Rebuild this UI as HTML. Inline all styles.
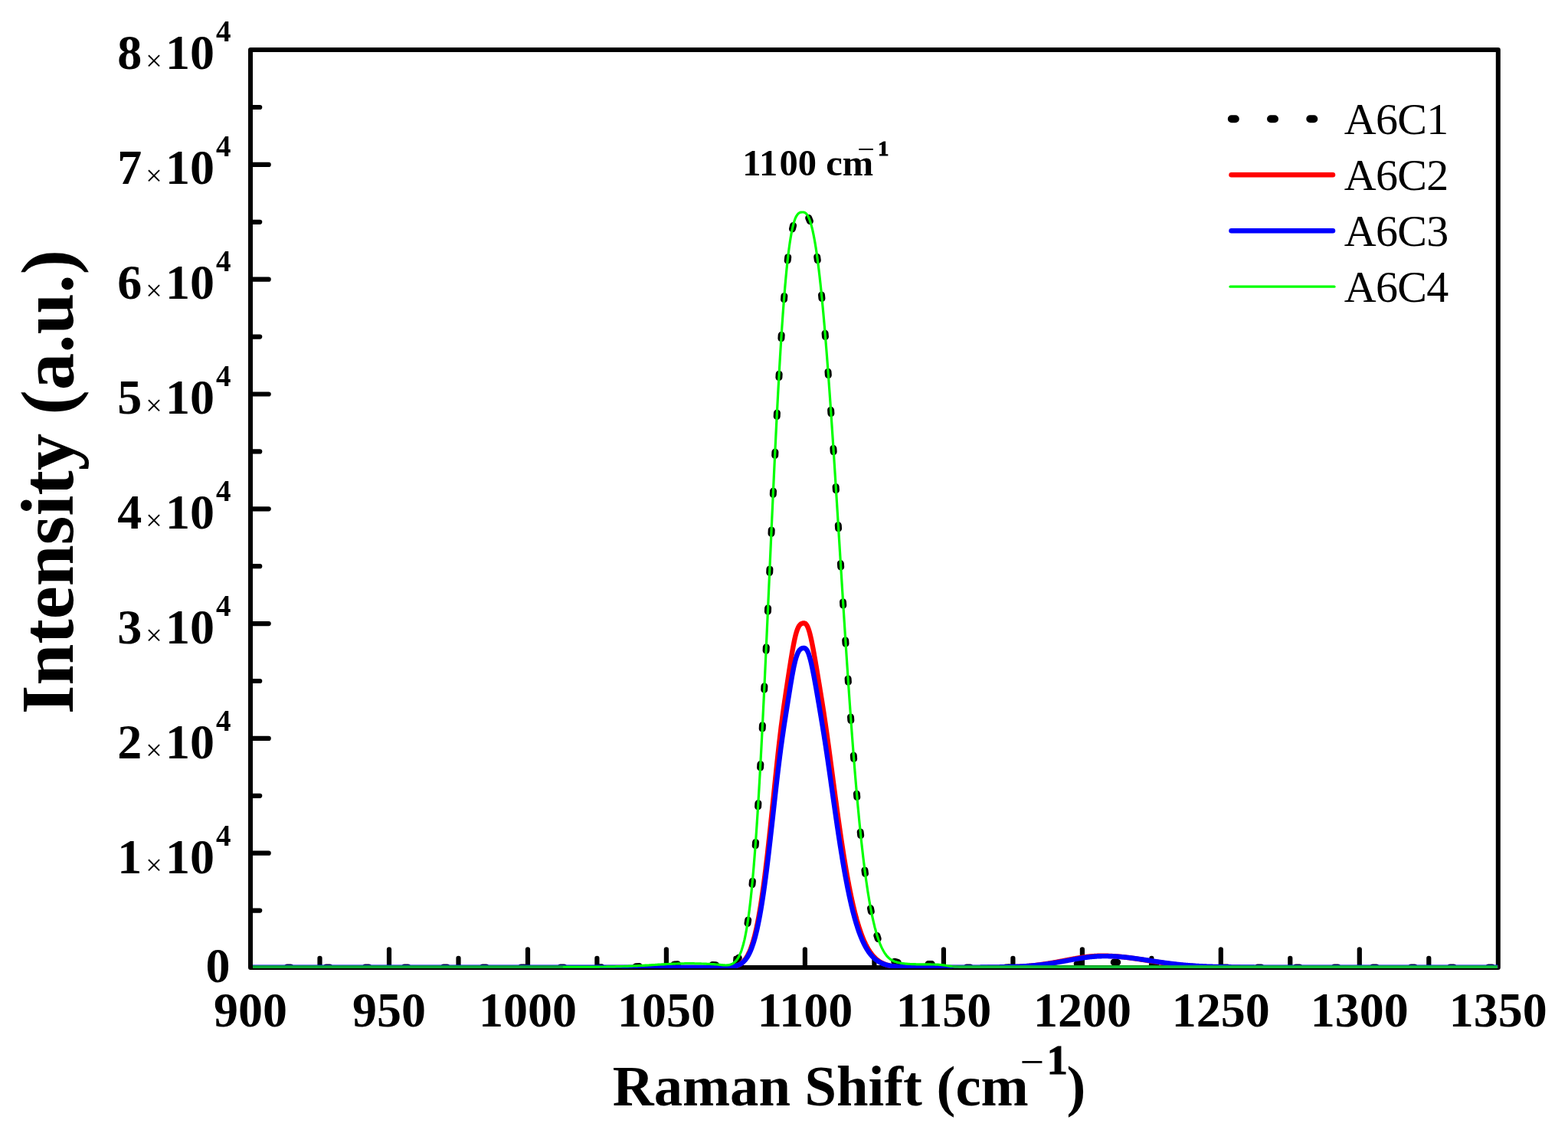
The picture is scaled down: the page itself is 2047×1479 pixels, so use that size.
<!DOCTYPE html>
<html lang="en"><head><meta charset="utf-8"><title>Raman spectra</title>
<style>html,body{margin:0;padding:0;background:#fff}svg{display:block}text{font-family:"Liberation Serif","DejaVu Serif",serif;fill:#000}.b{font-weight:bold}</style></head><body>
<svg width="2047" height="1479" viewBox="0 0 2047 1479">
<rect width="2047" height="1479" fill="#fff"/>
<defs><clipPath id="cp"><rect x="330.0" y="65.0" width="1625.8" height="1198.9"/></clipPath></defs>
<rect x="327.0" y="65.0" width="1628.8" height="1198.0" stroke="#000" stroke-width="6" stroke-linejoin="round" fill="none"/>
<g stroke="#000" stroke-width="6.2" stroke-linecap="round" fill="none">
<line x1="417.5" y1="1262.0" x2="417.5" y2="1250.8"/>
<line x1="508.0" y1="1262.0" x2="508.0" y2="1239.3"/>
<line x1="598.5" y1="1262.0" x2="598.5" y2="1250.8"/>
<line x1="689.0" y1="1262.0" x2="689.0" y2="1239.3"/>
<line x1="779.4" y1="1262.0" x2="779.4" y2="1250.8"/>
<line x1="869.9" y1="1262.0" x2="869.9" y2="1239.3"/>
<line x1="960.4" y1="1262.0" x2="960.4" y2="1250.8"/>
<line x1="1050.9" y1="1262.0" x2="1050.9" y2="1239.3"/>
<line x1="1141.4" y1="1262.0" x2="1141.4" y2="1250.8"/>
<line x1="1231.9" y1="1262.0" x2="1231.9" y2="1239.3"/>
<line x1="1322.4" y1="1262.0" x2="1322.4" y2="1250.8"/>
<line x1="1412.9" y1="1262.0" x2="1412.9" y2="1239.3"/>
<line x1="1503.4" y1="1262.0" x2="1503.4" y2="1250.8"/>
<line x1="1593.8" y1="1262.0" x2="1593.8" y2="1239.3"/>
<line x1="1684.3" y1="1262.0" x2="1684.3" y2="1250.8"/>
<line x1="1774.8" y1="1262.0" x2="1774.8" y2="1239.3"/>
<line x1="1865.3" y1="1262.0" x2="1865.3" y2="1250.8"/>
<line x1="328.0" y1="1188.6" x2="339.2" y2="1188.6"/>
<line x1="328.0" y1="1113.7" x2="350.7" y2="1113.7"/>
<line x1="328.0" y1="1038.8" x2="339.2" y2="1038.8"/>
<line x1="328.0" y1="963.9" x2="350.7" y2="963.9"/>
<line x1="328.0" y1="889.0" x2="339.2" y2="889.0"/>
<line x1="328.0" y1="814.1" x2="350.7" y2="814.1"/>
<line x1="328.0" y1="739.2" x2="339.2" y2="739.2"/>
<line x1="328.0" y1="664.3" x2="350.7" y2="664.3"/>
<line x1="328.0" y1="589.4" x2="339.2" y2="589.4"/>
<line x1="328.0" y1="514.5" x2="350.7" y2="514.5"/>
<line x1="328.0" y1="439.6" x2="339.2" y2="439.6"/>
<line x1="328.0" y1="364.7" x2="350.7" y2="364.7"/>
<line x1="328.0" y1="289.8" x2="339.2" y2="289.8"/>
<line x1="328.0" y1="214.9" x2="350.7" y2="214.9"/>
<line x1="328.0" y1="140.0" x2="339.2" y2="140.0"/>
</g>
<g fill="none" stroke-linejoin="round" clip-path="url(#cp)">
<path d="M374.9,1263.0 l4.50,0.00M425.9,1263.0 l4.50,0.00M476.9,1263.0 l4.50,0.00M528.0,1263.0 l4.50,0.00M579.1,1263.0 l4.50,-0.00M630.1,1263.0 l4.50,-0.00M680.3,1263.0 l4.50,-0.00M731.8,1263.0 l4.50,-0.00M780.8,1262.9 l4.50,-0.04M830.0,1261.7 l4.49,-0.22M880.1,1258.9 l4.50,-0.16M930.1,1259.4 l4.49,0.30M961.8,1254.0 l2.44,-3.78M976.0,1205.4 l0.67,-4.45M982.0,1154.7 l0.42,-4.48M986.2,1103.9 l0.33,-4.49M989.6,1053.0 l0.28,-4.49M992.6,1002.1 l0.24,-4.49M995.2,951.2 l0.23,-4.49M997.7,900.2 l0.21,-4.49M1000.1,849.3 l0.21,-4.50M1002.4,798.3 l0.20,-4.50M1004.7,747.4 l0.20,-4.50M1007.0,696.4 l0.20,-4.50M1009.3,645.5 l0.21,-4.50M1011.7,594.5 l0.22,-4.49M1014.2,543.6 l0.23,-4.49M1016.9,492.7 l0.26,-4.49M1019.9,441.8 l0.29,-4.49M1023.5,390.9 l0.36,-4.49M1028.2,340.1 l0.51,-4.47M1034.5,298.8 l1.05,-4.38M1055.7,284.5 l1.68,4.18M1066.7,335.3 l0.61,4.46M1072.5,385.1 l0.44,4.48M1077.1,435.1 l0.37,4.48M1081.0,485.2 l0.33,4.49M1084.6,535.3 l0.31,4.49M1087.9,585.3 l0.29,4.49M1091.1,635.4 l0.28,4.49M1094.3,685.5 l0.28,4.49M1097.4,735.6 l0.28,4.49M1100.5,785.7 l0.28,4.49M1103.7,835.8 l0.29,4.49M1107.1,885.9 l0.30,4.49M1110.5,936.0 l0.32,4.49M1114.3,986.1 l0.35,4.49M1118.4,1036.1 l0.40,4.48M1123.2,1086.1 l0.46,4.48M1128.9,1135.9 l0.59,4.46M1136.5,1185.6 l0.84,4.42M1144.8,1221.2 l1.37,4.29M1167.8,1255.2 l4.36,1.11M1211.9,1258.5 l4.50,0.06M1262.0,1263.0 l4.50,0.01M1313.0,1262.9 l4.50,-0.03M1362.8,1261.6 l4.49,-0.26M1406.2,1258.2 l4.48,-0.40M1454.2,1256.1 l4.50,0.12M1504.3,1259.3 l4.49,0.36M1554.4,1262.2 l4.50,0.13M1597.8,1262.9 l4.50,0.02M1641.9,1263.0 l4.50,0.00M1692.0,1263.0 l4.50,0.00M1742.0,1263.0 l4.50,0.00M1792.2,1263.0 l4.50,0.00M1842.2,1263.0 l4.50,0.00M1893.2,1263.0 l4.50,0.00M1943.3,1263.0 l4.50,0.00" stroke="#000" stroke-width="9" stroke-linecap="round"/>
<path d="M327.0,1263.2 L327.5,1263.2 L328.0,1263.2 L328.5,1263.2 L329.0,1263.2 L329.5,1263.2 L330.0,1263.2 L330.5,1263.2 L331.0,1263.2 L331.5,1263.2 L332.0,1263.2 L332.5,1263.2 L333.0,1263.2 L333.5,1263.2 L334.0,1263.2 L334.5,1263.2 L335.0,1263.2 L335.5,1263.2 L336.0,1263.2 L336.5,1263.2 L337.0,1263.2 L337.5,1263.2 L338.0,1263.2 L338.5,1263.2 L339.0,1263.2 L339.5,1263.2 L340.0,1263.2 L340.5,1263.2 L341.0,1263.2 L341.5,1263.2 L342.0,1263.2 L342.5,1263.2 L343.0,1263.2 L343.5,1263.2 L344.0,1263.2 L344.5,1263.2 L345.0,1263.2 L345.5,1263.2 L346.0,1263.2 L346.5,1263.2 L347.0,1263.2 L347.5,1263.2 L348.0,1263.2 L348.5,1263.2 L349.0,1263.2 L349.5,1263.2 L350.0,1263.2 L350.5,1263.2 L351.0,1263.2 L351.5,1263.2 L352.0,1263.2 L352.5,1263.2 L353.0,1263.2 L353.5,1263.2 L354.0,1263.2 L354.5,1263.2 L355.0,1263.2 L355.5,1263.2 L356.0,1263.2 L356.5,1263.2 L357.0,1263.2 L357.5,1263.2 L358.0,1263.2 L358.5,1263.2 L359.0,1263.2 L359.5,1263.2 L360.0,1263.2 L360.5,1263.2 L361.0,1263.2 L361.5,1263.2 L362.0,1263.2 L362.5,1263.2 L363.0,1263.2 L363.5,1263.2 L364.0,1263.2 L364.5,1263.2 L365.0,1263.2 L365.5,1263.2 L366.0,1263.2 L366.5,1263.2 L367.0,1263.2 L367.5,1263.2 L368.0,1263.2 L368.5,1263.2 L369.0,1263.2 L369.5,1263.2 L370.0,1263.2 L370.5,1263.2 L371.0,1263.2 L371.5,1263.2 L372.0,1263.2 L372.5,1263.2 L373.0,1263.2 L373.5,1263.2 L374.0,1263.2 L374.5,1263.2 L375.0,1263.2 L375.5,1263.2 L376.0,1263.2 L376.5,1263.2 L377.0,1263.2 L377.5,1263.2 L378.0,1263.2 L378.5,1263.2 L379.0,1263.2 L379.5,1263.2 L380.0,1263.2 L380.5,1263.2 L381.0,1263.2 L381.5,1263.2 L382.0,1263.2 L382.5,1263.2 L383.0,1263.2 L383.5,1263.2 L384.0,1263.2 L384.5,1263.2 L385.0,1263.2 L385.5,1263.2 L386.0,1263.2 L386.5,1263.2 L387.0,1263.2 L387.5,1263.2 L388.0,1263.2 L388.5,1263.2 L389.0,1263.2 L389.5,1263.2 L390.0,1263.2 L390.5,1263.2 L391.0,1263.2 L391.5,1263.2 L392.0,1263.2 L392.5,1263.2 L393.0,1263.2 L393.5,1263.2 L394.0,1263.2 L394.5,1263.2 L395.0,1263.2 L395.5,1263.2 L396.0,1263.2 L396.5,1263.2 L397.0,1263.2 L397.5,1263.2 L398.0,1263.2 L398.5,1263.2 L399.0,1263.2 L399.5,1263.2 L400.0,1263.2 L400.5,1263.2 L401.0,1263.2 L401.5,1263.2 L402.0,1263.2 L402.5,1263.2 L403.0,1263.2 L403.5,1263.2 L404.0,1263.2 L404.5,1263.2 L405.0,1263.2 L405.5,1263.2 L406.0,1263.2 L406.5,1263.2 L407.0,1263.2 L407.5,1263.2 L408.0,1263.2 L408.5,1263.2 L409.0,1263.2 L409.5,1263.2 L410.0,1263.2 L410.5,1263.2 L411.0,1263.2 L411.5,1263.2 L412.0,1263.2 L412.5,1263.2 L413.0,1263.2 L413.5,1263.2 L414.0,1263.2 L414.5,1263.2 L415.0,1263.2 L415.5,1263.2 L416.0,1263.2 L416.5,1263.2 L417.0,1263.2 L417.5,1263.2 L418.0,1263.2 L418.5,1263.2 L419.0,1263.2 L419.5,1263.2 L420.0,1263.2 L420.5,1263.2 L421.0,1263.2 L421.5,1263.2 L422.0,1263.2 L422.5,1263.2 L423.0,1263.2 L423.5,1263.2 L424.0,1263.2 L424.5,1263.2 L425.0,1263.2 L425.5,1263.2 L426.0,1263.2 L426.5,1263.2 L427.0,1263.2 L427.5,1263.2 L428.0,1263.2 L428.5,1263.2 L429.0,1263.2 L429.5,1263.2 L430.0,1263.2 L430.5,1263.2 L431.0,1263.2 L431.5,1263.2 L432.0,1263.2 L432.5,1263.2 L433.0,1263.2 L433.5,1263.2 L434.0,1263.2 L434.5,1263.2 L435.0,1263.2 L435.5,1263.2 L436.0,1263.2 L436.5,1263.2 L437.0,1263.2 L437.5,1263.2 L438.0,1263.2 L438.5,1263.2 L439.0,1263.2 L439.5,1263.2 L440.0,1263.2 L440.5,1263.2 L441.0,1263.2 L441.5,1263.2 L442.0,1263.2 L442.5,1263.2 L443.0,1263.2 L443.5,1263.2 L444.0,1263.2 L444.5,1263.2 L445.0,1263.2 L445.5,1263.2 L446.0,1263.2 L446.5,1263.2 L447.0,1263.2 L447.5,1263.2 L448.0,1263.2 L448.5,1263.2 L449.0,1263.2 L449.5,1263.2 L450.0,1263.2 L450.5,1263.2 L451.0,1263.2 L451.5,1263.2 L452.0,1263.2 L452.5,1263.2 L453.0,1263.2 L453.5,1263.2 L454.0,1263.2 L454.5,1263.2 L455.0,1263.2 L455.5,1263.2 L456.0,1263.2 L456.5,1263.2 L457.0,1263.2 L457.5,1263.2 L458.0,1263.2 L458.5,1263.2 L459.0,1263.2 L459.5,1263.2 L460.0,1263.2 L460.5,1263.2 L461.0,1263.2 L461.5,1263.2 L462.0,1263.2 L462.5,1263.2 L463.0,1263.2 L463.5,1263.2 L464.0,1263.2 L464.5,1263.2 L465.0,1263.2 L465.5,1263.2 L466.0,1263.2 L466.5,1263.2 L467.0,1263.2 L467.5,1263.2 L468.0,1263.2 L468.5,1263.2 L469.0,1263.2 L469.5,1263.2 L470.0,1263.2 L470.5,1263.2 L471.0,1263.2 L471.5,1263.2 L472.0,1263.2 L472.5,1263.2 L473.0,1263.2 L473.5,1263.2 L474.0,1263.2 L474.5,1263.2 L475.0,1263.2 L475.5,1263.2 L476.0,1263.2 L476.5,1263.2 L477.0,1263.2 L477.5,1263.2 L478.0,1263.2 L478.5,1263.2 L479.0,1263.2 L479.5,1263.2 L480.0,1263.2 L480.5,1263.2 L481.0,1263.2 L481.5,1263.2 L482.0,1263.2 L482.5,1263.2 L483.0,1263.2 L483.5,1263.2 L484.0,1263.2 L484.5,1263.2 L485.0,1263.2 L485.5,1263.2 L486.0,1263.2 L486.5,1263.2 L487.0,1263.2 L487.5,1263.2 L488.0,1263.2 L488.5,1263.2 L489.0,1263.2 L489.5,1263.2 L490.0,1263.2 L490.5,1263.2 L491.0,1263.2 L491.5,1263.2 L492.0,1263.2 L492.5,1263.2 L493.0,1263.2 L493.5,1263.2 L494.0,1263.2 L494.5,1263.2 L495.0,1263.2 L495.5,1263.2 L496.0,1263.2 L496.5,1263.2 L497.0,1263.2 L497.5,1263.2 L498.0,1263.2 L498.5,1263.2 L499.0,1263.2 L499.5,1263.2 L500.0,1263.2 L500.5,1263.2 L501.0,1263.2 L501.5,1263.2 L502.0,1263.2 L502.5,1263.2 L503.0,1263.2 L503.5,1263.2 L504.0,1263.2 L504.5,1263.2 L505.0,1263.2 L505.5,1263.2 L506.0,1263.2 L506.5,1263.2 L507.0,1263.2 L507.5,1263.2 L508.0,1263.2 L508.5,1263.2 L509.0,1263.2 L509.5,1263.2 L510.0,1263.2 L510.5,1263.2 L511.0,1263.2 L511.5,1263.2 L512.0,1263.2 L512.5,1263.2 L513.0,1263.2 L513.5,1263.2 L514.0,1263.2 L514.5,1263.2 L515.0,1263.2 L515.5,1263.2 L516.0,1263.2 L516.5,1263.2 L517.0,1263.2 L517.5,1263.2 L518.0,1263.2 L518.5,1263.2 L519.0,1263.2 L519.5,1263.2 L520.0,1263.2 L520.5,1263.2 L521.0,1263.2 L521.5,1263.2 L522.0,1263.2 L522.5,1263.2 L523.0,1263.2 L523.5,1263.2 L524.0,1263.2 L524.5,1263.2 L525.0,1263.2 L525.5,1263.2 L526.0,1263.2 L526.5,1263.2 L527.0,1263.2 L527.5,1263.2 L528.0,1263.2 L528.5,1263.2 L529.0,1263.2 L529.5,1263.2 L530.0,1263.2 L530.5,1263.2 L531.0,1263.2 L531.5,1263.2 L532.0,1263.2 L532.5,1263.2 L533.0,1263.2 L533.5,1263.2 L534.0,1263.2 L534.5,1263.2 L535.0,1263.2 L535.5,1263.2 L536.0,1263.2 L536.5,1263.2 L537.0,1263.2 L537.5,1263.2 L538.0,1263.2 L538.5,1263.2 L539.0,1263.2 L539.5,1263.2 L540.0,1263.2 L540.5,1263.2 L541.0,1263.2 L541.5,1263.2 L542.0,1263.2 L542.5,1263.2 L543.0,1263.2 L543.5,1263.2 L544.0,1263.2 L544.5,1263.2 L545.0,1263.2 L545.5,1263.2 L546.0,1263.2 L546.5,1263.2 L547.0,1263.2 L547.5,1263.2 L548.0,1263.2 L548.5,1263.2 L549.0,1263.2 L549.5,1263.2 L550.0,1263.2 L550.5,1263.2 L551.0,1263.2 L551.5,1263.2 L552.0,1263.2 L552.5,1263.2 L553.0,1263.2 L553.5,1263.2 L554.0,1263.2 L554.5,1263.2 L555.0,1263.2 L555.5,1263.2 L556.0,1263.2 L556.5,1263.2 L557.0,1263.2 L557.5,1263.2 L558.0,1263.2 L558.5,1263.2 L559.0,1263.2 L559.5,1263.2 L560.0,1263.2 L560.5,1263.2 L561.0,1263.2 L561.5,1263.2 L562.0,1263.2 L562.5,1263.2 L563.0,1263.2 L563.5,1263.2 L564.0,1263.2 L564.5,1263.2 L565.0,1263.2 L565.5,1263.2 L566.0,1263.2 L566.5,1263.2 L567.0,1263.2 L567.5,1263.2 L568.0,1263.2 L568.5,1263.2 L569.0,1263.2 L569.5,1263.2 L570.0,1263.2 L570.5,1263.2 L571.0,1263.2 L571.5,1263.2 L572.0,1263.2 L572.5,1263.2 L573.0,1263.2 L573.5,1263.2 L574.0,1263.2 L574.5,1263.2 L575.0,1263.2 L575.5,1263.2 L576.0,1263.2 L576.5,1263.2 L577.0,1263.2 L577.5,1263.2 L578.0,1263.2 L578.5,1263.2 L579.0,1263.2 L579.5,1263.2 L580.0,1263.2 L580.5,1263.2 L581.0,1263.2 L581.5,1263.2 L582.0,1263.2 L582.5,1263.2 L583.0,1263.2 L583.5,1263.2 L584.0,1263.2 L584.5,1263.2 L585.0,1263.2 L585.5,1263.2 L586.0,1263.2 L586.5,1263.2 L587.0,1263.2 L587.5,1263.2 L588.0,1263.2 L588.5,1263.2 L589.0,1263.2 L589.5,1263.2 L590.0,1263.2 L590.5,1263.2 L591.0,1263.2 L591.5,1263.2 L592.0,1263.2 L592.5,1263.2 L593.0,1263.2 L593.5,1263.2 L594.0,1263.2 L594.5,1263.2 L595.0,1263.2 L595.5,1263.2 L596.0,1263.2 L596.5,1263.2 L597.0,1263.2 L597.5,1263.2 L598.0,1263.2 L598.5,1263.2 L599.0,1263.2 L599.5,1263.2 L600.0,1263.2 L600.5,1263.2 L601.0,1263.2 L601.5,1263.2 L602.0,1263.2 L602.5,1263.2 L603.0,1263.2 L603.5,1263.2 L604.0,1263.2 L604.5,1263.2 L605.0,1263.2 L605.5,1263.2 L606.0,1263.2 L606.5,1263.2 L607.0,1263.2 L607.5,1263.2 L608.0,1263.2 L608.5,1263.2 L609.0,1263.2 L609.5,1263.2 L610.0,1263.2 L610.5,1263.2 L611.0,1263.2 L611.5,1263.2 L612.0,1263.2 L612.5,1263.2 L613.0,1263.2 L613.5,1263.2 L614.0,1263.2 L614.5,1263.2 L615.0,1263.2 L615.5,1263.2 L616.0,1263.2 L616.5,1263.2 L617.0,1263.2 L617.5,1263.2 L618.0,1263.2 L618.5,1263.2 L619.0,1263.2 L619.5,1263.2 L620.0,1263.2 L620.5,1263.2 L621.0,1263.2 L621.5,1263.2 L622.0,1263.2 L622.5,1263.2 L623.0,1263.2 L623.5,1263.2 L624.0,1263.2 L624.5,1263.2 L625.0,1263.2 L625.5,1263.2 L626.0,1263.2 L626.5,1263.2 L627.0,1263.2 L627.5,1263.2 L628.0,1263.2 L628.5,1263.2 L629.0,1263.2 L629.5,1263.2 L630.0,1263.2 L630.5,1263.2 L631.0,1263.2 L631.5,1263.2 L632.0,1263.2 L632.5,1263.2 L633.0,1263.2 L633.5,1263.2 L634.0,1263.2 L634.5,1263.2 L635.0,1263.2 L635.5,1263.2 L636.0,1263.2 L636.5,1263.2 L637.0,1263.2 L637.5,1263.2 L638.0,1263.2 L638.5,1263.2 L639.0,1263.2 L639.5,1263.2 L640.0,1263.2 L640.5,1263.2 L641.0,1263.2 L641.5,1263.2 L642.0,1263.2 L642.5,1263.2 L643.0,1263.2 L643.5,1263.2 L644.0,1263.2 L644.5,1263.2 L645.0,1263.2 L645.5,1263.2 L646.0,1263.2 L646.5,1263.2 L647.0,1263.2 L647.5,1263.2 L648.0,1263.2 L648.5,1263.2 L649.0,1263.2 L649.5,1263.2 L650.0,1263.2 L650.5,1263.2 L651.0,1263.2 L651.5,1263.2 L652.0,1263.2 L652.5,1263.2 L653.0,1263.2 L653.5,1263.2 L654.0,1263.2 L654.5,1263.2 L655.0,1263.2 L655.5,1263.2 L656.0,1263.2 L656.5,1263.2 L657.0,1263.2 L657.5,1263.2 L658.0,1263.2 L658.5,1263.2 L659.0,1263.2 L659.5,1263.2 L660.0,1263.2 L660.5,1263.2 L661.0,1263.2 L661.5,1263.2 L662.0,1263.2 L662.5,1263.2 L663.0,1263.2 L663.5,1263.2 L664.0,1263.2 L664.5,1263.2 L665.0,1263.2 L665.5,1263.2 L666.0,1263.2 L666.5,1263.2 L667.0,1263.2 L667.5,1263.2 L668.0,1263.2 L668.5,1263.2 L669.0,1263.2 L669.5,1263.2 L670.0,1263.2 L670.5,1263.2 L671.0,1263.2 L671.5,1263.2 L672.0,1263.2 L672.5,1263.2 L673.0,1263.2 L673.5,1263.2 L674.0,1263.2 L674.5,1263.2 L675.0,1263.2 L675.5,1263.2 L676.0,1263.2 L676.5,1263.2 L677.0,1263.2 L677.5,1263.2 L678.0,1263.2 L678.5,1263.2 L679.0,1263.2 L679.5,1263.2 L680.0,1263.2 L680.5,1263.2 L681.0,1263.2 L681.5,1263.2 L682.0,1263.2 L682.5,1263.2 L683.0,1263.2 L683.5,1263.2 L684.0,1263.2 L684.5,1263.2 L685.0,1263.2 L685.5,1263.2 L686.0,1263.2 L686.5,1263.2 L687.0,1263.2 L687.5,1263.2 L688.0,1263.2 L688.5,1263.2 L689.0,1263.2 L689.5,1263.2 L690.0,1263.2 L690.5,1263.2 L691.0,1263.2 L691.5,1263.2 L692.0,1263.2 L692.5,1263.2 L693.0,1263.2 L693.5,1263.2 L694.0,1263.2 L694.5,1263.2 L695.0,1263.2 L695.5,1263.2 L696.0,1263.2 L696.5,1263.2 L697.0,1263.2 L697.5,1263.2 L698.0,1263.2 L698.5,1263.2 L699.0,1263.2 L699.5,1263.2 L700.0,1263.2 L700.5,1263.2 L701.0,1263.2 L701.5,1263.2 L702.0,1263.2 L702.5,1263.2 L703.0,1263.2 L703.5,1263.2 L704.0,1263.2 L704.5,1263.2 L705.0,1263.2 L705.5,1263.2 L706.0,1263.2 L706.5,1263.2 L707.0,1263.2 L707.5,1263.2 L708.0,1263.2 L708.5,1263.2 L709.0,1263.2 L709.5,1263.2 L710.0,1263.2 L710.5,1263.2 L711.0,1263.2 L711.5,1263.2 L712.0,1263.2 L712.5,1263.2 L713.0,1263.2 L713.5,1263.2 L714.0,1263.2 L714.5,1263.2 L715.0,1263.2 L715.5,1263.2 L716.0,1263.2 L716.5,1263.2 L717.0,1263.2 L717.5,1263.2 L718.0,1263.2 L718.5,1263.2 L719.0,1263.2 L719.5,1263.2 L720.0,1263.2 L720.5,1263.2 L721.0,1263.2 L721.5,1263.2 L722.0,1263.2 L722.5,1263.2 L723.0,1263.2 L723.5,1263.2 L724.0,1263.2 L724.5,1263.2 L725.0,1263.2 L725.5,1263.2 L726.0,1263.2 L726.5,1263.2 L727.0,1263.2 L727.5,1263.2 L728.0,1263.2 L728.5,1263.2 L729.0,1263.2 L729.5,1263.2 L730.0,1263.2 L730.5,1263.2 L731.0,1263.2 L731.5,1263.2 L732.0,1263.2 L732.5,1263.2 L733.0,1263.2 L733.5,1263.2 L734.0,1263.2 L734.5,1263.2 L735.0,1263.2 L735.5,1263.2 L736.0,1263.2 L736.5,1263.2 L737.0,1263.2 L737.5,1263.2 L738.0,1263.2 L738.5,1263.2 L739.0,1263.2 L739.5,1263.2 L740.0,1263.2 L740.5,1263.2 L741.0,1263.2 L741.5,1263.2 L742.0,1263.2 L742.5,1263.2 L743.0,1263.2 L743.5,1263.2 L744.0,1263.2 L744.5,1263.2 L745.0,1263.2 L745.5,1263.2 L746.0,1263.2 L746.5,1263.2 L747.0,1263.2 L747.5,1263.2 L748.0,1263.2 L748.5,1263.2 L749.0,1263.2 L749.5,1263.2 L750.0,1263.2 L750.5,1263.2 L751.0,1263.2 L751.5,1263.2 L752.0,1263.2 L752.5,1263.2 L753.0,1263.2 L753.5,1263.2 L754.0,1263.2 L754.5,1263.2 L755.0,1263.2 L755.5,1263.2 L756.0,1263.2 L756.5,1263.2 L757.0,1263.2 L757.5,1263.2 L758.0,1263.2 L758.5,1263.2 L759.0,1263.2 L759.5,1263.2 L760.0,1263.2 L760.5,1263.2 L761.0,1263.2 L761.5,1263.2 L762.0,1263.2 L762.5,1263.2 L763.0,1263.2 L763.5,1263.2 L764.0,1263.2 L764.5,1263.2 L765.0,1263.2 L765.5,1263.2 L766.0,1263.2 L766.5,1263.2 L767.0,1263.2 L767.5,1263.2 L768.0,1263.2 L768.5,1263.2 L769.0,1263.2 L769.5,1263.2 L770.0,1263.2 L770.5,1263.2 L771.0,1263.2 L771.5,1263.2 L772.0,1263.2 L772.5,1263.2 L773.0,1263.2 L773.5,1263.2 L774.0,1263.2 L774.5,1263.2 L775.0,1263.2 L775.5,1263.2 L776.0,1263.2 L776.5,1263.2 L777.0,1263.2 L777.5,1263.2 L778.0,1263.2 L778.5,1263.2 L779.0,1263.2 L779.5,1263.2 L780.0,1263.2 L780.5,1263.2 L781.0,1263.2 L781.5,1263.2 L782.0,1263.2 L782.5,1263.2 L783.0,1263.2 L783.5,1263.2 L784.0,1263.2 L784.5,1263.2 L785.0,1263.2 L785.5,1263.2 L786.0,1263.2 L786.5,1263.2 L787.0,1263.2 L787.5,1263.2 L788.0,1263.2 L788.5,1263.2 L789.0,1263.2 L789.5,1263.2 L790.0,1263.2 L790.5,1263.2 L791.0,1263.2 L791.5,1263.2 L792.0,1263.2 L792.5,1263.2 L793.0,1263.2 L793.5,1263.2 L794.0,1263.2 L794.5,1263.2 L795.0,1263.2 L795.5,1263.2 L796.0,1263.2 L796.5,1263.2 L797.0,1263.2 L797.5,1263.2 L798.0,1263.2 L798.5,1263.2 L799.0,1263.2 L799.5,1263.2 L800.0,1263.2 L800.5,1263.2 L801.0,1263.2 L801.5,1263.2 L802.0,1263.2 L802.5,1263.2 L803.0,1263.2 L803.5,1263.2 L804.0,1263.2 L804.5,1263.2 L805.0,1263.2 L805.5,1263.2 L806.0,1263.2 L806.5,1263.2 L807.0,1263.2 L807.5,1263.2 L808.0,1263.2 L808.5,1263.2 L809.0,1263.2 L809.5,1263.2 L810.0,1263.2 L810.5,1263.2 L811.0,1263.2 L811.5,1263.2 L812.0,1263.2 L812.5,1263.2 L813.0,1263.2 L813.5,1263.2 L814.0,1263.2 L814.5,1263.2 L815.0,1263.2 L815.5,1263.2 L816.0,1263.2 L816.5,1263.2 L817.0,1263.2 L817.5,1263.2 L818.0,1263.2 L818.5,1263.2 L819.0,1263.2 L819.5,1263.2 L820.0,1263.2 L820.5,1263.2 L821.0,1263.2 L821.5,1263.2 L822.0,1263.2 L822.5,1263.2 L823.0,1263.2 L823.5,1263.2 L824.0,1263.2 L824.5,1263.2 L825.0,1263.2 L825.5,1263.2 L826.0,1263.2 L826.5,1263.2 L827.0,1263.2 L827.5,1263.2 L828.0,1263.2 L828.5,1263.2 L829.0,1263.2 L829.5,1263.2 L830.0,1263.2 L830.5,1263.2 L831.0,1263.2 L831.5,1263.2 L832.0,1263.2 L832.5,1263.2 L833.0,1263.2 L833.5,1263.2 L834.0,1263.2 L834.5,1263.2 L835.0,1263.2 L835.5,1263.2 L836.0,1263.2 L836.5,1263.2 L837.0,1263.2 L837.5,1263.2 L838.0,1263.2 L838.5,1263.2 L839.0,1263.2 L839.5,1263.2 L840.0,1263.2 L840.5,1263.2 L841.0,1263.2 L841.5,1263.2 L842.0,1263.2 L842.5,1263.2 L843.0,1263.2 L843.5,1263.2 L844.0,1263.2 L844.5,1263.2 L845.0,1263.2 L845.5,1263.2 L846.0,1263.2 L846.5,1263.2 L847.0,1263.2 L847.5,1263.2 L848.0,1263.2 L848.5,1263.2 L849.0,1263.2 L849.5,1263.2 L850.0,1263.2 L850.5,1263.2 L851.0,1263.2 L851.5,1263.2 L852.0,1263.2 L852.5,1263.2 L853.0,1263.2 L853.5,1263.2 L854.0,1263.2 L854.5,1263.2 L855.0,1263.2 L855.5,1263.2 L856.0,1263.2 L856.5,1263.2 L857.0,1263.2 L857.5,1263.2 L858.0,1263.2 L858.5,1263.2 L859.0,1263.2 L859.5,1263.2 L860.0,1263.2 L860.5,1263.2 L861.0,1263.2 L861.5,1263.2 L862.0,1263.2 L862.5,1263.2 L863.0,1263.2 L863.5,1263.2 L864.0,1263.2 L864.5,1263.2 L865.0,1263.2 L865.5,1263.2 L866.0,1263.2 L866.5,1263.2 L867.0,1263.2 L867.5,1263.2 L868.0,1263.2 L868.5,1263.2 L869.0,1263.2 L869.5,1263.2 L870.0,1263.2 L870.5,1263.2 L871.0,1263.2 L871.5,1263.2 L872.0,1263.2 L872.5,1263.2 L873.0,1263.2 L873.5,1263.2 L874.0,1263.2 L874.5,1263.2 L875.0,1263.2 L875.5,1263.2 L876.0,1263.2 L876.5,1263.2 L877.0,1263.2 L877.5,1263.2 L878.0,1263.2 L878.5,1263.2 L879.0,1263.2 L879.5,1263.2 L880.0,1263.2 L880.5,1263.2 L881.0,1263.2 L881.5,1263.2 L882.0,1263.2 L882.5,1263.2 L883.0,1263.2 L883.5,1263.2 L884.0,1263.2 L884.5,1263.2 L885.0,1263.2 L885.5,1263.2 L886.0,1263.2 L886.5,1263.2 L887.0,1263.2 L887.5,1263.2 L888.0,1263.2 L888.5,1263.2 L889.0,1263.2 L889.5,1263.2 L890.0,1263.2 L890.5,1263.2 L891.0,1263.2 L891.5,1263.2 L892.0,1263.2 L892.5,1263.2 L893.0,1263.2 L893.5,1263.2 L894.0,1263.2 L894.5,1263.2 L895.0,1263.2 L895.5,1263.2 L896.0,1263.2 L896.5,1263.2 L897.0,1263.2 L897.5,1263.2 L898.0,1263.2 L898.5,1263.2 L899.0,1263.2 L899.5,1263.2 L900.0,1263.2 L900.5,1263.2 L901.0,1263.2 L901.5,1263.2 L902.0,1263.2 L902.5,1263.2 L903.0,1263.2 L903.5,1263.2 L904.0,1263.2 L904.5,1263.2 L905.0,1263.2 L905.5,1263.2 L906.0,1263.2 L906.5,1263.2 L907.0,1263.2 L907.5,1263.2 L908.0,1263.2 L908.5,1263.2 L909.0,1263.2 L909.5,1263.2 L910.0,1263.2 L910.5,1263.2 L911.0,1263.2 L911.5,1263.2 L912.0,1263.2 L912.5,1263.2 L913.0,1263.2 L913.5,1263.2 L914.0,1263.2 L914.5,1263.2 L915.0,1263.2 L915.5,1263.2 L916.0,1263.2 L916.5,1263.2 L917.0,1263.2 L917.5,1263.2 L918.0,1263.2 L918.5,1263.2 L919.0,1263.2 L919.5,1263.2 L920.0,1263.2 L920.5,1263.2 L921.0,1263.2 L921.5,1263.2 L922.0,1263.2 L922.5,1263.2 L923.0,1263.2 L923.5,1263.2 L924.0,1263.2 L924.5,1263.2 L925.0,1263.2 L925.5,1263.2 L926.0,1263.2 L926.5,1263.2 L927.0,1263.2 L927.5,1263.2 L928.0,1263.2 L928.5,1263.2 L929.0,1263.2 L929.5,1263.2 L930.0,1263.2 L930.5,1263.2 L931.0,1263.2 L931.5,1263.2 L932.0,1263.2 L932.5,1263.2 L933.0,1263.2 L933.5,1263.2 L934.0,1263.2 L934.5,1263.2 L935.0,1263.2 L935.5,1263.2 L936.0,1263.2 L936.5,1263.2 L937.0,1263.2 L937.5,1263.2 L938.0,1263.2 L938.5,1263.2 L939.0,1263.2 L939.5,1263.2 L940.0,1263.2 L940.5,1263.1 L941.0,1263.1 L941.5,1263.1 L942.0,1263.1 L942.5,1263.1 L943.0,1263.1 L943.5,1263.1 L944.0,1263.1 L944.5,1263.1 L945.0,1263.1 L945.5,1263.1 L946.0,1263.0 L946.5,1263.0 L947.0,1263.0 L947.5,1263.0 L948.0,1263.0 L948.5,1263.0 L949.0,1262.9 L949.5,1262.9 L950.0,1262.9 L950.5,1262.8 L951.0,1262.8 L951.5,1262.8 L952.0,1262.7 L952.5,1262.7 L953.0,1262.6 L953.5,1262.6 L954.0,1262.5 L954.5,1262.5 L955.0,1262.4 L955.5,1262.3 L956.0,1262.3 L956.5,1262.2 L957.0,1262.1 L957.5,1262.0 L958.0,1261.9 L958.5,1261.8 L959.0,1261.7 L959.5,1261.5 L960.0,1261.4 L960.5,1261.2 L961.0,1261.1 L961.5,1260.9 L962.0,1260.7 L962.5,1260.5 L963.0,1260.3 L963.5,1260.1 L964.0,1259.9 L964.5,1259.6 L965.0,1259.4 L965.5,1259.1 L966.0,1258.8 L966.5,1258.5 L967.0,1258.1 L967.5,1257.8 L968.0,1257.4 L968.5,1257.0 L969.0,1256.5 L969.5,1256.1 L970.0,1255.6 L970.5,1255.1 L971.0,1254.5 L971.5,1254.0 L972.0,1253.4 L972.5,1252.7 L973.0,1252.1 L973.5,1251.4 L974.0,1250.6 L974.5,1249.8 L975.0,1249.0 L975.5,1248.2 L976.0,1247.3 L976.5,1246.3 L977.0,1245.3 L977.5,1244.3 L978.0,1243.2 L978.5,1242.1 L979.0,1240.9 L979.5,1239.7 L980.0,1238.4 L980.5,1237.0 L981.0,1235.6 L981.5,1234.2 L982.0,1232.6 L982.5,1231.1 L983.0,1229.4 L983.5,1227.7 L984.0,1226.0 L984.5,1224.1 L985.0,1222.2 L985.5,1220.2 L986.0,1218.2 L986.5,1216.1 L987.0,1213.9 L987.5,1211.6 L988.0,1209.3 L988.5,1206.9 L989.0,1204.4 L989.5,1201.9 L990.0,1199.3 L990.5,1196.5 L991.0,1193.8 L991.5,1190.9 L992.0,1188.0 L992.5,1185.0 L993.0,1181.9 L993.5,1178.7 L994.0,1175.4 L994.5,1172.1 L995.0,1168.7 L995.5,1165.2 L996.0,1161.7 L996.5,1158.1 L997.0,1154.4 L997.5,1150.6 L998.0,1146.7 L998.5,1142.8 L999.0,1138.8 L999.5,1134.8 L1000.0,1130.7 L1000.5,1126.5 L1001.0,1122.3 L1001.5,1118.0 L1002.0,1113.6 L1002.5,1109.2 L1003.0,1104.7 L1003.5,1100.2 L1004.0,1095.6 L1004.5,1091.0 L1005.0,1086.4 L1005.5,1081.7 L1006.0,1076.9 L1006.5,1072.2 L1007.0,1067.4 L1007.5,1062.6 L1008.0,1057.7 L1008.5,1052.9 L1009.0,1048.0 L1009.5,1043.1 L1010.0,1038.2 L1010.5,1033.4 L1011.0,1028.5 L1011.5,1023.6 L1012.0,1018.8 L1012.5,1013.9 L1013.0,1009.1 L1013.5,1004.4 L1014.0,999.6 L1014.5,994.9 L1015.0,990.3 L1015.5,985.6 L1016.0,981.1 L1016.5,976.6 L1017.0,972.2 L1017.5,967.8 L1018.0,963.5 L1018.5,959.3 L1019.0,955.1 L1019.5,951.0 L1020.0,947.0 L1020.5,943.1 L1021.0,939.3 L1021.5,935.5 L1022.0,931.7 L1022.5,928.1 L1023.0,924.5 L1023.5,920.9 L1024.0,917.4 L1024.5,914.0 L1025.0,910.6 L1025.5,907.2 L1026.0,903.8 L1026.5,900.5 L1027.0,897.2 L1027.5,893.9 L1028.0,890.6 L1028.5,887.3 L1029.0,884.1 L1029.5,880.8 L1030.0,877.5 L1030.5,874.3 L1031.0,871.1 L1031.5,867.9 L1032.0,864.7 L1032.5,861.6 L1033.0,858.5 L1033.5,855.4 L1034.0,852.4 L1034.5,849.5 L1035.0,846.7 L1035.5,844.0 L1036.0,841.3 L1036.5,838.8 L1037.0,836.3 L1037.5,834.0 L1038.0,831.9 L1038.5,829.8 L1039.0,827.9 L1039.5,826.1 L1040.0,824.5 L1040.5,823.0 L1041.0,821.6 L1041.5,820.4 L1042.0,819.3 L1042.5,818.3 L1043.0,817.4 L1043.5,816.7 L1044.0,816.0 L1044.5,815.5 L1045.0,815.0 L1045.5,814.6 L1046.0,814.3 L1046.5,814.1 L1047.0,813.9 L1047.5,813.7 L1048.0,813.6 L1048.5,813.5 L1049.0,813.5 L1049.5,813.5 L1050.0,813.5 L1050.5,813.6 L1051.0,813.8 L1051.5,814.1 L1052.0,814.6 L1052.5,815.1 L1053.0,815.8 L1053.5,816.6 L1054.0,817.5 L1054.5,818.6 L1055.0,819.9 L1055.5,821.2 L1056.0,822.7 L1056.5,824.4 L1057.0,826.2 L1057.5,828.1 L1058.0,830.1 L1058.5,832.2 L1059.0,834.5 L1059.5,836.8 L1060.0,839.2 L1060.5,841.7 L1061.0,844.3 L1061.5,846.9 L1062.0,849.6 L1062.5,852.4 L1063.0,855.2 L1063.5,858.0 L1064.0,860.9 L1064.5,863.8 L1065.0,866.7 L1065.5,869.6 L1066.0,872.6 L1066.5,875.6 L1067.0,878.6 L1067.5,881.6 L1068.0,884.6 L1068.5,887.6 L1069.0,890.6 L1069.5,893.6 L1070.0,896.6 L1070.5,899.7 L1071.0,902.7 L1071.5,905.8 L1072.0,908.9 L1072.5,912.0 L1073.0,915.1 L1073.5,918.2 L1074.0,921.4 L1074.5,924.6 L1075.0,927.8 L1075.5,931.1 L1076.0,934.4 L1076.5,937.7 L1077.0,941.1 L1077.5,944.5 L1078.0,947.9 L1078.5,951.4 L1079.0,954.9 L1079.5,958.4 L1080.0,962.0 L1080.5,965.6 L1081.0,969.2 L1081.5,972.8 L1082.0,976.5 L1082.5,980.2 L1083.0,983.9 L1083.5,987.6 L1084.0,991.4 L1084.5,995.1 L1085.0,998.9 L1085.5,1002.7 L1086.0,1006.5 L1086.5,1010.2 L1087.0,1014.0 L1087.5,1017.8 L1088.0,1021.6 L1088.5,1025.4 L1089.0,1029.1 L1089.5,1032.9 L1090.0,1036.7 L1090.5,1040.4 L1091.0,1044.1 L1091.5,1047.8 L1092.0,1051.5 L1092.5,1055.2 L1093.0,1058.9 L1093.5,1062.5 L1094.0,1066.1 L1094.5,1069.7 L1095.0,1073.3 L1095.5,1076.8 L1096.0,1080.3 L1096.5,1083.8 L1097.0,1087.2 L1097.5,1090.7 L1098.0,1094.1 L1098.5,1097.4 L1099.0,1100.7 L1099.5,1104.0 L1100.0,1107.3 L1100.5,1110.5 L1101.0,1113.7 L1101.5,1116.9 L1102.0,1120.0 L1102.5,1123.1 L1103.0,1126.1 L1103.5,1129.1 L1104.0,1132.1 L1104.5,1135.0 L1105.0,1137.9 L1105.5,1140.7 L1106.0,1143.5 L1106.5,1146.3 L1107.0,1149.0 L1107.5,1151.7 L1108.0,1154.4 L1108.5,1157.0 L1109.0,1159.5 L1109.5,1162.1 L1110.0,1164.5 L1110.5,1167.0 L1111.0,1169.4 L1111.5,1171.7 L1112.0,1174.1 L1112.5,1176.3 L1113.0,1178.6 L1113.5,1180.8 L1114.0,1182.9 L1114.5,1185.0 L1115.0,1187.1 L1115.5,1189.2 L1116.0,1191.2 L1116.5,1193.1 L1117.0,1195.0 L1117.5,1196.9 L1118.0,1198.7 L1118.5,1200.6 L1119.0,1202.3 L1119.5,1204.0 L1120.0,1205.7 L1120.5,1207.4 L1121.0,1209.0 L1121.5,1210.6 L1122.0,1212.1 L1122.5,1213.6 L1123.0,1215.1 L1123.5,1216.6 L1124.0,1218.0 L1124.5,1219.3 L1125.0,1220.7 L1125.5,1222.0 L1126.0,1223.3 L1126.5,1224.5 L1127.0,1225.7 L1127.5,1226.9 L1128.0,1228.1 L1128.5,1229.2 L1129.0,1230.3 L1129.5,1231.3 L1130.0,1232.4 L1130.5,1233.4 L1131.0,1234.4 L1131.5,1235.3 L1132.0,1236.3 L1132.5,1237.2 L1133.0,1238.0 L1133.5,1238.9 L1134.0,1239.7 L1134.5,1240.5 L1135.0,1241.3 L1135.5,1242.1 L1136.0,1242.8 L1136.5,1243.5 L1137.0,1244.2 L1137.5,1244.9 L1138.0,1245.5 L1138.5,1246.2 L1139.0,1246.8 L1139.5,1247.4 L1140.0,1248.0 L1140.5,1248.5 L1141.0,1249.1 L1141.5,1249.6 L1142.0,1250.1 L1142.5,1250.6 L1143.0,1251.1 L1143.5,1251.5 L1144.0,1252.0 L1144.5,1252.4 L1145.0,1252.8 L1145.5,1253.2 L1146.0,1253.6 L1146.5,1254.0 L1147.0,1254.3 L1147.5,1254.7 L1148.0,1255.0 L1148.5,1255.4 L1149.0,1255.7 L1149.5,1256.0 L1150.0,1256.3 L1150.5,1256.6 L1151.0,1256.8 L1151.5,1257.1 L1152.0,1257.3 L1152.5,1257.6 L1153.0,1257.8 L1153.5,1258.0 L1154.0,1258.3 L1154.5,1258.5 L1155.0,1258.7 L1155.5,1258.9 L1156.0,1259.0 L1156.5,1259.2 L1157.0,1259.4 L1157.5,1259.6 L1158.0,1259.7 L1158.5,1259.9 L1159.0,1260.0 L1159.5,1260.2 L1160.0,1260.3 L1160.5,1260.4 L1161.0,1260.6 L1161.5,1260.7 L1162.0,1260.8 L1162.5,1260.9 L1163.0,1261.0 L1163.5,1261.1 L1164.0,1261.2 L1164.5,1261.3 L1165.0,1261.4 L1165.5,1261.5 L1166.0,1261.5 L1166.5,1261.6 L1167.0,1261.7 L1167.5,1261.8 L1168.0,1261.8 L1168.5,1261.9 L1169.0,1262.0 L1169.5,1262.0 L1170.0,1262.1 L1170.5,1262.1 L1171.0,1262.2 L1171.5,1262.2 L1172.0,1262.3 L1172.5,1262.3 L1173.0,1262.4 L1173.5,1262.4 L1174.0,1262.5 L1174.5,1262.5 L1175.0,1262.5 L1175.5,1262.6 L1176.0,1262.6 L1176.5,1262.6 L1177.0,1262.7 L1177.5,1262.7 L1178.0,1262.7 L1178.5,1262.7 L1179.0,1262.8 L1179.5,1262.8 L1180.0,1262.8 L1180.5,1262.8 L1181.0,1262.8 L1181.5,1262.9 L1182.0,1262.9 L1182.5,1262.9 L1183.0,1262.9 L1183.5,1262.9 L1184.0,1262.9 L1184.5,1263.0 L1185.0,1263.0 L1185.5,1263.0 L1186.0,1263.0 L1186.5,1263.0 L1187.0,1263.0 L1187.5,1263.0 L1188.0,1263.0 L1188.5,1263.0 L1189.0,1263.1 L1189.5,1263.1 L1190.0,1263.1 L1190.5,1263.1 L1191.0,1263.1 L1191.5,1263.1 L1192.0,1263.1 L1192.5,1263.1 L1193.0,1263.1 L1193.5,1263.1 L1194.0,1263.1 L1194.5,1263.1 L1195.0,1263.1 L1195.5,1263.1 L1196.0,1263.1 L1196.5,1263.1 L1197.0,1263.1 L1197.5,1263.1 L1198.0,1263.1 L1198.5,1263.2 L1199.0,1263.2 L1199.5,1263.2 L1200.0,1263.2 L1200.5,1263.2 L1201.0,1263.2 L1201.5,1263.2 L1202.0,1263.2 L1202.5,1263.2 L1203.0,1263.2 L1203.5,1263.2 L1204.0,1263.2 L1204.5,1263.2 L1205.0,1263.2 L1205.5,1263.2 L1206.0,1263.2 L1206.5,1263.2 L1207.0,1263.2 L1207.5,1263.2 L1208.0,1263.2 L1208.5,1263.2 L1209.0,1263.2 L1209.5,1263.2 L1210.0,1263.2 L1210.5,1263.2 L1211.0,1263.2 L1211.5,1263.2 L1212.0,1263.2 L1212.5,1263.2 L1213.0,1263.2 L1213.5,1263.2 L1214.0,1263.2 L1214.5,1263.2 L1215.0,1263.2 L1215.5,1263.2 L1216.0,1263.2 L1216.5,1263.2 L1217.0,1263.2 L1217.5,1263.2 L1218.0,1263.2 L1218.5,1263.2 L1219.0,1263.2 L1219.5,1263.2 L1220.0,1263.2 L1220.5,1263.2 L1221.0,1263.2 L1221.5,1263.2 L1222.0,1263.2 L1222.5,1263.2 L1223.0,1263.2 L1223.5,1263.2 L1224.0,1263.2 L1224.5,1263.2 L1225.0,1263.2 L1225.5,1263.2 L1226.0,1263.2 L1226.5,1263.2 L1227.0,1263.2 L1227.5,1263.2 L1228.0,1263.2 L1228.5,1263.2 L1229.0,1263.2 L1229.5,1263.2 L1230.0,1263.2 L1230.5,1263.2 L1231.0,1263.2 L1231.5,1263.2 L1232.0,1263.2 L1232.5,1263.2 L1233.0,1263.2 L1233.5,1263.2 L1234.0,1263.2 L1234.5,1263.2 L1235.0,1263.2 L1235.5,1263.2 L1236.0,1263.2 L1236.5,1263.2 L1237.0,1263.2 L1237.5,1263.2 L1238.0,1263.2 L1238.5,1263.2 L1239.0,1263.2 L1239.5,1263.2 L1240.0,1263.2 L1240.5,1263.2 L1241.0,1263.2 L1241.5,1263.2 L1242.0,1263.2 L1242.5,1263.2 L1243.0,1263.2 L1243.5,1263.2 L1244.0,1263.2 L1244.5,1263.2 L1245.0,1263.2 L1245.5,1263.2 L1246.0,1263.2 L1246.5,1263.2 L1247.0,1263.2 L1247.5,1263.2 L1248.0,1263.2 L1248.5,1263.2 L1249.0,1263.2 L1249.5,1263.2 L1250.0,1263.2 L1250.5,1263.2 L1251.0,1263.2 L1251.5,1263.2 L1252.0,1263.2 L1252.5,1263.2 L1253.0,1263.2 L1253.5,1263.2 L1254.0,1263.2 L1254.5,1263.2 L1255.0,1263.2 L1255.5,1263.2 L1256.0,1263.2 L1256.5,1263.2 L1257.0,1263.2 L1257.5,1263.2 L1258.0,1263.2 L1258.5,1263.2 L1259.0,1263.2 L1259.5,1263.2 L1260.0,1263.2 L1260.5,1263.2 L1261.0,1263.2 L1261.5,1263.2 L1262.0,1263.2 L1262.5,1263.2 L1263.0,1263.2 L1263.5,1263.2 L1264.0,1263.2 L1264.5,1263.2 L1265.0,1263.2 L1265.5,1263.2 L1266.0,1263.2 L1266.5,1263.2 L1267.0,1263.2 L1267.5,1263.2 L1268.0,1263.2 L1268.5,1263.2 L1269.0,1263.2 L1269.5,1263.2 L1270.0,1263.2 L1270.5,1263.2 L1271.0,1263.2 L1271.5,1263.2 L1272.0,1263.2 L1272.5,1263.2 L1273.0,1263.2 L1273.5,1263.1 L1274.0,1263.1 L1274.5,1263.1 L1275.0,1263.1 L1275.5,1263.1 L1276.0,1263.1 L1276.5,1263.1 L1277.0,1263.1 L1277.5,1263.1 L1278.0,1263.1 L1278.5,1263.1 L1279.0,1263.1 L1279.5,1263.1 L1280.0,1263.1 L1280.5,1263.1 L1281.0,1263.1 L1281.5,1263.1 L1282.0,1263.1 L1282.5,1263.1 L1283.0,1263.1 L1283.5,1263.1 L1284.0,1263.1 L1284.5,1263.1 L1285.0,1263.1 L1285.5,1263.1 L1286.0,1263.1 L1286.5,1263.1 L1287.0,1263.1 L1287.5,1263.1 L1288.0,1263.1 L1288.5,1263.1 L1289.0,1263.1 L1289.5,1263.1 L1290.0,1263.0 L1290.5,1263.0 L1291.0,1263.0 L1291.5,1263.0 L1292.0,1263.0 L1292.5,1263.0 L1293.0,1263.0 L1293.5,1263.0 L1294.0,1263.0 L1294.5,1263.0 L1295.0,1263.0 L1295.5,1263.0 L1296.0,1263.0 L1296.5,1263.0 L1297.0,1263.0 L1297.5,1263.0 L1298.0,1263.0 L1298.5,1262.9 L1299.0,1262.9 L1299.5,1262.9 L1300.0,1262.9 L1300.5,1262.9 L1301.0,1262.9 L1301.5,1262.9 L1302.0,1262.9 L1302.5,1262.9 L1303.0,1262.9 L1303.5,1262.9 L1304.0,1262.9 L1304.5,1262.8 L1305.0,1262.8 L1305.5,1262.8 L1306.0,1262.8 L1306.5,1262.8 L1307.0,1262.8 L1307.5,1262.8 L1308.0,1262.8 L1308.5,1262.8 L1309.0,1262.7 L1309.5,1262.7 L1310.0,1262.7 L1310.5,1262.7 L1311.0,1262.7 L1311.5,1262.7 L1312.0,1262.7 L1312.5,1262.6 L1313.0,1262.6 L1313.5,1262.6 L1314.0,1262.6 L1314.5,1262.6 L1315.0,1262.6 L1315.5,1262.6 L1316.0,1262.5 L1316.5,1262.5 L1317.0,1262.5 L1317.5,1262.5 L1318.0,1262.5 L1318.5,1262.4 L1319.0,1262.4 L1319.5,1262.4 L1320.0,1262.4 L1320.5,1262.4 L1321.0,1262.3 L1321.5,1262.3 L1322.0,1262.3 L1322.5,1262.3 L1323.0,1262.3 L1323.5,1262.2 L1324.0,1262.2 L1324.5,1262.2 L1325.0,1262.2 L1325.5,1262.1 L1326.0,1262.1 L1326.5,1262.1 L1327.0,1262.1 L1327.5,1262.0 L1328.0,1262.0 L1328.5,1262.0 L1329.0,1262.0 L1329.5,1261.9 L1330.0,1261.9 L1330.5,1261.9 L1331.0,1261.8 L1331.5,1261.8 L1332.0,1261.8 L1332.5,1261.7 L1333.0,1261.7 L1333.5,1261.7 L1334.0,1261.6 L1334.5,1261.6 L1335.0,1261.6 L1335.5,1261.5 L1336.0,1261.5 L1336.5,1261.5 L1337.0,1261.4 L1337.5,1261.4 L1338.0,1261.3 L1338.5,1261.3 L1339.0,1261.3 L1339.5,1261.2 L1340.0,1261.2 L1340.5,1261.1 L1341.0,1261.1 L1341.5,1261.1 L1342.0,1261.0 L1342.5,1261.0 L1343.0,1260.9 L1343.5,1260.9 L1344.0,1260.8 L1344.5,1260.8 L1345.0,1260.7 L1345.5,1260.7 L1346.0,1260.6 L1346.5,1260.6 L1347.0,1260.5 L1347.5,1260.5 L1348.0,1260.4 L1348.5,1260.4 L1349.0,1260.3 L1349.5,1260.3 L1350.0,1260.2 L1350.5,1260.2 L1351.0,1260.1 L1351.5,1260.1 L1352.0,1260.0 L1352.5,1259.9 L1353.0,1259.9 L1353.5,1259.8 L1354.0,1259.8 L1354.5,1259.7 L1355.0,1259.6 L1355.5,1259.6 L1356.0,1259.5 L1356.5,1259.4 L1357.0,1259.4 L1357.5,1259.3 L1358.0,1259.2 L1358.5,1259.2 L1359.0,1259.1 L1359.5,1259.0 L1360.0,1259.0 L1360.5,1258.9 L1361.0,1258.8 L1361.5,1258.8 L1362.0,1258.7 L1362.5,1258.6 L1363.0,1258.5 L1363.5,1258.5 L1364.0,1258.4 L1364.5,1258.3 L1365.0,1258.2 L1365.5,1258.2 L1366.0,1258.1 L1366.5,1258.0 L1367.0,1257.9 L1367.5,1257.9 L1368.0,1257.8 L1368.5,1257.7 L1369.0,1257.6 L1369.5,1257.5 L1370.0,1257.4 L1370.5,1257.4 L1371.0,1257.3 L1371.5,1257.2 L1372.0,1257.1 L1372.5,1257.0 L1373.0,1256.9 L1373.5,1256.9 L1374.0,1256.8 L1374.5,1256.7 L1375.0,1256.6 L1375.5,1256.5 L1376.0,1256.4 L1376.5,1256.3 L1377.0,1256.2 L1377.5,1256.1 L1378.0,1256.1 L1378.5,1256.0 L1379.0,1255.9 L1379.5,1255.8 L1380.0,1255.7 L1380.5,1255.6 L1381.0,1255.5 L1381.5,1255.4 L1382.0,1255.3 L1382.5,1255.2 L1383.0,1255.1 L1383.5,1255.0 L1384.0,1254.9 L1384.5,1254.8 L1385.0,1254.8 L1385.5,1254.7 L1386.0,1254.6 L1386.5,1254.5 L1387.0,1254.4 L1387.5,1254.3 L1388.0,1254.2 L1388.5,1254.1 L1389.0,1254.0 L1389.5,1253.9 L1390.0,1253.8 L1390.5,1253.7 L1391.0,1253.6 L1391.5,1253.5 L1392.0,1253.4 L1392.5,1253.3 L1393.0,1253.2 L1393.5,1253.1 L1394.0,1253.0 L1394.5,1252.9 L1395.0,1252.8 L1395.5,1252.7 L1396.0,1252.7 L1396.5,1252.6 L1397.0,1252.5 L1397.5,1252.4 L1398.0,1252.3 L1398.5,1252.2 L1399.0,1252.1 L1399.5,1252.0 L1400.0,1251.9 L1400.5,1251.8 L1401.0,1251.7 L1401.5,1251.6 L1402.0,1251.5 L1402.5,1251.5 L1403.0,1251.4 L1403.5,1251.3 L1404.0,1251.2 L1404.5,1251.1 L1405.0,1251.0 L1405.5,1250.9 L1406.0,1250.8 L1406.5,1250.8 L1407.0,1250.7 L1407.5,1250.6 L1408.0,1250.5 L1408.5,1250.4 L1409.0,1250.3 L1409.5,1250.3 L1410.0,1250.2 L1410.5,1250.1 L1411.0,1250.0 L1411.5,1250.0 L1412.0,1249.9 L1412.5,1249.8 L1413.0,1249.7 L1413.5,1249.7 L1414.0,1249.6 L1414.5,1249.5 L1415.0,1249.5 L1415.5,1249.4 L1416.0,1249.3 L1416.5,1249.3 L1417.0,1249.2 L1417.5,1249.1 L1418.0,1249.1 L1418.5,1249.0 L1419.0,1248.9 L1419.5,1248.9 L1420.0,1248.8 L1420.5,1248.8 L1421.0,1248.7 L1421.5,1248.7 L1422.0,1248.6 L1422.5,1248.6 L1423.0,1248.5 L1423.5,1248.5 L1424.0,1248.4 L1424.5,1248.4 L1425.0,1248.3 L1425.5,1248.3 L1426.0,1248.2 L1426.5,1248.2 L1427.0,1248.2 L1427.5,1248.1 L1428.0,1248.1 L1428.5,1248.1 L1429.0,1248.0 L1429.5,1248.0 L1430.0,1248.0 L1430.5,1247.9 L1431.0,1247.9 L1431.5,1247.9 L1432.0,1247.9 L1432.5,1247.8 L1433.0,1247.8 L1433.5,1247.8 L1434.0,1247.8 L1434.5,1247.8 L1435.0,1247.8 L1435.5,1247.7 L1436.0,1247.7 L1436.5,1247.7 L1437.0,1247.7 L1437.5,1247.7 L1438.0,1247.7 L1438.5,1247.7 L1439.0,1247.7 L1439.5,1247.7 L1440.0,1247.7 L1440.5,1247.7 L1441.0,1247.7 L1441.5,1247.7 L1442.0,1247.7 L1442.5,1247.7 L1443.0,1247.7 L1443.5,1247.7 L1444.0,1247.8 L1444.5,1247.8 L1445.0,1247.8 L1445.5,1247.8 L1446.0,1247.8 L1446.5,1247.8 L1447.0,1247.8 L1447.5,1247.9 L1448.0,1247.9 L1448.5,1247.9 L1449.0,1247.9 L1449.5,1247.9 L1450.0,1248.0 L1450.5,1248.0 L1451.0,1248.0 L1451.5,1248.0 L1452.0,1248.1 L1452.5,1248.1 L1453.0,1248.1 L1453.5,1248.2 L1454.0,1248.2 L1454.5,1248.2 L1455.0,1248.3 L1455.5,1248.3 L1456.0,1248.3 L1456.5,1248.4 L1457.0,1248.4 L1457.5,1248.4 L1458.0,1248.5 L1458.5,1248.5 L1459.0,1248.6 L1459.5,1248.6 L1460.0,1248.7 L1460.5,1248.7 L1461.0,1248.7 L1461.5,1248.8 L1462.0,1248.8 L1462.5,1248.9 L1463.0,1248.9 L1463.5,1249.0 L1464.0,1249.0 L1464.5,1249.1 L1465.0,1249.1 L1465.5,1249.2 L1466.0,1249.2 L1466.5,1249.3 L1467.0,1249.4 L1467.5,1249.4 L1468.0,1249.5 L1468.5,1249.5 L1469.0,1249.6 L1469.5,1249.6 L1470.0,1249.7 L1470.5,1249.8 L1471.0,1249.8 L1471.5,1249.9 L1472.0,1249.9 L1472.5,1250.0 L1473.0,1250.1 L1473.5,1250.1 L1474.0,1250.2 L1474.5,1250.3 L1475.0,1250.3 L1475.5,1250.4 L1476.0,1250.5 L1476.5,1250.5 L1477.0,1250.6 L1477.5,1250.7 L1478.0,1250.7 L1478.5,1250.8 L1479.0,1250.9 L1479.5,1251.0 L1480.0,1251.0 L1480.5,1251.1 L1481.0,1251.2 L1481.5,1251.2 L1482.0,1251.3 L1482.5,1251.4 L1483.0,1251.5 L1483.5,1251.5 L1484.0,1251.6 L1484.5,1251.7 L1485.0,1251.8 L1485.5,1251.8 L1486.0,1251.9 L1486.5,1252.0 L1487.0,1252.1 L1487.5,1252.1 L1488.0,1252.2 L1488.5,1252.3 L1489.0,1252.4 L1489.5,1252.5 L1490.0,1252.5 L1490.5,1252.6 L1491.0,1252.7 L1491.5,1252.8 L1492.0,1252.8 L1492.5,1252.9 L1493.0,1253.0 L1493.5,1253.1 L1494.0,1253.2 L1494.5,1253.2 L1495.0,1253.3 L1495.5,1253.4 L1496.0,1253.5 L1496.5,1253.6 L1497.0,1253.6 L1497.5,1253.7 L1498.0,1253.8 L1498.5,1253.9 L1499.0,1254.0 L1499.5,1254.0 L1500.0,1254.1 L1500.5,1254.2 L1501.0,1254.3 L1501.5,1254.4 L1502.0,1254.4 L1502.5,1254.5 L1503.0,1254.6 L1503.5,1254.7 L1504.0,1254.8 L1504.5,1254.8 L1505.0,1254.9 L1505.5,1255.0 L1506.0,1255.1 L1506.5,1255.1 L1507.0,1255.2 L1507.5,1255.3 L1508.0,1255.4 L1508.5,1255.5 L1509.0,1255.5 L1509.5,1255.6 L1510.0,1255.7 L1510.5,1255.8 L1511.0,1255.8 L1511.5,1255.9 L1512.0,1256.0 L1512.5,1256.1 L1513.0,1256.1 L1513.5,1256.2 L1514.0,1256.3 L1514.5,1256.4 L1515.0,1256.4 L1515.5,1256.5 L1516.0,1256.6 L1516.5,1256.7 L1517.0,1256.7 L1517.5,1256.8 L1518.0,1256.9 L1518.5,1256.9 L1519.0,1257.0 L1519.5,1257.1 L1520.0,1257.2 L1520.5,1257.2 L1521.0,1257.3 L1521.5,1257.4 L1522.0,1257.4 L1522.5,1257.5 L1523.0,1257.6 L1523.5,1257.6 L1524.0,1257.7 L1524.5,1257.8 L1525.0,1257.8 L1525.5,1257.9 L1526.0,1258.0 L1526.5,1258.0 L1527.0,1258.1 L1527.5,1258.2 L1528.0,1258.2 L1528.5,1258.3 L1529.0,1258.4 L1529.5,1258.4 L1530.0,1258.5 L1530.5,1258.5 L1531.0,1258.6 L1531.5,1258.7 L1532.0,1258.7 L1532.5,1258.8 L1533.0,1258.8 L1533.5,1258.9 L1534.0,1259.0 L1534.5,1259.0 L1535.0,1259.1 L1535.5,1259.1 L1536.0,1259.2 L1536.5,1259.2 L1537.0,1259.3 L1537.5,1259.4 L1538.0,1259.4 L1538.5,1259.5 L1539.0,1259.5 L1539.5,1259.6 L1540.0,1259.6 L1540.5,1259.7 L1541.0,1259.7 L1541.5,1259.8 L1542.0,1259.8 L1542.5,1259.9 L1543.0,1259.9 L1543.5,1260.0 L1544.0,1260.0 L1544.5,1260.1 L1545.0,1260.1 L1545.5,1260.2 L1546.0,1260.2 L1546.5,1260.3 L1547.0,1260.3 L1547.5,1260.3 L1548.0,1260.4 L1548.5,1260.4 L1549.0,1260.5 L1549.5,1260.5 L1550.0,1260.6 L1550.5,1260.6 L1551.0,1260.6 L1551.5,1260.7 L1552.0,1260.7 L1552.5,1260.8 L1553.0,1260.8 L1553.5,1260.8 L1554.0,1260.9 L1554.5,1260.9 L1555.0,1261.0 L1555.5,1261.0 L1556.0,1261.0 L1556.5,1261.1 L1557.0,1261.1 L1557.5,1261.1 L1558.0,1261.2 L1558.5,1261.2 L1559.0,1261.2 L1559.5,1261.3 L1560.0,1261.3 L1560.5,1261.3 L1561.0,1261.4 L1561.5,1261.4 L1562.0,1261.4 L1562.5,1261.5 L1563.0,1261.5 L1563.5,1261.5 L1564.0,1261.6 L1564.5,1261.6 L1565.0,1261.6 L1565.5,1261.6 L1566.0,1261.7 L1566.5,1261.7 L1567.0,1261.7 L1567.5,1261.8 L1568.0,1261.8 L1568.5,1261.8 L1569.0,1261.8 L1569.5,1261.9 L1570.0,1261.9 L1570.5,1261.9 L1571.0,1261.9 L1571.5,1262.0 L1572.0,1262.0 L1572.5,1262.0 L1573.0,1262.0 L1573.5,1262.0 L1574.0,1262.1 L1574.5,1262.1 L1575.0,1262.1 L1575.5,1262.1 L1576.0,1262.2 L1576.5,1262.2 L1577.0,1262.2 L1577.5,1262.2 L1578.0,1262.2 L1578.5,1262.3 L1579.0,1262.3 L1579.5,1262.3 L1580.0,1262.3 L1580.5,1262.3 L1581.0,1262.3 L1581.5,1262.4 L1582.0,1262.4 L1582.5,1262.4 L1583.0,1262.4 L1583.5,1262.4 L1584.0,1262.4 L1584.5,1262.5 L1585.0,1262.5 L1585.5,1262.5 L1586.0,1262.5 L1586.5,1262.5 L1587.0,1262.5 L1587.5,1262.5 L1588.0,1262.6 L1588.5,1262.6 L1589.0,1262.6 L1589.5,1262.6 L1590.0,1262.6 L1590.5,1262.6 L1591.0,1262.6 L1591.5,1262.7 L1592.0,1262.7 L1592.5,1262.7 L1593.0,1262.7 L1593.5,1262.7 L1594.0,1262.7 L1594.5,1262.7 L1595.0,1262.7 L1595.5,1262.7 L1596.0,1262.8 L1596.5,1262.8 L1597.0,1262.8 L1597.5,1262.8 L1598.0,1262.8 L1598.5,1262.8 L1599.0,1262.8 L1599.5,1262.8 L1600.0,1262.8 L1600.5,1262.8 L1601.0,1262.8 L1601.5,1262.9 L1602.0,1262.9 L1602.5,1262.9 L1603.0,1262.9 L1603.5,1262.9 L1604.0,1262.9 L1604.5,1262.9 L1605.0,1262.9 L1605.5,1262.9 L1606.0,1262.9 L1606.5,1262.9 L1607.0,1262.9 L1607.5,1262.9 L1608.0,1262.9 L1608.5,1262.9 L1609.0,1263.0 L1609.5,1263.0 L1610.0,1263.0 L1610.5,1263.0 L1611.0,1263.0 L1611.5,1263.0 L1612.0,1263.0 L1612.5,1263.0 L1613.0,1263.0 L1613.5,1263.0 L1614.0,1263.0 L1614.5,1263.0 L1615.0,1263.0 L1615.5,1263.0 L1616.0,1263.0 L1616.5,1263.0 L1617.0,1263.0 L1617.5,1263.0 L1618.0,1263.0 L1618.5,1263.0 L1619.0,1263.1 L1619.5,1263.1 L1620.0,1263.1 L1620.5,1263.1 L1621.0,1263.1 L1621.5,1263.1 L1622.0,1263.1 L1622.5,1263.1 L1623.0,1263.1 L1623.5,1263.1 L1624.0,1263.1 L1624.5,1263.1 L1625.0,1263.1 L1625.5,1263.1 L1626.0,1263.1 L1626.5,1263.1 L1627.0,1263.1 L1627.5,1263.1 L1628.0,1263.1 L1628.5,1263.1 L1629.0,1263.1 L1629.5,1263.1 L1630.0,1263.1 L1630.5,1263.1 L1631.0,1263.1 L1631.5,1263.1 L1632.0,1263.1 L1632.5,1263.1 L1633.0,1263.1 L1633.5,1263.1 L1634.0,1263.1 L1634.5,1263.1 L1635.0,1263.1 L1635.5,1263.1 L1636.0,1263.1 L1636.5,1263.1 L1637.0,1263.1 L1637.5,1263.1 L1638.0,1263.1 L1638.5,1263.1 L1639.0,1263.2 L1639.5,1263.2 L1640.0,1263.2 L1640.5,1263.2 L1641.0,1263.2 L1641.5,1263.2 L1642.0,1263.2 L1642.5,1263.2 L1643.0,1263.2 L1643.5,1263.2 L1644.0,1263.2 L1644.5,1263.2 L1645.0,1263.2 L1645.5,1263.2 L1646.0,1263.2 L1646.5,1263.2 L1647.0,1263.2 L1647.5,1263.2 L1648.0,1263.2 L1648.5,1263.2 L1649.0,1263.2 L1649.5,1263.2 L1650.0,1263.2 L1650.5,1263.2 L1651.0,1263.2 L1651.5,1263.2 L1652.0,1263.2 L1652.5,1263.2 L1653.0,1263.2 L1653.5,1263.2 L1654.0,1263.2 L1654.5,1263.2 L1655.0,1263.2 L1655.5,1263.2 L1656.0,1263.2 L1656.5,1263.2 L1657.0,1263.2 L1657.5,1263.2 L1658.0,1263.2 L1658.5,1263.2 L1659.0,1263.2 L1659.5,1263.2 L1660.0,1263.2 L1660.5,1263.2 L1661.0,1263.2 L1661.5,1263.2 L1662.0,1263.2 L1662.5,1263.2 L1663.0,1263.2 L1663.5,1263.2 L1664.0,1263.2 L1664.5,1263.2 L1665.0,1263.2 L1665.5,1263.2 L1666.0,1263.2 L1666.5,1263.2 L1667.0,1263.2 L1667.5,1263.2 L1668.0,1263.2 L1668.5,1263.2 L1669.0,1263.2 L1669.5,1263.2 L1670.0,1263.2 L1670.5,1263.2 L1671.0,1263.2 L1671.5,1263.2 L1672.0,1263.2 L1672.5,1263.2 L1673.0,1263.2 L1673.5,1263.2 L1674.0,1263.2 L1674.5,1263.2 L1675.0,1263.2 L1675.5,1263.2 L1676.0,1263.2 L1676.5,1263.2 L1677.0,1263.2 L1677.5,1263.2 L1678.0,1263.2 L1678.5,1263.2 L1679.0,1263.2 L1679.5,1263.2 L1680.0,1263.2 L1680.5,1263.2 L1681.0,1263.2 L1681.5,1263.2 L1682.0,1263.2 L1682.5,1263.2 L1683.0,1263.2 L1683.5,1263.2 L1684.0,1263.2 L1684.5,1263.2 L1685.0,1263.2 L1685.5,1263.2 L1686.0,1263.2 L1686.5,1263.2 L1687.0,1263.2 L1687.5,1263.2 L1688.0,1263.2 L1688.5,1263.2 L1689.0,1263.2 L1689.5,1263.2 L1690.0,1263.2 L1690.5,1263.2 L1691.0,1263.2 L1691.5,1263.2 L1692.0,1263.2 L1692.5,1263.2 L1693.0,1263.2 L1693.5,1263.2 L1694.0,1263.2 L1694.5,1263.2 L1695.0,1263.2 L1695.5,1263.2 L1696.0,1263.2 L1696.5,1263.2 L1697.0,1263.2 L1697.5,1263.2 L1698.0,1263.2 L1698.5,1263.2 L1699.0,1263.2 L1699.5,1263.2 L1700.0,1263.2 L1700.5,1263.2 L1701.0,1263.2 L1701.5,1263.2 L1702.0,1263.2 L1702.5,1263.2 L1703.0,1263.2 L1703.5,1263.2 L1704.0,1263.2 L1704.5,1263.2 L1705.0,1263.2 L1705.5,1263.2 L1706.0,1263.2 L1706.5,1263.2 L1707.0,1263.2 L1707.5,1263.2 L1708.0,1263.2 L1708.5,1263.2 L1709.0,1263.2 L1709.5,1263.2 L1710.0,1263.2 L1710.5,1263.2 L1711.0,1263.2 L1711.5,1263.2 L1712.0,1263.2 L1712.5,1263.2 L1713.0,1263.2 L1713.5,1263.2 L1714.0,1263.2 L1714.5,1263.2 L1715.0,1263.2 L1715.5,1263.2 L1716.0,1263.2 L1716.5,1263.2 L1717.0,1263.2 L1717.5,1263.2 L1718.0,1263.2 L1718.5,1263.2 L1719.0,1263.2 L1719.5,1263.2 L1720.0,1263.2 L1720.5,1263.2 L1721.0,1263.2 L1721.5,1263.2 L1722.0,1263.2 L1722.5,1263.2 L1723.0,1263.2 L1723.5,1263.2 L1724.0,1263.2 L1724.5,1263.2 L1725.0,1263.2 L1725.5,1263.2 L1726.0,1263.2 L1726.5,1263.2 L1727.0,1263.2 L1727.5,1263.2 L1728.0,1263.2 L1728.5,1263.2 L1729.0,1263.2 L1729.5,1263.2 L1730.0,1263.2 L1730.5,1263.2 L1731.0,1263.2 L1731.5,1263.2 L1732.0,1263.2 L1732.5,1263.2 L1733.0,1263.2 L1733.5,1263.2 L1734.0,1263.2 L1734.5,1263.2 L1735.0,1263.2 L1735.5,1263.2 L1736.0,1263.2 L1736.5,1263.2 L1737.0,1263.2 L1737.5,1263.2 L1738.0,1263.2 L1738.5,1263.2 L1739.0,1263.2 L1739.5,1263.2 L1740.0,1263.2 L1740.5,1263.2 L1741.0,1263.2 L1741.5,1263.2 L1742.0,1263.2 L1742.5,1263.2 L1743.0,1263.2 L1743.5,1263.2 L1744.0,1263.2 L1744.5,1263.2 L1745.0,1263.2 L1745.5,1263.2 L1746.0,1263.2 L1746.5,1263.2 L1747.0,1263.2 L1747.5,1263.2 L1748.0,1263.2 L1748.5,1263.2 L1749.0,1263.2 L1749.5,1263.2 L1750.0,1263.2 L1750.5,1263.2 L1751.0,1263.2 L1751.5,1263.2 L1752.0,1263.2 L1752.5,1263.2 L1753.0,1263.2 L1753.5,1263.2 L1754.0,1263.2 L1754.5,1263.2 L1755.0,1263.2 L1755.5,1263.2 L1756.0,1263.2 L1756.5,1263.2 L1757.0,1263.2 L1757.5,1263.2 L1758.0,1263.2 L1758.5,1263.2 L1759.0,1263.2 L1759.5,1263.2 L1760.0,1263.2 L1760.5,1263.2 L1761.0,1263.2 L1761.5,1263.2 L1762.0,1263.2 L1762.5,1263.2 L1763.0,1263.2 L1763.5,1263.2 L1764.0,1263.2 L1764.5,1263.2 L1765.0,1263.2 L1765.5,1263.2 L1766.0,1263.2 L1766.5,1263.2 L1767.0,1263.2 L1767.5,1263.2 L1768.0,1263.2 L1768.5,1263.2 L1769.0,1263.2 L1769.5,1263.2 L1770.0,1263.2 L1770.5,1263.2 L1771.0,1263.2 L1771.5,1263.2 L1772.0,1263.2 L1772.5,1263.2 L1773.0,1263.2 L1773.5,1263.2 L1774.0,1263.2 L1774.5,1263.2 L1775.0,1263.2 L1775.5,1263.2 L1776.0,1263.2 L1776.5,1263.2 L1777.0,1263.2 L1777.5,1263.2 L1778.0,1263.2 L1778.5,1263.2 L1779.0,1263.2 L1779.5,1263.2 L1780.0,1263.2 L1780.5,1263.2 L1781.0,1263.2 L1781.5,1263.2 L1782.0,1263.2 L1782.5,1263.2 L1783.0,1263.2 L1783.5,1263.2 L1784.0,1263.2 L1784.5,1263.2 L1785.0,1263.2 L1785.5,1263.2 L1786.0,1263.2 L1786.5,1263.2 L1787.0,1263.2 L1787.5,1263.2 L1788.0,1263.2 L1788.5,1263.2 L1789.0,1263.2 L1789.5,1263.2 L1790.0,1263.2 L1790.5,1263.2 L1791.0,1263.2 L1791.5,1263.2 L1792.0,1263.2 L1792.5,1263.2 L1793.0,1263.2 L1793.5,1263.2 L1794.0,1263.2 L1794.5,1263.2 L1795.0,1263.2 L1795.5,1263.2 L1796.0,1263.2 L1796.5,1263.2 L1797.0,1263.2 L1797.5,1263.2 L1798.0,1263.2 L1798.5,1263.2 L1799.0,1263.2 L1799.5,1263.2 L1800.0,1263.2 L1800.5,1263.2 L1801.0,1263.2 L1801.5,1263.2 L1802.0,1263.2 L1802.5,1263.2 L1803.0,1263.2 L1803.5,1263.2 L1804.0,1263.2 L1804.5,1263.2 L1805.0,1263.2 L1805.5,1263.2 L1806.0,1263.2 L1806.5,1263.2 L1807.0,1263.2 L1807.5,1263.2 L1808.0,1263.2 L1808.5,1263.2 L1809.0,1263.2 L1809.5,1263.2 L1810.0,1263.2 L1810.5,1263.2 L1811.0,1263.2 L1811.5,1263.2 L1812.0,1263.2 L1812.5,1263.2 L1813.0,1263.2 L1813.5,1263.2 L1814.0,1263.2 L1814.5,1263.2 L1815.0,1263.2 L1815.5,1263.2 L1816.0,1263.2 L1816.5,1263.2 L1817.0,1263.2 L1817.5,1263.2 L1818.0,1263.2 L1818.5,1263.2 L1819.0,1263.2 L1819.5,1263.2 L1820.0,1263.2 L1820.5,1263.2 L1821.0,1263.2 L1821.5,1263.2 L1822.0,1263.2 L1822.5,1263.2 L1823.0,1263.2 L1823.5,1263.2 L1824.0,1263.2 L1824.5,1263.2 L1825.0,1263.2 L1825.5,1263.2 L1826.0,1263.2 L1826.5,1263.2 L1827.0,1263.2 L1827.5,1263.2 L1828.0,1263.2 L1828.5,1263.2 L1829.0,1263.2 L1829.5,1263.2 L1830.0,1263.2 L1830.5,1263.2 L1831.0,1263.2 L1831.5,1263.2 L1832.0,1263.2 L1832.5,1263.2 L1833.0,1263.2 L1833.5,1263.2 L1834.0,1263.2 L1834.5,1263.2 L1835.0,1263.2 L1835.5,1263.2 L1836.0,1263.2 L1836.5,1263.2 L1837.0,1263.2 L1837.5,1263.2 L1838.0,1263.2 L1838.5,1263.2 L1839.0,1263.2 L1839.5,1263.2 L1840.0,1263.2 L1840.5,1263.2 L1841.0,1263.2 L1841.5,1263.2 L1842.0,1263.2 L1842.5,1263.2 L1843.0,1263.2 L1843.5,1263.2 L1844.0,1263.2 L1844.5,1263.2 L1845.0,1263.2 L1845.5,1263.2 L1846.0,1263.2 L1846.5,1263.2 L1847.0,1263.2 L1847.5,1263.2 L1848.0,1263.2 L1848.5,1263.2 L1849.0,1263.2 L1849.5,1263.2 L1850.0,1263.2 L1850.5,1263.2 L1851.0,1263.2 L1851.5,1263.2 L1852.0,1263.2 L1852.5,1263.2 L1853.0,1263.2 L1853.5,1263.2 L1854.0,1263.2 L1854.5,1263.2 L1855.0,1263.2 L1855.5,1263.2 L1856.0,1263.2 L1856.5,1263.2 L1857.0,1263.2 L1857.5,1263.2 L1858.0,1263.2 L1858.5,1263.2 L1859.0,1263.2 L1859.5,1263.2 L1860.0,1263.2 L1860.5,1263.2 L1861.0,1263.2 L1861.5,1263.2 L1862.0,1263.2 L1862.5,1263.2 L1863.0,1263.2 L1863.5,1263.2 L1864.0,1263.2 L1864.5,1263.2 L1865.0,1263.2 L1865.5,1263.2 L1866.0,1263.2 L1866.5,1263.2 L1867.0,1263.2 L1867.5,1263.2 L1868.0,1263.2 L1868.5,1263.2 L1869.0,1263.2 L1869.5,1263.2 L1870.0,1263.2 L1870.5,1263.2 L1871.0,1263.2 L1871.5,1263.2 L1872.0,1263.2 L1872.5,1263.2 L1873.0,1263.2 L1873.5,1263.2 L1874.0,1263.2 L1874.5,1263.2 L1875.0,1263.2 L1875.5,1263.2 L1876.0,1263.2 L1876.5,1263.2 L1877.0,1263.2 L1877.5,1263.2 L1878.0,1263.2 L1878.5,1263.2 L1879.0,1263.2 L1879.5,1263.2 L1880.0,1263.2 L1880.5,1263.2 L1881.0,1263.2 L1881.5,1263.2 L1882.0,1263.2 L1882.5,1263.2 L1883.0,1263.2 L1883.5,1263.2 L1884.0,1263.2 L1884.5,1263.2 L1885.0,1263.2 L1885.5,1263.2 L1886.0,1263.2 L1886.5,1263.2 L1887.0,1263.2 L1887.5,1263.2 L1888.0,1263.2 L1888.5,1263.2 L1889.0,1263.2 L1889.5,1263.2 L1890.0,1263.2 L1890.5,1263.2 L1891.0,1263.2 L1891.5,1263.2 L1892.0,1263.2 L1892.5,1263.2 L1893.0,1263.2 L1893.5,1263.2 L1894.0,1263.2 L1894.5,1263.2 L1895.0,1263.2 L1895.5,1263.2 L1896.0,1263.2 L1896.5,1263.2 L1897.0,1263.2 L1897.5,1263.2 L1898.0,1263.2 L1898.5,1263.2 L1899.0,1263.2 L1899.5,1263.2 L1900.0,1263.2 L1900.5,1263.2 L1901.0,1263.2 L1901.5,1263.2 L1902.0,1263.2 L1902.5,1263.2 L1903.0,1263.2 L1903.5,1263.2 L1904.0,1263.2 L1904.5,1263.2 L1905.0,1263.2 L1905.5,1263.2 L1906.0,1263.2 L1906.5,1263.2 L1907.0,1263.2 L1907.5,1263.2 L1908.0,1263.2 L1908.5,1263.2 L1909.0,1263.2 L1909.5,1263.2 L1910.0,1263.2 L1910.5,1263.2 L1911.0,1263.2 L1911.5,1263.2 L1912.0,1263.2 L1912.5,1263.2 L1913.0,1263.2 L1913.5,1263.2 L1914.0,1263.2 L1914.5,1263.2 L1915.0,1263.2 L1915.5,1263.2 L1916.0,1263.2 L1916.5,1263.2 L1917.0,1263.2 L1917.5,1263.2 L1918.0,1263.2 L1918.5,1263.2 L1919.0,1263.2 L1919.5,1263.2 L1920.0,1263.2 L1920.5,1263.2 L1921.0,1263.2 L1921.5,1263.2 L1922.0,1263.2 L1922.5,1263.2 L1923.0,1263.2 L1923.5,1263.2 L1924.0,1263.2 L1924.5,1263.2 L1925.0,1263.2 L1925.5,1263.2 L1926.0,1263.2 L1926.5,1263.2 L1927.0,1263.2 L1927.5,1263.2 L1928.0,1263.2 L1928.5,1263.2 L1929.0,1263.2 L1929.5,1263.2 L1930.0,1263.2 L1930.5,1263.2 L1931.0,1263.2 L1931.5,1263.2 L1932.0,1263.2 L1932.5,1263.2 L1933.0,1263.2 L1933.5,1263.2 L1934.0,1263.2 L1934.5,1263.2 L1935.0,1263.2 L1935.5,1263.2 L1936.0,1263.2 L1936.5,1263.2 L1937.0,1263.2 L1937.5,1263.2 L1938.0,1263.2 L1938.5,1263.2 L1939.0,1263.2 L1939.5,1263.2 L1940.0,1263.2 L1940.5,1263.2 L1941.0,1263.2 L1941.5,1263.2 L1942.0,1263.2 L1942.5,1263.2 L1943.0,1263.2 L1943.5,1263.2 L1944.0,1263.2 L1944.5,1263.2 L1945.0,1263.2 L1945.5,1263.2 L1946.0,1263.2 L1946.5,1263.2 L1947.0,1263.2 L1947.5,1263.2 L1948.0,1263.2 L1948.5,1263.2 L1949.0,1263.2 L1949.5,1263.2 L1950.0,1263.2 L1950.5,1263.2 L1951.0,1263.2 L1951.5,1263.2 L1952.0,1263.2 L1952.5,1263.2 L1953.0,1263.2 L1953.5,1263.2 L1954.0,1263.2 L1954.5,1263.2 L1955.0,1263.2 L1955.5,1263.2" stroke="#f00" stroke-width="6.4"/>
<path d="M327.0,1262.6 L327.5,1262.6 L328.0,1262.6 L328.5,1262.6 L329.0,1262.6 L329.5,1262.6 L330.0,1262.6 L330.5,1262.6 L331.0,1262.6 L331.5,1262.6 L332.0,1262.6 L332.5,1262.6 L333.0,1262.6 L333.5,1262.6 L334.0,1262.6 L334.5,1262.6 L335.0,1262.6 L335.5,1262.6 L336.0,1262.6 L336.5,1262.6 L337.0,1262.6 L337.5,1262.6 L338.0,1262.6 L338.5,1262.6 L339.0,1262.6 L339.5,1262.6 L340.0,1262.6 L340.5,1262.6 L341.0,1262.6 L341.5,1262.6 L342.0,1262.6 L342.5,1262.6 L343.0,1262.6 L343.5,1262.6 L344.0,1262.6 L344.5,1262.6 L345.0,1262.6 L345.5,1262.6 L346.0,1262.6 L346.5,1262.6 L347.0,1262.6 L347.5,1262.6 L348.0,1262.6 L348.5,1262.6 L349.0,1262.6 L349.5,1262.6 L350.0,1262.6 L350.5,1262.6 L351.0,1262.6 L351.5,1262.6 L352.0,1262.6 L352.5,1262.6 L353.0,1262.6 L353.5,1262.6 L354.0,1262.6 L354.5,1262.6 L355.0,1262.6 L355.5,1262.6 L356.0,1262.6 L356.5,1262.6 L357.0,1262.6 L357.5,1262.6 L358.0,1262.6 L358.5,1262.6 L359.0,1262.6 L359.5,1262.6 L360.0,1262.6 L360.5,1262.6 L361.0,1262.6 L361.5,1262.6 L362.0,1262.6 L362.5,1262.6 L363.0,1262.6 L363.5,1262.6 L364.0,1262.6 L364.5,1262.6 L365.0,1262.6 L365.5,1262.6 L366.0,1262.6 L366.5,1262.6 L367.0,1262.6 L367.5,1262.6 L368.0,1262.6 L368.5,1262.6 L369.0,1262.6 L369.5,1262.6 L370.0,1262.6 L370.5,1262.6 L371.0,1262.6 L371.5,1262.6 L372.0,1262.6 L372.5,1262.6 L373.0,1262.6 L373.5,1262.6 L374.0,1262.6 L374.5,1262.6 L375.0,1262.6 L375.5,1262.6 L376.0,1262.6 L376.5,1262.6 L377.0,1262.6 L377.5,1262.6 L378.0,1262.6 L378.5,1262.6 L379.0,1262.6 L379.5,1262.6 L380.0,1262.6 L380.5,1262.6 L381.0,1262.6 L381.5,1262.6 L382.0,1262.6 L382.5,1262.6 L383.0,1262.6 L383.5,1262.6 L384.0,1262.6 L384.5,1262.6 L385.0,1262.6 L385.5,1262.6 L386.0,1262.6 L386.5,1262.6 L387.0,1262.6 L387.5,1262.6 L388.0,1262.6 L388.5,1262.6 L389.0,1262.6 L389.5,1262.6 L390.0,1262.6 L390.5,1262.6 L391.0,1262.6 L391.5,1262.6 L392.0,1262.6 L392.5,1262.6 L393.0,1262.6 L393.5,1262.6 L394.0,1262.6 L394.5,1262.6 L395.0,1262.6 L395.5,1262.6 L396.0,1262.6 L396.5,1262.6 L397.0,1262.6 L397.5,1262.6 L398.0,1262.6 L398.5,1262.6 L399.0,1262.6 L399.5,1262.6 L400.0,1262.6 L400.5,1262.6 L401.0,1262.6 L401.5,1262.6 L402.0,1262.6 L402.5,1262.6 L403.0,1262.6 L403.5,1262.6 L404.0,1262.6 L404.5,1262.6 L405.0,1262.6 L405.5,1262.6 L406.0,1262.6 L406.5,1262.6 L407.0,1262.6 L407.5,1262.6 L408.0,1262.6 L408.5,1262.6 L409.0,1262.6 L409.5,1262.6 L410.0,1262.6 L410.5,1262.6 L411.0,1262.6 L411.5,1262.6 L412.0,1262.6 L412.5,1262.6 L413.0,1262.6 L413.5,1262.6 L414.0,1262.6 L414.5,1262.6 L415.0,1262.6 L415.5,1262.6 L416.0,1262.6 L416.5,1262.6 L417.0,1262.6 L417.5,1262.6 L418.0,1262.6 L418.5,1262.6 L419.0,1262.6 L419.5,1262.6 L420.0,1262.6 L420.5,1262.6 L421.0,1262.6 L421.5,1262.6 L422.0,1262.6 L422.5,1262.6 L423.0,1262.6 L423.5,1262.6 L424.0,1262.6 L424.5,1262.6 L425.0,1262.6 L425.5,1262.6 L426.0,1262.6 L426.5,1262.6 L427.0,1262.6 L427.5,1262.6 L428.0,1262.6 L428.5,1262.6 L429.0,1262.6 L429.5,1262.6 L430.0,1262.6 L430.5,1262.6 L431.0,1262.6 L431.5,1262.6 L432.0,1262.6 L432.5,1262.6 L433.0,1262.6 L433.5,1262.6 L434.0,1262.6 L434.5,1262.6 L435.0,1262.6 L435.5,1262.6 L436.0,1262.6 L436.5,1262.6 L437.0,1262.6 L437.5,1262.6 L438.0,1262.6 L438.5,1262.6 L439.0,1262.6 L439.5,1262.6 L440.0,1262.6 L440.5,1262.6 L441.0,1262.6 L441.5,1262.6 L442.0,1262.6 L442.5,1262.6 L443.0,1262.6 L443.5,1262.6 L444.0,1262.6 L444.5,1262.6 L445.0,1262.6 L445.5,1262.6 L446.0,1262.6 L446.5,1262.6 L447.0,1262.6 L447.5,1262.6 L448.0,1262.6 L448.5,1262.6 L449.0,1262.6 L449.5,1262.6 L450.0,1262.6 L450.5,1262.6 L451.0,1262.6 L451.5,1262.6 L452.0,1262.6 L452.5,1262.6 L453.0,1262.6 L453.5,1262.6 L454.0,1262.6 L454.5,1262.6 L455.0,1262.6 L455.5,1262.6 L456.0,1262.6 L456.5,1262.6 L457.0,1262.6 L457.5,1262.6 L458.0,1262.6 L458.5,1262.6 L459.0,1262.6 L459.5,1262.6 L460.0,1262.6 L460.5,1262.6 L461.0,1262.6 L461.5,1262.6 L462.0,1262.6 L462.5,1262.6 L463.0,1262.6 L463.5,1262.6 L464.0,1262.6 L464.5,1262.6 L465.0,1262.6 L465.5,1262.6 L466.0,1262.6 L466.5,1262.6 L467.0,1262.6 L467.5,1262.6 L468.0,1262.6 L468.5,1262.6 L469.0,1262.6 L469.5,1262.6 L470.0,1262.6 L470.5,1262.6 L471.0,1262.6 L471.5,1262.6 L472.0,1262.6 L472.5,1262.6 L473.0,1262.6 L473.5,1262.6 L474.0,1262.6 L474.5,1262.6 L475.0,1262.6 L475.5,1262.6 L476.0,1262.6 L476.5,1262.6 L477.0,1262.6 L477.5,1262.6 L478.0,1262.6 L478.5,1262.6 L479.0,1262.6 L479.5,1262.6 L480.0,1262.6 L480.5,1262.6 L481.0,1262.6 L481.5,1262.6 L482.0,1262.6 L482.5,1262.6 L483.0,1262.6 L483.5,1262.6 L484.0,1262.6 L484.5,1262.6 L485.0,1262.6 L485.5,1262.6 L486.0,1262.6 L486.5,1262.6 L487.0,1262.6 L487.5,1262.6 L488.0,1262.6 L488.5,1262.6 L489.0,1262.6 L489.5,1262.6 L490.0,1262.6 L490.5,1262.6 L491.0,1262.6 L491.5,1262.6 L492.0,1262.6 L492.5,1262.6 L493.0,1262.6 L493.5,1262.6 L494.0,1262.6 L494.5,1262.6 L495.0,1262.6 L495.5,1262.6 L496.0,1262.6 L496.5,1262.6 L497.0,1262.6 L497.5,1262.6 L498.0,1262.6 L498.5,1262.6 L499.0,1262.6 L499.5,1262.6 L500.0,1262.6 L500.5,1262.6 L501.0,1262.6 L501.5,1262.6 L502.0,1262.6 L502.5,1262.6 L503.0,1262.6 L503.5,1262.6 L504.0,1262.6 L504.5,1262.6 L505.0,1262.6 L505.5,1262.6 L506.0,1262.6 L506.5,1262.6 L507.0,1262.6 L507.5,1262.6 L508.0,1262.6 L508.5,1262.6 L509.0,1262.6 L509.5,1262.6 L510.0,1262.6 L510.5,1262.6 L511.0,1262.6 L511.5,1262.6 L512.0,1262.6 L512.5,1262.6 L513.0,1262.6 L513.5,1262.6 L514.0,1262.6 L514.5,1262.6 L515.0,1262.6 L515.5,1262.6 L516.0,1262.6 L516.5,1262.6 L517.0,1262.6 L517.5,1262.6 L518.0,1262.6 L518.5,1262.6 L519.0,1262.6 L519.5,1262.6 L520.0,1262.6 L520.5,1262.6 L521.0,1262.6 L521.5,1262.6 L522.0,1262.6 L522.5,1262.6 L523.0,1262.6 L523.5,1262.6 L524.0,1262.6 L524.5,1262.6 L525.0,1262.6 L525.5,1262.6 L526.0,1262.6 L526.5,1262.6 L527.0,1262.6 L527.5,1262.6 L528.0,1262.6 L528.5,1262.6 L529.0,1262.6 L529.5,1262.6 L530.0,1262.6 L530.5,1262.6 L531.0,1262.6 L531.5,1262.6 L532.0,1262.6 L532.5,1262.6 L533.0,1262.6 L533.5,1262.6 L534.0,1262.6 L534.5,1262.6 L535.0,1262.6 L535.5,1262.6 L536.0,1262.6 L536.5,1262.6 L537.0,1262.6 L537.5,1262.6 L538.0,1262.6 L538.5,1262.6 L539.0,1262.6 L539.5,1262.6 L540.0,1262.6 L540.5,1262.6 L541.0,1262.6 L541.5,1262.6 L542.0,1262.6 L542.5,1262.6 L543.0,1262.6 L543.5,1262.6 L544.0,1262.6 L544.5,1262.6 L545.0,1262.6 L545.5,1262.6 L546.0,1262.6 L546.5,1262.6 L547.0,1262.6 L547.5,1262.6 L548.0,1262.6 L548.5,1262.6 L549.0,1262.6 L549.5,1262.6 L550.0,1262.6 L550.5,1262.6 L551.0,1262.6 L551.5,1262.6 L552.0,1262.6 L552.5,1262.6 L553.0,1262.6 L553.5,1262.6 L554.0,1262.6 L554.5,1262.6 L555.0,1262.6 L555.5,1262.6 L556.0,1262.6 L556.5,1262.6 L557.0,1262.6 L557.5,1262.6 L558.0,1262.6 L558.5,1262.6 L559.0,1262.6 L559.5,1262.6 L560.0,1262.6 L560.5,1262.6 L561.0,1262.6 L561.5,1262.6 L562.0,1262.6 L562.5,1262.6 L563.0,1262.6 L563.5,1262.6 L564.0,1262.6 L564.5,1262.6 L565.0,1262.6 L565.5,1262.6 L566.0,1262.6 L566.5,1262.6 L567.0,1262.6 L567.5,1262.6 L568.0,1262.6 L568.5,1262.6 L569.0,1262.6 L569.5,1262.6 L570.0,1262.6 L570.5,1262.6 L571.0,1262.6 L571.5,1262.6 L572.0,1262.6 L572.5,1262.6 L573.0,1262.6 L573.5,1262.6 L574.0,1262.6 L574.5,1262.6 L575.0,1262.6 L575.5,1262.6 L576.0,1262.6 L576.5,1262.6 L577.0,1262.6 L577.5,1262.6 L578.0,1262.6 L578.5,1262.6 L579.0,1262.6 L579.5,1262.6 L580.0,1262.6 L580.5,1262.6 L581.0,1262.6 L581.5,1262.6 L582.0,1262.6 L582.5,1262.6 L583.0,1262.6 L583.5,1262.6 L584.0,1262.6 L584.5,1262.6 L585.0,1262.6 L585.5,1262.6 L586.0,1262.6 L586.5,1262.6 L587.0,1262.6 L587.5,1262.6 L588.0,1262.6 L588.5,1262.6 L589.0,1262.6 L589.5,1262.6 L590.0,1262.6 L590.5,1262.6 L591.0,1262.6 L591.5,1262.6 L592.0,1262.6 L592.5,1262.6 L593.0,1262.6 L593.5,1262.6 L594.0,1262.6 L594.5,1262.6 L595.0,1262.6 L595.5,1262.6 L596.0,1262.6 L596.5,1262.6 L597.0,1262.6 L597.5,1262.6 L598.0,1262.6 L598.5,1262.6 L599.0,1262.6 L599.5,1262.6 L600.0,1262.6 L600.5,1262.6 L601.0,1262.6 L601.5,1262.6 L602.0,1262.6 L602.5,1262.6 L603.0,1262.6 L603.5,1262.6 L604.0,1262.6 L604.5,1262.6 L605.0,1262.6 L605.5,1262.6 L606.0,1262.6 L606.5,1262.6 L607.0,1262.6 L607.5,1262.6 L608.0,1262.6 L608.5,1262.6 L609.0,1262.6 L609.5,1262.6 L610.0,1262.6 L610.5,1262.6 L611.0,1262.6 L611.5,1262.6 L612.0,1262.6 L612.5,1262.6 L613.0,1262.6 L613.5,1262.6 L614.0,1262.6 L614.5,1262.6 L615.0,1262.6 L615.5,1262.6 L616.0,1262.6 L616.5,1262.6 L617.0,1262.6 L617.5,1262.6 L618.0,1262.6 L618.5,1262.6 L619.0,1262.6 L619.5,1262.6 L620.0,1262.6 L620.5,1262.6 L621.0,1262.6 L621.5,1262.6 L622.0,1262.6 L622.5,1262.6 L623.0,1262.6 L623.5,1262.6 L624.0,1262.6 L624.5,1262.6 L625.0,1262.6 L625.5,1262.6 L626.0,1262.6 L626.5,1262.6 L627.0,1262.6 L627.5,1262.6 L628.0,1262.6 L628.5,1262.6 L629.0,1262.6 L629.5,1262.6 L630.0,1262.6 L630.5,1262.6 L631.0,1262.6 L631.5,1262.6 L632.0,1262.6 L632.5,1262.6 L633.0,1262.6 L633.5,1262.6 L634.0,1262.6 L634.5,1262.6 L635.0,1262.6 L635.5,1262.6 L636.0,1262.6 L636.5,1262.6 L637.0,1262.6 L637.5,1262.6 L638.0,1262.6 L638.5,1262.6 L639.0,1262.6 L639.5,1262.6 L640.0,1262.6 L640.5,1262.6 L641.0,1262.6 L641.5,1262.6 L642.0,1262.6 L642.5,1262.6 L643.0,1262.6 L643.5,1262.6 L644.0,1262.6 L644.5,1262.6 L645.0,1262.6 L645.5,1262.6 L646.0,1262.6 L646.5,1262.6 L647.0,1262.6 L647.5,1262.6 L648.0,1262.6 L648.5,1262.6 L649.0,1262.6 L649.5,1262.6 L650.0,1262.6 L650.5,1262.6 L651.0,1262.6 L651.5,1262.6 L652.0,1262.6 L652.5,1262.6 L653.0,1262.6 L653.5,1262.6 L654.0,1262.6 L654.5,1262.6 L655.0,1262.6 L655.5,1262.6 L656.0,1262.6 L656.5,1262.6 L657.0,1262.6 L657.5,1262.6 L658.0,1262.6 L658.5,1262.6 L659.0,1262.6 L659.5,1262.6 L660.0,1262.6 L660.5,1262.6 L661.0,1262.6 L661.5,1262.6 L662.0,1262.6 L662.5,1262.6 L663.0,1262.6 L663.5,1262.6 L664.0,1262.6 L664.5,1262.6 L665.0,1262.6 L665.5,1262.6 L666.0,1262.6 L666.5,1262.6 L667.0,1262.6 L667.5,1262.6 L668.0,1262.6 L668.5,1262.6 L669.0,1262.6 L669.5,1262.6 L670.0,1262.6 L670.5,1262.6 L671.0,1262.6 L671.5,1262.6 L672.0,1262.6 L672.5,1262.6 L673.0,1262.6 L673.5,1262.6 L674.0,1262.6 L674.5,1262.6 L675.0,1262.6 L675.5,1262.6 L676.0,1262.6 L676.5,1262.6 L677.0,1262.6 L677.5,1262.6 L678.0,1262.6 L678.5,1262.6 L679.0,1262.6 L679.5,1262.6 L680.0,1262.6 L680.5,1262.6 L681.0,1262.6 L681.5,1262.6 L682.0,1262.6 L682.5,1262.6 L683.0,1262.6 L683.5,1262.6 L684.0,1262.6 L684.5,1262.6 L685.0,1262.6 L685.5,1262.6 L686.0,1262.6 L686.5,1262.6 L687.0,1262.6 L687.5,1262.6 L688.0,1262.6 L688.5,1262.6 L689.0,1262.6 L689.5,1262.6 L690.0,1262.6 L690.5,1262.6 L691.0,1262.6 L691.5,1262.6 L692.0,1262.6 L692.5,1262.6 L693.0,1262.6 L693.5,1262.6 L694.0,1262.6 L694.5,1262.6 L695.0,1262.6 L695.5,1262.6 L696.0,1262.6 L696.5,1262.6 L697.0,1262.6 L697.5,1262.6 L698.0,1262.6 L698.5,1262.6 L699.0,1262.6 L699.5,1262.6 L700.0,1262.6 L700.5,1262.6 L701.0,1262.6 L701.5,1262.6 L702.0,1262.6 L702.5,1262.6 L703.0,1262.6 L703.5,1262.6 L704.0,1262.6 L704.5,1262.6 L705.0,1262.6 L705.5,1262.6 L706.0,1262.6 L706.5,1262.6 L707.0,1262.6 L707.5,1262.6 L708.0,1262.6 L708.5,1262.6 L709.0,1262.6 L709.5,1262.6 L710.0,1262.6 L710.5,1262.6 L711.0,1262.6 L711.5,1262.6 L712.0,1262.6 L712.5,1262.6 L713.0,1262.6 L713.5,1262.6 L714.0,1262.6 L714.5,1262.6 L715.0,1262.6 L715.5,1262.6 L716.0,1262.6 L716.5,1262.6 L717.0,1262.6 L717.5,1262.6 L718.0,1262.6 L718.5,1262.6 L719.0,1262.6 L719.5,1262.6 L720.0,1262.6 L720.5,1262.6 L721.0,1262.6 L721.5,1262.6 L722.0,1262.6 L722.5,1262.6 L723.0,1262.6 L723.5,1262.6 L724.0,1262.6 L724.5,1262.6 L725.0,1262.6 L725.5,1262.6 L726.0,1262.6 L726.5,1262.6 L727.0,1262.6 L727.5,1262.6 L728.0,1262.6 L728.5,1262.6 L729.0,1262.6 L729.5,1262.6 L730.0,1262.6 L730.5,1262.6 L731.0,1262.6 L731.5,1262.6 L732.0,1262.6 L732.5,1262.6 L733.0,1262.6 L733.5,1262.6 L734.0,1262.6 L734.5,1262.6 L735.0,1262.6 L735.5,1262.6 L736.0,1262.6 L736.5,1262.6 L737.0,1262.6 L737.5,1262.6 L738.0,1262.6 L738.5,1262.6 L739.0,1262.6 L739.5,1262.6 L740.0,1262.6 L740.5,1262.6 L741.0,1262.6 L741.5,1262.6 L742.0,1262.6 L742.5,1262.6 L743.0,1262.6 L743.5,1262.6 L744.0,1262.6 L744.5,1262.6 L745.0,1262.6 L745.5,1262.6 L746.0,1262.6 L746.5,1262.6 L747.0,1262.6 L747.5,1262.6 L748.0,1262.6 L748.5,1262.6 L749.0,1262.6 L749.5,1262.6 L750.0,1262.6 L750.5,1262.6 L751.0,1262.6 L751.5,1262.6 L752.0,1262.6 L752.5,1262.6 L753.0,1262.6 L753.5,1262.6 L754.0,1262.6 L754.5,1262.6 L755.0,1262.6 L755.5,1262.6 L756.0,1262.6 L756.5,1262.6 L757.0,1262.6 L757.5,1262.6 L758.0,1262.6 L758.5,1262.6 L759.0,1262.6 L759.5,1262.6 L760.0,1262.6 L760.5,1262.6 L761.0,1262.6 L761.5,1262.6 L762.0,1262.6 L762.5,1262.6 L763.0,1262.6 L763.5,1262.6 L764.0,1262.6 L764.5,1262.6 L765.0,1262.6 L765.5,1262.6 L766.0,1262.6 L766.5,1262.6 L767.0,1262.6 L767.5,1262.6 L768.0,1262.6 L768.5,1262.6 L769.0,1262.6 L769.5,1262.6 L770.0,1262.6 L770.5,1262.6 L771.0,1262.6 L771.5,1262.6 L772.0,1262.6 L772.5,1262.6 L773.0,1262.6 L773.5,1262.6 L774.0,1262.6 L774.5,1262.6 L775.0,1262.6 L775.5,1262.6 L776.0,1262.6 L776.5,1262.6 L777.0,1262.6 L777.5,1262.6 L778.0,1262.6 L778.5,1262.6 L779.0,1262.6 L779.5,1262.6 L780.0,1262.6 L780.5,1262.6 L781.0,1262.6 L781.5,1262.6 L782.0,1262.6 L782.5,1262.6 L783.0,1262.6 L783.5,1262.6 L784.0,1262.6 L784.5,1262.6 L785.0,1262.6 L785.5,1262.6 L786.0,1262.6 L786.5,1262.6 L787.0,1262.6 L787.5,1262.6 L788.0,1262.6 L788.5,1262.6 L789.0,1262.6 L789.5,1262.6 L790.0,1262.6 L790.5,1262.6 L791.0,1262.6 L791.5,1262.6 L792.0,1262.6 L792.5,1262.6 L793.0,1262.6 L793.5,1262.6 L794.0,1262.6 L794.5,1262.6 L795.0,1262.6 L795.5,1262.6 L796.0,1262.6 L796.5,1262.6 L797.0,1262.6 L797.5,1262.6 L798.0,1262.6 L798.5,1262.6 L799.0,1262.6 L799.5,1262.6 L800.0,1262.6 L800.5,1262.6 L801.0,1262.6 L801.5,1262.6 L802.0,1262.6 L802.5,1262.6 L803.0,1262.6 L803.5,1262.6 L804.0,1262.6 L804.5,1262.6 L805.0,1262.6 L805.5,1262.6 L806.0,1262.6 L806.5,1262.6 L807.0,1262.6 L807.5,1262.6 L808.0,1262.6 L808.5,1262.6 L809.0,1262.6 L809.5,1262.6 L810.0,1262.6 L810.5,1262.6 L811.0,1262.6 L811.5,1262.6 L812.0,1262.6 L812.5,1262.6 L813.0,1262.6 L813.5,1262.6 L814.0,1262.6 L814.5,1262.6 L815.0,1262.6 L815.5,1262.6 L816.0,1262.6 L816.5,1262.6 L817.0,1262.6 L817.5,1262.6 L818.0,1262.6 L818.5,1262.6 L819.0,1262.6 L819.5,1262.6 L820.0,1262.6 L820.5,1262.6 L821.0,1262.6 L821.5,1262.6 L822.0,1262.6 L822.5,1262.6 L823.0,1262.6 L823.5,1262.6 L824.0,1262.6 L824.5,1262.6 L825.0,1262.6 L825.5,1262.6 L826.0,1262.6 L826.5,1262.6 L827.0,1262.6 L827.5,1262.6 L828.0,1262.6 L828.5,1262.6 L829.0,1262.6 L829.5,1262.6 L830.0,1262.6 L830.5,1262.6 L831.0,1262.6 L831.5,1262.6 L832.0,1262.6 L832.5,1262.6 L833.0,1262.6 L833.5,1262.6 L834.0,1262.6 L834.5,1262.6 L835.0,1262.6 L835.5,1262.6 L836.0,1262.6 L836.5,1262.6 L837.0,1262.6 L837.5,1262.6 L838.0,1262.6 L838.5,1262.6 L839.0,1262.6 L839.5,1262.6 L840.0,1262.6 L840.5,1262.6 L841.0,1262.6 L841.5,1262.6 L842.0,1262.6 L842.5,1262.6 L843.0,1262.6 L843.5,1262.6 L844.0,1262.6 L844.5,1262.6 L845.0,1262.6 L845.5,1262.6 L846.0,1262.6 L846.5,1262.6 L847.0,1262.6 L847.5,1262.6 L848.0,1262.6 L848.5,1262.6 L849.0,1262.6 L849.5,1262.6 L850.0,1262.6 L850.5,1262.6 L851.0,1262.6 L851.5,1262.6 L852.0,1262.6 L852.5,1262.6 L853.0,1262.6 L853.5,1262.6 L854.0,1262.6 L854.5,1262.6 L855.0,1262.6 L855.5,1262.6 L856.0,1262.6 L856.5,1262.6 L857.0,1262.6 L857.5,1262.6 L858.0,1262.6 L858.5,1262.6 L859.0,1262.6 L859.5,1262.6 L860.0,1262.6 L860.5,1262.6 L861.0,1262.6 L861.5,1262.6 L862.0,1262.6 L862.5,1262.6 L863.0,1262.6 L863.5,1262.6 L864.0,1262.6 L864.5,1262.6 L865.0,1262.6 L865.5,1262.6 L866.0,1262.6 L866.5,1262.6 L867.0,1262.6 L867.5,1262.6 L868.0,1262.6 L868.5,1262.6 L869.0,1262.6 L869.5,1262.6 L870.0,1262.6 L870.5,1262.6 L871.0,1262.6 L871.5,1262.6 L872.0,1262.6 L872.5,1262.6 L873.0,1262.6 L873.5,1262.6 L874.0,1262.6 L874.5,1262.6 L875.0,1262.6 L875.5,1262.6 L876.0,1262.6 L876.5,1262.6 L877.0,1262.6 L877.5,1262.6 L878.0,1262.6 L878.5,1262.6 L879.0,1262.6 L879.5,1262.6 L880.0,1262.6 L880.5,1262.6 L881.0,1262.6 L881.5,1262.6 L882.0,1262.6 L882.5,1262.6 L883.0,1262.6 L883.5,1262.6 L884.0,1262.6 L884.5,1262.6 L885.0,1262.6 L885.5,1262.6 L886.0,1262.6 L886.5,1262.6 L887.0,1262.6 L887.5,1262.6 L888.0,1262.6 L888.5,1262.6 L889.0,1262.6 L889.5,1262.6 L890.0,1262.6 L890.5,1262.6 L891.0,1262.6 L891.5,1262.6 L892.0,1262.6 L892.5,1262.6 L893.0,1262.6 L893.5,1262.6 L894.0,1262.6 L894.5,1262.6 L895.0,1262.6 L895.5,1262.6 L896.0,1262.6 L896.5,1262.6 L897.0,1262.6 L897.5,1262.6 L898.0,1262.6 L898.5,1262.6 L899.0,1262.6 L899.5,1262.6 L900.0,1262.6 L900.5,1262.6 L901.0,1262.6 L901.5,1262.6 L902.0,1262.6 L902.5,1262.6 L903.0,1262.6 L903.5,1262.6 L904.0,1262.6 L904.5,1262.6 L905.0,1262.6 L905.5,1262.6 L906.0,1262.6 L906.5,1262.6 L907.0,1262.6 L907.5,1262.6 L908.0,1262.6 L908.5,1262.6 L909.0,1262.6 L909.5,1262.6 L910.0,1262.6 L910.5,1262.6 L911.0,1262.6 L911.5,1262.6 L912.0,1262.6 L912.5,1262.6 L913.0,1262.6 L913.5,1262.6 L914.0,1262.6 L914.5,1262.6 L915.0,1262.6 L915.5,1262.6 L916.0,1262.6 L916.5,1262.6 L917.0,1262.6 L917.5,1262.6 L918.0,1262.6 L918.5,1262.6 L919.0,1262.6 L919.5,1262.6 L920.0,1262.6 L920.5,1262.6 L921.0,1262.6 L921.5,1262.6 L922.0,1262.6 L922.5,1262.6 L923.0,1262.6 L923.5,1262.6 L924.0,1262.6 L924.5,1262.6 L925.0,1262.6 L925.5,1262.6 L926.0,1262.6 L926.5,1262.6 L927.0,1262.6 L927.5,1262.6 L928.0,1262.6 L928.5,1262.6 L929.0,1262.6 L929.5,1262.6 L930.0,1262.6 L930.5,1262.6 L931.0,1262.6 L931.5,1262.6 L932.0,1262.6 L932.5,1262.6 L933.0,1262.6 L933.5,1262.6 L934.0,1262.6 L934.5,1262.6 L935.0,1262.6 L935.5,1262.6 L936.0,1262.6 L936.5,1262.6 L937.0,1262.6 L937.5,1262.6 L938.0,1262.6 L938.5,1262.6 L939.0,1262.6 L939.5,1262.6 L940.0,1262.6 L940.5,1262.6 L941.0,1262.6 L941.5,1262.6 L942.0,1262.5 L942.5,1262.5 L943.0,1262.5 L943.5,1262.5 L944.0,1262.5 L944.5,1262.5 L945.0,1262.5 L945.5,1262.5 L946.0,1262.5 L946.5,1262.5 L947.0,1262.5 L947.5,1262.4 L948.0,1262.4 L948.5,1262.4 L949.0,1262.4 L949.5,1262.4 L950.0,1262.3 L950.5,1262.3 L951.0,1262.3 L951.5,1262.3 L952.0,1262.2 L952.5,1262.2 L953.0,1262.1 L953.5,1262.1 L954.0,1262.1 L954.5,1262.0 L955.0,1261.9 L955.5,1261.9 L956.0,1261.8 L956.5,1261.8 L957.0,1261.7 L957.5,1261.6 L958.0,1261.5 L958.5,1261.4 L959.0,1261.3 L959.5,1261.2 L960.0,1261.1 L960.5,1261.0 L961.0,1260.8 L961.5,1260.7 L962.0,1260.5 L962.5,1260.4 L963.0,1260.2 L963.5,1260.0 L964.0,1259.8 L964.5,1259.6 L965.0,1259.4 L965.5,1259.1 L966.0,1258.9 L966.5,1258.6 L967.0,1258.3 L967.5,1258.0 L968.0,1257.6 L968.5,1257.3 L969.0,1256.9 L969.5,1256.5 L970.0,1256.1 L970.5,1255.6 L971.0,1255.1 L971.5,1254.6 L972.0,1254.1 L972.5,1253.6 L973.0,1253.0 L973.5,1252.3 L974.0,1251.7 L974.5,1251.0 L975.0,1250.3 L975.5,1249.5 L976.0,1248.7 L976.5,1247.9 L977.0,1247.0 L977.5,1246.0 L978.0,1245.1 L978.5,1244.1 L979.0,1243.0 L979.5,1241.9 L980.0,1240.7 L980.5,1239.5 L981.0,1238.3 L981.5,1236.9 L982.0,1235.6 L982.5,1234.1 L983.0,1232.7 L983.5,1231.1 L984.0,1229.5 L984.5,1227.8 L985.0,1226.1 L985.5,1224.3 L986.0,1222.5 L986.5,1220.5 L987.0,1218.5 L987.5,1216.5 L988.0,1214.4 L988.5,1212.2 L989.0,1209.9 L989.5,1207.5 L990.0,1205.1 L990.5,1202.7 L991.0,1200.1 L991.5,1197.5 L992.0,1194.8 L992.5,1192.0 L993.0,1189.2 L993.5,1186.2 L994.0,1183.3 L994.5,1180.2 L995.0,1177.0 L995.5,1173.8 L996.0,1170.6 L996.5,1167.2 L997.0,1163.8 L997.5,1160.3 L998.0,1156.7 L998.5,1153.1 L999.0,1149.4 L999.5,1145.7 L1000.0,1141.9 L1000.5,1138.0 L1001.0,1134.0 L1001.5,1130.1 L1002.0,1126.0 L1002.5,1121.9 L1003.0,1117.8 L1003.5,1113.6 L1004.0,1109.3 L1004.5,1105.0 L1005.0,1100.7 L1005.5,1096.4 L1006.0,1092.0 L1006.5,1087.5 L1007.0,1083.1 L1007.5,1078.6 L1008.0,1074.1 L1008.5,1069.6 L1009.0,1065.1 L1009.5,1060.6 L1010.0,1056.1 L1010.5,1051.6 L1011.0,1047.1 L1011.5,1042.6 L1012.0,1038.1 L1012.5,1033.6 L1013.0,1029.2 L1013.5,1024.8 L1014.0,1020.4 L1014.5,1016.1 L1015.0,1011.8 L1015.5,1007.6 L1016.0,1003.4 L1016.5,999.3 L1017.0,995.3 L1017.5,991.3 L1018.0,987.3 L1018.5,983.5 L1019.0,979.7 L1019.5,975.9 L1020.0,972.3 L1020.5,968.7 L1021.0,965.1 L1021.5,961.6 L1022.0,958.2 L1022.5,954.8 L1023.0,951.4 L1023.5,948.1 L1024.0,944.8 L1024.5,941.6 L1025.0,938.4 L1025.5,935.2 L1026.0,932.0 L1026.5,928.9 L1027.0,925.7 L1027.5,922.5 L1028.0,919.4 L1028.5,916.3 L1029.0,913.1 L1029.5,910.0 L1030.0,906.9 L1030.5,903.8 L1031.0,900.7 L1031.5,897.6 L1032.0,894.5 L1032.5,891.5 L1033.0,888.6 L1033.5,885.7 L1034.0,882.8 L1034.5,880.1 L1035.0,877.4 L1035.5,874.8 L1036.0,872.2 L1036.5,869.8 L1037.0,867.5 L1037.5,865.4 L1038.0,863.3 L1038.5,861.4 L1039.0,859.6 L1039.5,857.9 L1040.0,856.4 L1040.5,854.9 L1041.0,853.7 L1041.5,852.5 L1042.0,851.5 L1042.5,850.5 L1043.0,849.7 L1043.5,849.0 L1044.0,848.4 L1044.5,847.9 L1045.0,847.4 L1045.5,847.1 L1046.0,846.8 L1046.5,846.5 L1047.0,846.3 L1047.5,846.2 L1048.0,846.1 L1048.5,846.0 L1049.0,846.0 L1049.5,846.0 L1050.0,846.0 L1050.5,846.1 L1051.0,846.3 L1051.5,846.6 L1052.0,847.0 L1052.5,847.5 L1053.0,848.2 L1053.5,848.9 L1054.0,849.8 L1054.5,850.8 L1055.0,851.9 L1055.5,853.2 L1056.0,854.6 L1056.5,856.2 L1057.0,857.8 L1057.5,859.6 L1058.0,861.5 L1058.5,863.5 L1059.0,865.6 L1059.5,867.8 L1060.0,870.1 L1060.5,872.4 L1061.0,874.9 L1061.5,877.4 L1062.0,879.9 L1062.5,882.5 L1063.0,885.2 L1063.5,887.9 L1064.0,890.6 L1064.5,893.4 L1065.0,896.2 L1065.5,899.0 L1066.0,901.9 L1066.5,904.8 L1067.0,907.6 L1067.5,910.5 L1068.0,913.5 L1068.5,916.4 L1069.0,919.3 L1069.5,922.3 L1070.0,925.2 L1070.5,928.2 L1071.0,931.1 L1071.5,934.1 L1072.0,937.1 L1072.5,940.1 L1073.0,943.2 L1073.5,946.2 L1074.0,949.3 L1074.5,952.4 L1075.0,955.5 L1075.5,958.6 L1076.0,961.7 L1076.5,964.9 L1077.0,968.1 L1077.5,971.4 L1078.0,974.6 L1078.5,977.9 L1079.0,981.3 L1079.5,984.6 L1080.0,988.0 L1080.5,991.4 L1081.0,994.8 L1081.5,998.2 L1082.0,1001.7 L1082.5,1005.1 L1083.0,1008.6 L1083.5,1012.1 L1084.0,1015.6 L1084.5,1019.1 L1085.0,1022.7 L1085.5,1026.2 L1086.0,1029.7 L1086.5,1033.3 L1087.0,1036.8 L1087.5,1040.3 L1088.0,1043.8 L1088.5,1047.4 L1089.0,1050.9 L1089.5,1054.4 L1090.0,1057.8 L1090.5,1061.3 L1091.0,1064.8 L1091.5,1068.2 L1092.0,1071.6 L1092.5,1075.1 L1093.0,1078.4 L1093.5,1081.8 L1094.0,1085.1 L1094.5,1088.5 L1095.0,1091.8 L1095.5,1095.0 L1096.0,1098.3 L1096.5,1101.5 L1097.0,1104.7 L1097.5,1107.8 L1098.0,1110.9 L1098.5,1114.0 L1099.0,1117.1 L1099.5,1120.1 L1100.0,1123.1 L1100.5,1126.1 L1101.0,1129.0 L1101.5,1131.9 L1102.0,1134.8 L1102.5,1137.6 L1103.0,1140.4 L1103.5,1143.1 L1104.0,1145.8 L1104.5,1148.5 L1105.0,1151.1 L1105.5,1153.7 L1106.0,1156.3 L1106.5,1158.8 L1107.0,1161.3 L1107.5,1163.7 L1108.0,1166.1 L1108.5,1168.5 L1109.0,1170.8 L1109.5,1173.1 L1110.0,1175.4 L1110.5,1177.6 L1111.0,1179.8 L1111.5,1181.9 L1112.0,1184.0 L1112.5,1186.1 L1113.0,1188.1 L1113.5,1190.1 L1114.0,1192.0 L1114.5,1193.9 L1115.0,1195.8 L1115.5,1197.6 L1116.0,1199.4 L1116.5,1201.2 L1117.0,1202.9 L1117.5,1204.6 L1118.0,1206.2 L1118.5,1207.8 L1119.0,1209.4 L1119.5,1211.0 L1120.0,1212.5 L1120.5,1214.0 L1121.0,1215.4 L1121.5,1216.8 L1122.0,1218.2 L1122.5,1219.5 L1123.0,1220.8 L1123.5,1222.1 L1124.0,1223.4 L1124.5,1224.6 L1125.0,1225.8 L1125.5,1226.9 L1126.0,1228.1 L1126.5,1229.2 L1127.0,1230.3 L1127.5,1231.3 L1128.0,1232.3 L1128.5,1233.3 L1129.0,1234.3 L1129.5,1235.2 L1130.0,1236.1 L1130.5,1237.0 L1131.0,1237.9 L1131.5,1238.7 L1132.0,1239.5 L1132.5,1240.3 L1133.0,1241.1 L1133.5,1241.8 L1134.0,1242.6 L1134.5,1243.3 L1135.0,1244.0 L1135.5,1244.6 L1136.0,1245.3 L1136.5,1245.9 L1137.0,1246.5 L1137.5,1247.1 L1138.0,1247.6 L1138.5,1248.2 L1139.0,1248.7 L1139.5,1249.2 L1140.0,1249.7 L1140.5,1250.2 L1141.0,1250.7 L1141.5,1251.1 L1142.0,1251.6 L1142.5,1252.0 L1143.0,1252.4 L1143.5,1252.8 L1144.0,1253.2 L1144.5,1253.6 L1145.0,1253.9 L1145.5,1254.3 L1146.0,1254.6 L1146.5,1254.9 L1147.0,1255.2 L1147.5,1255.5 L1148.0,1255.8 L1148.5,1256.1 L1149.0,1256.4 L1149.5,1256.6 L1150.0,1256.9 L1150.5,1257.1 L1151.0,1257.3 L1151.5,1257.5 L1152.0,1257.8 L1152.5,1258.0 L1153.0,1258.2 L1153.5,1258.4 L1154.0,1258.5 L1154.5,1258.7 L1155.0,1258.9 L1155.5,1259.0 L1156.0,1259.2 L1156.5,1259.4 L1157.0,1259.5 L1157.5,1259.6 L1158.0,1259.8 L1158.5,1259.9 L1159.0,1260.0 L1159.5,1260.1 L1160.0,1260.2 L1160.5,1260.4 L1161.0,1260.5 L1161.5,1260.6 L1162.0,1260.6 L1162.5,1260.7 L1163.0,1260.8 L1163.5,1260.9 L1164.0,1261.0 L1164.5,1261.1 L1165.0,1261.1 L1165.5,1261.2 L1166.0,1261.3 L1166.5,1261.3 L1167.0,1261.4 L1167.5,1261.5 L1168.0,1261.5 L1168.5,1261.6 L1169.0,1261.6 L1169.5,1261.7 L1170.0,1261.7 L1170.5,1261.8 L1171.0,1261.8 L1171.5,1261.8 L1172.0,1261.9 L1172.5,1261.9 L1173.0,1261.9 L1173.5,1262.0 L1174.0,1262.0 L1174.5,1262.0 L1175.0,1262.1 L1175.5,1262.1 L1176.0,1262.1 L1176.5,1262.1 L1177.0,1262.2 L1177.5,1262.2 L1178.0,1262.2 L1178.5,1262.2 L1179.0,1262.3 L1179.5,1262.3 L1180.0,1262.3 L1180.5,1262.3 L1181.0,1262.3 L1181.5,1262.3 L1182.0,1262.4 L1182.5,1262.4 L1183.0,1262.4 L1183.5,1262.4 L1184.0,1262.4 L1184.5,1262.4 L1185.0,1262.4 L1185.5,1262.4 L1186.0,1262.4 L1186.5,1262.5 L1187.0,1262.5 L1187.5,1262.5 L1188.0,1262.5 L1188.5,1262.5 L1189.0,1262.5 L1189.5,1262.5 L1190.0,1262.5 L1190.5,1262.5 L1191.0,1262.5 L1191.5,1262.5 L1192.0,1262.5 L1192.5,1262.5 L1193.0,1262.5 L1193.5,1262.5 L1194.0,1262.5 L1194.5,1262.5 L1195.0,1262.5 L1195.5,1262.5 L1196.0,1262.6 L1196.5,1262.6 L1197.0,1262.6 L1197.5,1262.6 L1198.0,1262.6 L1198.5,1262.6 L1199.0,1262.6 L1199.5,1262.6 L1200.0,1262.6 L1200.5,1262.6 L1201.0,1262.6 L1201.5,1262.6 L1202.0,1262.6 L1202.5,1262.6 L1203.0,1262.6 L1203.5,1262.6 L1204.0,1262.6 L1204.5,1262.6 L1205.0,1262.6 L1205.5,1262.6 L1206.0,1262.6 L1206.5,1262.6 L1207.0,1262.6 L1207.5,1262.6 L1208.0,1262.6 L1208.5,1262.6 L1209.0,1262.6 L1209.5,1262.6 L1210.0,1262.6 L1210.5,1262.6 L1211.0,1262.6 L1211.5,1262.6 L1212.0,1262.6 L1212.5,1262.6 L1213.0,1262.6 L1213.5,1262.6 L1214.0,1262.6 L1214.5,1262.6 L1215.0,1262.6 L1215.5,1262.6 L1216.0,1262.6 L1216.5,1262.6 L1217.0,1262.6 L1217.5,1262.6 L1218.0,1262.6 L1218.5,1262.6 L1219.0,1262.6 L1219.5,1262.6 L1220.0,1262.6 L1220.5,1262.6 L1221.0,1262.6 L1221.5,1262.6 L1222.0,1262.6 L1222.5,1262.6 L1223.0,1262.6 L1223.5,1262.6 L1224.0,1262.6 L1224.5,1262.6 L1225.0,1262.6 L1225.5,1262.6 L1226.0,1262.6 L1226.5,1262.6 L1227.0,1262.6 L1227.5,1262.6 L1228.0,1262.6 L1228.5,1262.6 L1229.0,1262.6 L1229.5,1262.6 L1230.0,1262.6 L1230.5,1262.6 L1231.0,1262.6 L1231.5,1262.6 L1232.0,1262.6 L1232.5,1262.6 L1233.0,1262.6 L1233.5,1262.6 L1234.0,1262.6 L1234.5,1262.6 L1235.0,1262.6 L1235.5,1262.6 L1236.0,1262.6 L1236.5,1262.6 L1237.0,1262.6 L1237.5,1262.6 L1238.0,1262.6 L1238.5,1262.6 L1239.0,1262.6 L1239.5,1262.6 L1240.0,1262.6 L1240.5,1262.6 L1241.0,1262.6 L1241.5,1262.6 L1242.0,1262.6 L1242.5,1262.6 L1243.0,1262.6 L1243.5,1262.6 L1244.0,1262.6 L1244.5,1262.6 L1245.0,1262.6 L1245.5,1262.6 L1246.0,1262.6 L1246.5,1262.6 L1247.0,1262.6 L1247.5,1262.6 L1248.0,1262.6 L1248.5,1262.6 L1249.0,1262.6 L1249.5,1262.6 L1250.0,1262.6 L1250.5,1262.6 L1251.0,1262.6 L1251.5,1262.6 L1252.0,1262.6 L1252.5,1262.6 L1253.0,1262.6 L1253.5,1262.6 L1254.0,1262.6 L1254.5,1262.6 L1255.0,1262.6 L1255.5,1262.6 L1256.0,1262.6 L1256.5,1262.6 L1257.0,1262.6 L1257.5,1262.6 L1258.0,1262.6 L1258.5,1262.6 L1259.0,1262.6 L1259.5,1262.6 L1260.0,1262.6 L1260.5,1262.6 L1261.0,1262.6 L1261.5,1262.6 L1262.0,1262.6 L1262.5,1262.6 L1263.0,1262.6 L1263.5,1262.6 L1264.0,1262.6 L1264.5,1262.6 L1265.0,1262.6 L1265.5,1262.6 L1266.0,1262.6 L1266.5,1262.6 L1267.0,1262.6 L1267.5,1262.6 L1268.0,1262.6 L1268.5,1262.6 L1269.0,1262.6 L1269.5,1262.6 L1270.0,1262.6 L1270.5,1262.6 L1271.0,1262.6 L1271.5,1262.6 L1272.0,1262.6 L1272.5,1262.6 L1273.0,1262.6 L1273.5,1262.6 L1274.0,1262.6 L1274.5,1262.6 L1275.0,1262.6 L1275.5,1262.6 L1276.0,1262.6 L1276.5,1262.6 L1277.0,1262.6 L1277.5,1262.6 L1278.0,1262.6 L1278.5,1262.6 L1279.0,1262.6 L1279.5,1262.6 L1280.0,1262.6 L1280.5,1262.5 L1281.0,1262.5 L1281.5,1262.5 L1282.0,1262.5 L1282.5,1262.5 L1283.0,1262.5 L1283.5,1262.5 L1284.0,1262.5 L1284.5,1262.5 L1285.0,1262.5 L1285.5,1262.5 L1286.0,1262.5 L1286.5,1262.5 L1287.0,1262.5 L1287.5,1262.5 L1288.0,1262.5 L1288.5,1262.5 L1289.0,1262.5 L1289.5,1262.5 L1290.0,1262.5 L1290.5,1262.5 L1291.0,1262.5 L1291.5,1262.5 L1292.0,1262.5 L1292.5,1262.5 L1293.0,1262.5 L1293.5,1262.5 L1294.0,1262.5 L1294.5,1262.5 L1295.0,1262.5 L1295.5,1262.5 L1296.0,1262.5 L1296.5,1262.5 L1297.0,1262.4 L1297.5,1262.4 L1298.0,1262.4 L1298.5,1262.4 L1299.0,1262.4 L1299.5,1262.4 L1300.0,1262.4 L1300.5,1262.4 L1301.0,1262.4 L1301.5,1262.4 L1302.0,1262.4 L1302.5,1262.4 L1303.0,1262.4 L1303.5,1262.4 L1304.0,1262.4 L1304.5,1262.4 L1305.0,1262.4 L1305.5,1262.3 L1306.0,1262.3 L1306.5,1262.3 L1307.0,1262.3 L1307.5,1262.3 L1308.0,1262.3 L1308.5,1262.3 L1309.0,1262.3 L1309.5,1262.3 L1310.0,1262.3 L1310.5,1262.3 L1311.0,1262.3 L1311.5,1262.2 L1312.0,1262.2 L1312.5,1262.2 L1313.0,1262.2 L1313.5,1262.2 L1314.0,1262.2 L1314.5,1262.2 L1315.0,1262.2 L1315.5,1262.2 L1316.0,1262.1 L1316.5,1262.1 L1317.0,1262.1 L1317.5,1262.1 L1318.0,1262.1 L1318.5,1262.1 L1319.0,1262.1 L1319.5,1262.0 L1320.0,1262.0 L1320.5,1262.0 L1321.0,1262.0 L1321.5,1262.0 L1322.0,1262.0 L1322.5,1261.9 L1323.0,1261.9 L1323.5,1261.9 L1324.0,1261.9 L1324.5,1261.9 L1325.0,1261.9 L1325.5,1261.8 L1326.0,1261.8 L1326.5,1261.8 L1327.0,1261.8 L1327.5,1261.8 L1328.0,1261.7 L1328.5,1261.7 L1329.0,1261.7 L1329.5,1261.7 L1330.0,1261.6 L1330.5,1261.6 L1331.0,1261.6 L1331.5,1261.6 L1332.0,1261.6 L1332.5,1261.5 L1333.0,1261.5 L1333.5,1261.5 L1334.0,1261.4 L1334.5,1261.4 L1335.0,1261.4 L1335.5,1261.4 L1336.0,1261.3 L1336.5,1261.3 L1337.0,1261.3 L1337.5,1261.2 L1338.0,1261.2 L1338.5,1261.2 L1339.0,1261.1 L1339.5,1261.1 L1340.0,1261.1 L1340.5,1261.0 L1341.0,1261.0 L1341.5,1261.0 L1342.0,1260.9 L1342.5,1260.9 L1343.0,1260.9 L1343.5,1260.8 L1344.0,1260.8 L1344.5,1260.8 L1345.0,1260.7 L1345.5,1260.7 L1346.0,1260.6 L1346.5,1260.6 L1347.0,1260.6 L1347.5,1260.5 L1348.0,1260.5 L1348.5,1260.4 L1349.0,1260.4 L1349.5,1260.3 L1350.0,1260.3 L1350.5,1260.2 L1351.0,1260.2 L1351.5,1260.1 L1352.0,1260.1 L1352.5,1260.1 L1353.0,1260.0 L1353.5,1260.0 L1354.0,1259.9 L1354.5,1259.8 L1355.0,1259.8 L1355.5,1259.7 L1356.0,1259.7 L1356.5,1259.6 L1357.0,1259.6 L1357.5,1259.5 L1358.0,1259.5 L1358.5,1259.4 L1359.0,1259.3 L1359.5,1259.3 L1360.0,1259.2 L1360.5,1259.2 L1361.0,1259.1 L1361.5,1259.0 L1362.0,1259.0 L1362.5,1258.9 L1363.0,1258.9 L1363.5,1258.8 L1364.0,1258.7 L1364.5,1258.7 L1365.0,1258.6 L1365.5,1258.5 L1366.0,1258.5 L1366.5,1258.4 L1367.0,1258.3 L1367.5,1258.3 L1368.0,1258.2 L1368.5,1258.1 L1369.0,1258.0 L1369.5,1258.0 L1370.0,1257.9 L1370.5,1257.8 L1371.0,1257.7 L1371.5,1257.7 L1372.0,1257.6 L1372.5,1257.5 L1373.0,1257.4 L1373.5,1257.4 L1374.0,1257.3 L1374.5,1257.2 L1375.0,1257.1 L1375.5,1257.0 L1376.0,1257.0 L1376.5,1256.9 L1377.0,1256.8 L1377.5,1256.7 L1378.0,1256.6 L1378.5,1256.6 L1379.0,1256.5 L1379.5,1256.4 L1380.0,1256.3 L1380.5,1256.2 L1381.0,1256.1 L1381.5,1256.0 L1382.0,1256.0 L1382.5,1255.9 L1383.0,1255.8 L1383.5,1255.7 L1384.0,1255.6 L1384.5,1255.5 L1385.0,1255.4 L1385.5,1255.3 L1386.0,1255.3 L1386.5,1255.2 L1387.0,1255.1 L1387.5,1255.0 L1388.0,1254.9 L1388.5,1254.8 L1389.0,1254.7 L1389.5,1254.6 L1390.0,1254.5 L1390.5,1254.4 L1391.0,1254.4 L1391.5,1254.3 L1392.0,1254.2 L1392.5,1254.1 L1393.0,1254.0 L1393.5,1253.9 L1394.0,1253.8 L1394.5,1253.7 L1395.0,1253.6 L1395.5,1253.5 L1396.0,1253.4 L1396.5,1253.3 L1397.0,1253.3 L1397.5,1253.2 L1398.0,1253.1 L1398.5,1253.0 L1399.0,1252.9 L1399.5,1252.8 L1400.0,1252.7 L1400.5,1252.6 L1401.0,1252.5 L1401.5,1252.4 L1402.0,1252.4 L1402.5,1252.3 L1403.0,1252.2 L1403.5,1252.1 L1404.0,1252.0 L1404.5,1251.9 L1405.0,1251.8 L1405.5,1251.7 L1406.0,1251.7 L1406.5,1251.6 L1407.0,1251.5 L1407.5,1251.4 L1408.0,1251.3 L1408.5,1251.2 L1409.0,1251.2 L1409.5,1251.1 L1410.0,1251.0 L1410.5,1250.9 L1411.0,1250.8 L1411.5,1250.8 L1412.0,1250.7 L1412.5,1250.6 L1413.0,1250.5 L1413.5,1250.4 L1414.0,1250.4 L1414.5,1250.3 L1415.0,1250.2 L1415.5,1250.1 L1416.0,1250.1 L1416.5,1250.0 L1417.0,1249.9 L1417.5,1249.9 L1418.0,1249.8 L1418.5,1249.7 L1419.0,1249.7 L1419.5,1249.6 L1420.0,1249.5 L1420.5,1249.5 L1421.0,1249.4 L1421.5,1249.4 L1422.0,1249.3 L1422.5,1249.2 L1423.0,1249.2 L1423.5,1249.1 L1424.0,1249.1 L1424.5,1249.0 L1425.0,1249.0 L1425.5,1248.9 L1426.0,1248.9 L1426.5,1248.8 L1427.0,1248.8 L1427.5,1248.7 L1428.0,1248.7 L1428.5,1248.7 L1429.0,1248.6 L1429.5,1248.6 L1430.0,1248.5 L1430.5,1248.5 L1431.0,1248.5 L1431.5,1248.4 L1432.0,1248.4 L1432.5,1248.4 L1433.0,1248.4 L1433.5,1248.3 L1434.0,1248.3 L1434.5,1248.3 L1435.0,1248.3 L1435.5,1248.2 L1436.0,1248.2 L1436.5,1248.2 L1437.0,1248.2 L1437.5,1248.2 L1438.0,1248.2 L1438.5,1248.1 L1439.0,1248.1 L1439.5,1248.1 L1440.0,1248.1 L1440.5,1248.1 L1441.0,1248.1 L1441.5,1248.1 L1442.0,1248.1 L1442.5,1248.1 L1443.0,1248.1 L1443.5,1248.1 L1444.0,1248.1 L1444.5,1248.1 L1445.0,1248.1 L1445.5,1248.1 L1446.0,1248.1 L1446.5,1248.1 L1447.0,1248.2 L1447.5,1248.2 L1448.0,1248.2 L1448.5,1248.2 L1449.0,1248.2 L1449.5,1248.2 L1450.0,1248.2 L1450.5,1248.3 L1451.0,1248.3 L1451.5,1248.3 L1452.0,1248.3 L1452.5,1248.3 L1453.0,1248.4 L1453.5,1248.4 L1454.0,1248.4 L1454.5,1248.4 L1455.0,1248.5 L1455.5,1248.5 L1456.0,1248.5 L1456.5,1248.5 L1457.0,1248.6 L1457.5,1248.6 L1458.0,1248.6 L1458.5,1248.7 L1459.0,1248.7 L1459.5,1248.7 L1460.0,1248.8 L1460.5,1248.8 L1461.0,1248.9 L1461.5,1248.9 L1462.0,1248.9 L1462.5,1249.0 L1463.0,1249.0 L1463.5,1249.1 L1464.0,1249.1 L1464.5,1249.2 L1465.0,1249.2 L1465.5,1249.2 L1466.0,1249.3 L1466.5,1249.3 L1467.0,1249.4 L1467.5,1249.4 L1468.0,1249.5 L1468.5,1249.5 L1469.0,1249.6 L1469.5,1249.6 L1470.0,1249.7 L1470.5,1249.7 L1471.0,1249.8 L1471.5,1249.9 L1472.0,1249.9 L1472.5,1250.0 L1473.0,1250.0 L1473.5,1250.1 L1474.0,1250.1 L1474.5,1250.2 L1475.0,1250.3 L1475.5,1250.3 L1476.0,1250.4 L1476.5,1250.5 L1477.0,1250.5 L1477.5,1250.6 L1478.0,1250.6 L1478.5,1250.7 L1479.0,1250.8 L1479.5,1250.8 L1480.0,1250.9 L1480.5,1251.0 L1481.0,1251.0 L1481.5,1251.1 L1482.0,1251.2 L1482.5,1251.2 L1483.0,1251.3 L1483.5,1251.4 L1484.0,1251.4 L1484.5,1251.5 L1485.0,1251.6 L1485.5,1251.7 L1486.0,1251.7 L1486.5,1251.8 L1487.0,1251.9 L1487.5,1251.9 L1488.0,1252.0 L1488.5,1252.1 L1489.0,1252.2 L1489.5,1252.2 L1490.0,1252.3 L1490.5,1252.4 L1491.0,1252.5 L1491.5,1252.5 L1492.0,1252.6 L1492.5,1252.7 L1493.0,1252.7 L1493.5,1252.8 L1494.0,1252.9 L1494.5,1253.0 L1495.0,1253.0 L1495.5,1253.1 L1496.0,1253.2 L1496.5,1253.3 L1497.0,1253.4 L1497.5,1253.4 L1498.0,1253.5 L1498.5,1253.6 L1499.0,1253.7 L1499.5,1253.7 L1500.0,1253.8 L1500.5,1253.9 L1501.0,1254.0 L1501.5,1254.0 L1502.0,1254.1 L1502.5,1254.2 L1503.0,1254.3 L1503.5,1254.3 L1504.0,1254.4 L1504.5,1254.5 L1505.0,1254.6 L1505.5,1254.6 L1506.0,1254.7 L1506.5,1254.8 L1507.0,1254.9 L1507.5,1254.9 L1508.0,1255.0 L1508.5,1255.1 L1509.0,1255.2 L1509.5,1255.2 L1510.0,1255.3 L1510.5,1255.4 L1511.0,1255.5 L1511.5,1255.5 L1512.0,1255.6 L1512.5,1255.7 L1513.0,1255.7 L1513.5,1255.8 L1514.0,1255.9 L1514.5,1256.0 L1515.0,1256.0 L1515.5,1256.1 L1516.0,1256.2 L1516.5,1256.2 L1517.0,1256.3 L1517.5,1256.4 L1518.0,1256.5 L1518.5,1256.5 L1519.0,1256.6 L1519.5,1256.7 L1520.0,1256.7 L1520.5,1256.8 L1521.0,1256.9 L1521.5,1256.9 L1522.0,1257.0 L1522.5,1257.1 L1523.0,1257.1 L1523.5,1257.2 L1524.0,1257.3 L1524.5,1257.3 L1525.0,1257.4 L1525.5,1257.5 L1526.0,1257.5 L1526.5,1257.6 L1527.0,1257.6 L1527.5,1257.7 L1528.0,1257.8 L1528.5,1257.8 L1529.0,1257.9 L1529.5,1258.0 L1530.0,1258.0 L1530.5,1258.1 L1531.0,1258.1 L1531.5,1258.2 L1532.0,1258.2 L1532.5,1258.3 L1533.0,1258.4 L1533.5,1258.4 L1534.0,1258.5 L1534.5,1258.5 L1535.0,1258.6 L1535.5,1258.6 L1536.0,1258.7 L1536.5,1258.8 L1537.0,1258.8 L1537.5,1258.9 L1538.0,1258.9 L1538.5,1259.0 L1539.0,1259.0 L1539.5,1259.1 L1540.0,1259.1 L1540.5,1259.2 L1541.0,1259.2 L1541.5,1259.3 L1542.0,1259.3 L1542.5,1259.4 L1543.0,1259.4 L1543.5,1259.5 L1544.0,1259.5 L1544.5,1259.6 L1545.0,1259.6 L1545.5,1259.6 L1546.0,1259.7 L1546.5,1259.7 L1547.0,1259.8 L1547.5,1259.8 L1548.0,1259.9 L1548.5,1259.9 L1549.0,1260.0 L1549.5,1260.0 L1550.0,1260.0 L1550.5,1260.1 L1551.0,1260.1 L1551.5,1260.2 L1552.0,1260.2 L1552.5,1260.2 L1553.0,1260.3 L1553.5,1260.3 L1554.0,1260.4 L1554.5,1260.4 L1555.0,1260.4 L1555.5,1260.5 L1556.0,1260.5 L1556.5,1260.5 L1557.0,1260.6 L1557.5,1260.6 L1558.0,1260.6 L1558.5,1260.7 L1559.0,1260.7 L1559.5,1260.7 L1560.0,1260.8 L1560.5,1260.8 L1561.0,1260.8 L1561.5,1260.9 L1562.0,1260.9 L1562.5,1260.9 L1563.0,1261.0 L1563.5,1261.0 L1564.0,1261.0 L1564.5,1261.0 L1565.0,1261.1 L1565.5,1261.1 L1566.0,1261.1 L1566.5,1261.2 L1567.0,1261.2 L1567.5,1261.2 L1568.0,1261.2 L1568.5,1261.3 L1569.0,1261.3 L1569.5,1261.3 L1570.0,1261.3 L1570.5,1261.4 L1571.0,1261.4 L1571.5,1261.4 L1572.0,1261.4 L1572.5,1261.4 L1573.0,1261.5 L1573.5,1261.5 L1574.0,1261.5 L1574.5,1261.5 L1575.0,1261.6 L1575.5,1261.6 L1576.0,1261.6 L1576.5,1261.6 L1577.0,1261.6 L1577.5,1261.7 L1578.0,1261.7 L1578.5,1261.7 L1579.0,1261.7 L1579.5,1261.7 L1580.0,1261.7 L1580.5,1261.8 L1581.0,1261.8 L1581.5,1261.8 L1582.0,1261.8 L1582.5,1261.8 L1583.0,1261.8 L1583.5,1261.9 L1584.0,1261.9 L1584.5,1261.9 L1585.0,1261.9 L1585.5,1261.9 L1586.0,1261.9 L1586.5,1261.9 L1587.0,1262.0 L1587.5,1262.0 L1588.0,1262.0 L1588.5,1262.0 L1589.0,1262.0 L1589.5,1262.0 L1590.0,1262.0 L1590.5,1262.1 L1591.0,1262.1 L1591.5,1262.1 L1592.0,1262.1 L1592.5,1262.1 L1593.0,1262.1 L1593.5,1262.1 L1594.0,1262.1 L1594.5,1262.1 L1595.0,1262.2 L1595.5,1262.2 L1596.0,1262.2 L1596.5,1262.2 L1597.0,1262.2 L1597.5,1262.2 L1598.0,1262.2 L1598.5,1262.2 L1599.0,1262.2 L1599.5,1262.2 L1600.0,1262.2 L1600.5,1262.3 L1601.0,1262.3 L1601.5,1262.3 L1602.0,1262.3 L1602.5,1262.3 L1603.0,1262.3 L1603.5,1262.3 L1604.0,1262.3 L1604.5,1262.3 L1605.0,1262.3 L1605.5,1262.3 L1606.0,1262.3 L1606.5,1262.3 L1607.0,1262.3 L1607.5,1262.4 L1608.0,1262.4 L1608.5,1262.4 L1609.0,1262.4 L1609.5,1262.4 L1610.0,1262.4 L1610.5,1262.4 L1611.0,1262.4 L1611.5,1262.4 L1612.0,1262.4 L1612.5,1262.4 L1613.0,1262.4 L1613.5,1262.4 L1614.0,1262.4 L1614.5,1262.4 L1615.0,1262.4 L1615.5,1262.4 L1616.0,1262.4 L1616.5,1262.4 L1617.0,1262.4 L1617.5,1262.5 L1618.0,1262.5 L1618.5,1262.5 L1619.0,1262.5 L1619.5,1262.5 L1620.0,1262.5 L1620.5,1262.5 L1621.0,1262.5 L1621.5,1262.5 L1622.0,1262.5 L1622.5,1262.5 L1623.0,1262.5 L1623.5,1262.5 L1624.0,1262.5 L1624.5,1262.5 L1625.0,1262.5 L1625.5,1262.5 L1626.0,1262.5 L1626.5,1262.5 L1627.0,1262.5 L1627.5,1262.5 L1628.0,1262.5 L1628.5,1262.5 L1629.0,1262.5 L1629.5,1262.5 L1630.0,1262.5 L1630.5,1262.5 L1631.0,1262.5 L1631.5,1262.5 L1632.0,1262.5 L1632.5,1262.5 L1633.0,1262.5 L1633.5,1262.5 L1634.0,1262.5 L1634.5,1262.5 L1635.0,1262.5 L1635.5,1262.5 L1636.0,1262.5 L1636.5,1262.5 L1637.0,1262.5 L1637.5,1262.6 L1638.0,1262.6 L1638.5,1262.6 L1639.0,1262.6 L1639.5,1262.6 L1640.0,1262.6 L1640.5,1262.6 L1641.0,1262.6 L1641.5,1262.6 L1642.0,1262.6 L1642.5,1262.6 L1643.0,1262.6 L1643.5,1262.6 L1644.0,1262.6 L1644.5,1262.6 L1645.0,1262.6 L1645.5,1262.6 L1646.0,1262.6 L1646.5,1262.6 L1647.0,1262.6 L1647.5,1262.6 L1648.0,1262.6 L1648.5,1262.6 L1649.0,1262.6 L1649.5,1262.6 L1650.0,1262.6 L1650.5,1262.6 L1651.0,1262.6 L1651.5,1262.6 L1652.0,1262.6 L1652.5,1262.6 L1653.0,1262.6 L1653.5,1262.6 L1654.0,1262.6 L1654.5,1262.6 L1655.0,1262.6 L1655.5,1262.6 L1656.0,1262.6 L1656.5,1262.6 L1657.0,1262.6 L1657.5,1262.6 L1658.0,1262.6 L1658.5,1262.6 L1659.0,1262.6 L1659.5,1262.6 L1660.0,1262.6 L1660.5,1262.6 L1661.0,1262.6 L1661.5,1262.6 L1662.0,1262.6 L1662.5,1262.6 L1663.0,1262.6 L1663.5,1262.6 L1664.0,1262.6 L1664.5,1262.6 L1665.0,1262.6 L1665.5,1262.6 L1666.0,1262.6 L1666.5,1262.6 L1667.0,1262.6 L1667.5,1262.6 L1668.0,1262.6 L1668.5,1262.6 L1669.0,1262.6 L1669.5,1262.6 L1670.0,1262.6 L1670.5,1262.6 L1671.0,1262.6 L1671.5,1262.6 L1672.0,1262.6 L1672.5,1262.6 L1673.0,1262.6 L1673.5,1262.6 L1674.0,1262.6 L1674.5,1262.6 L1675.0,1262.6 L1675.5,1262.6 L1676.0,1262.6 L1676.5,1262.6 L1677.0,1262.6 L1677.5,1262.6 L1678.0,1262.6 L1678.5,1262.6 L1679.0,1262.6 L1679.5,1262.6 L1680.0,1262.6 L1680.5,1262.6 L1681.0,1262.6 L1681.5,1262.6 L1682.0,1262.6 L1682.5,1262.6 L1683.0,1262.6 L1683.5,1262.6 L1684.0,1262.6 L1684.5,1262.6 L1685.0,1262.6 L1685.5,1262.6 L1686.0,1262.6 L1686.5,1262.6 L1687.0,1262.6 L1687.5,1262.6 L1688.0,1262.6 L1688.5,1262.6 L1689.0,1262.6 L1689.5,1262.6 L1690.0,1262.6 L1690.5,1262.6 L1691.0,1262.6 L1691.5,1262.6 L1692.0,1262.6 L1692.5,1262.6 L1693.0,1262.6 L1693.5,1262.6 L1694.0,1262.6 L1694.5,1262.6 L1695.0,1262.6 L1695.5,1262.6 L1696.0,1262.6 L1696.5,1262.6 L1697.0,1262.6 L1697.5,1262.6 L1698.0,1262.6 L1698.5,1262.6 L1699.0,1262.6 L1699.5,1262.6 L1700.0,1262.6 L1700.5,1262.6 L1701.0,1262.6 L1701.5,1262.6 L1702.0,1262.6 L1702.5,1262.6 L1703.0,1262.6 L1703.5,1262.6 L1704.0,1262.6 L1704.5,1262.6 L1705.0,1262.6 L1705.5,1262.6 L1706.0,1262.6 L1706.5,1262.6 L1707.0,1262.6 L1707.5,1262.6 L1708.0,1262.6 L1708.5,1262.6 L1709.0,1262.6 L1709.5,1262.6 L1710.0,1262.6 L1710.5,1262.6 L1711.0,1262.6 L1711.5,1262.6 L1712.0,1262.6 L1712.5,1262.6 L1713.0,1262.6 L1713.5,1262.6 L1714.0,1262.6 L1714.5,1262.6 L1715.0,1262.6 L1715.5,1262.6 L1716.0,1262.6 L1716.5,1262.6 L1717.0,1262.6 L1717.5,1262.6 L1718.0,1262.6 L1718.5,1262.6 L1719.0,1262.6 L1719.5,1262.6 L1720.0,1262.6 L1720.5,1262.6 L1721.0,1262.6 L1721.5,1262.6 L1722.0,1262.6 L1722.5,1262.6 L1723.0,1262.6 L1723.5,1262.6 L1724.0,1262.6 L1724.5,1262.6 L1725.0,1262.6 L1725.5,1262.6 L1726.0,1262.6 L1726.5,1262.6 L1727.0,1262.6 L1727.5,1262.6 L1728.0,1262.6 L1728.5,1262.6 L1729.0,1262.6 L1729.5,1262.6 L1730.0,1262.6 L1730.5,1262.6 L1731.0,1262.6 L1731.5,1262.6 L1732.0,1262.6 L1732.5,1262.6 L1733.0,1262.6 L1733.5,1262.6 L1734.0,1262.6 L1734.5,1262.6 L1735.0,1262.6 L1735.5,1262.6 L1736.0,1262.6 L1736.5,1262.6 L1737.0,1262.6 L1737.5,1262.6 L1738.0,1262.6 L1738.5,1262.6 L1739.0,1262.6 L1739.5,1262.6 L1740.0,1262.6 L1740.5,1262.6 L1741.0,1262.6 L1741.5,1262.6 L1742.0,1262.6 L1742.5,1262.6 L1743.0,1262.6 L1743.5,1262.6 L1744.0,1262.6 L1744.5,1262.6 L1745.0,1262.6 L1745.5,1262.6 L1746.0,1262.6 L1746.5,1262.6 L1747.0,1262.6 L1747.5,1262.6 L1748.0,1262.6 L1748.5,1262.6 L1749.0,1262.6 L1749.5,1262.6 L1750.0,1262.6 L1750.5,1262.6 L1751.0,1262.6 L1751.5,1262.6 L1752.0,1262.6 L1752.5,1262.6 L1753.0,1262.6 L1753.5,1262.6 L1754.0,1262.6 L1754.5,1262.6 L1755.0,1262.6 L1755.5,1262.6 L1756.0,1262.6 L1756.5,1262.6 L1757.0,1262.6 L1757.5,1262.6 L1758.0,1262.6 L1758.5,1262.6 L1759.0,1262.6 L1759.5,1262.6 L1760.0,1262.6 L1760.5,1262.6 L1761.0,1262.6 L1761.5,1262.6 L1762.0,1262.6 L1762.5,1262.6 L1763.0,1262.6 L1763.5,1262.6 L1764.0,1262.6 L1764.5,1262.6 L1765.0,1262.6 L1765.5,1262.6 L1766.0,1262.6 L1766.5,1262.6 L1767.0,1262.6 L1767.5,1262.6 L1768.0,1262.6 L1768.5,1262.6 L1769.0,1262.6 L1769.5,1262.6 L1770.0,1262.6 L1770.5,1262.6 L1771.0,1262.6 L1771.5,1262.6 L1772.0,1262.6 L1772.5,1262.6 L1773.0,1262.6 L1773.5,1262.6 L1774.0,1262.6 L1774.5,1262.6 L1775.0,1262.6 L1775.5,1262.6 L1776.0,1262.6 L1776.5,1262.6 L1777.0,1262.6 L1777.5,1262.6 L1778.0,1262.6 L1778.5,1262.6 L1779.0,1262.6 L1779.5,1262.6 L1780.0,1262.6 L1780.5,1262.6 L1781.0,1262.6 L1781.5,1262.6 L1782.0,1262.6 L1782.5,1262.6 L1783.0,1262.6 L1783.5,1262.6 L1784.0,1262.6 L1784.5,1262.6 L1785.0,1262.6 L1785.5,1262.6 L1786.0,1262.6 L1786.5,1262.6 L1787.0,1262.6 L1787.5,1262.6 L1788.0,1262.6 L1788.5,1262.6 L1789.0,1262.6 L1789.5,1262.6 L1790.0,1262.6 L1790.5,1262.6 L1791.0,1262.6 L1791.5,1262.6 L1792.0,1262.6 L1792.5,1262.6 L1793.0,1262.6 L1793.5,1262.6 L1794.0,1262.6 L1794.5,1262.6 L1795.0,1262.6 L1795.5,1262.6 L1796.0,1262.6 L1796.5,1262.6 L1797.0,1262.6 L1797.5,1262.6 L1798.0,1262.6 L1798.5,1262.6 L1799.0,1262.6 L1799.5,1262.6 L1800.0,1262.6 L1800.5,1262.6 L1801.0,1262.6 L1801.5,1262.6 L1802.0,1262.6 L1802.5,1262.6 L1803.0,1262.6 L1803.5,1262.6 L1804.0,1262.6 L1804.5,1262.6 L1805.0,1262.6 L1805.5,1262.6 L1806.0,1262.6 L1806.5,1262.6 L1807.0,1262.6 L1807.5,1262.6 L1808.0,1262.6 L1808.5,1262.6 L1809.0,1262.6 L1809.5,1262.6 L1810.0,1262.6 L1810.5,1262.6 L1811.0,1262.6 L1811.5,1262.6 L1812.0,1262.6 L1812.5,1262.6 L1813.0,1262.6 L1813.5,1262.6 L1814.0,1262.6 L1814.5,1262.6 L1815.0,1262.6 L1815.5,1262.6 L1816.0,1262.6 L1816.5,1262.6 L1817.0,1262.6 L1817.5,1262.6 L1818.0,1262.6 L1818.5,1262.6 L1819.0,1262.6 L1819.5,1262.6 L1820.0,1262.6 L1820.5,1262.6 L1821.0,1262.6 L1821.5,1262.6 L1822.0,1262.6 L1822.5,1262.6 L1823.0,1262.6 L1823.5,1262.6 L1824.0,1262.6 L1824.5,1262.6 L1825.0,1262.6 L1825.5,1262.6 L1826.0,1262.6 L1826.5,1262.6 L1827.0,1262.6 L1827.5,1262.6 L1828.0,1262.6 L1828.5,1262.6 L1829.0,1262.6 L1829.5,1262.6 L1830.0,1262.6 L1830.5,1262.6 L1831.0,1262.6 L1831.5,1262.6 L1832.0,1262.6 L1832.5,1262.6 L1833.0,1262.6 L1833.5,1262.6 L1834.0,1262.6 L1834.5,1262.6 L1835.0,1262.6 L1835.5,1262.6 L1836.0,1262.6 L1836.5,1262.6 L1837.0,1262.6 L1837.5,1262.6 L1838.0,1262.6 L1838.5,1262.6 L1839.0,1262.6 L1839.5,1262.6 L1840.0,1262.6 L1840.5,1262.6 L1841.0,1262.6 L1841.5,1262.6 L1842.0,1262.6 L1842.5,1262.6 L1843.0,1262.6 L1843.5,1262.6 L1844.0,1262.6 L1844.5,1262.6 L1845.0,1262.6 L1845.5,1262.6 L1846.0,1262.6 L1846.5,1262.6 L1847.0,1262.6 L1847.5,1262.6 L1848.0,1262.6 L1848.5,1262.6 L1849.0,1262.6 L1849.5,1262.6 L1850.0,1262.6 L1850.5,1262.6 L1851.0,1262.6 L1851.5,1262.6 L1852.0,1262.6 L1852.5,1262.6 L1853.0,1262.6 L1853.5,1262.6 L1854.0,1262.6 L1854.5,1262.6 L1855.0,1262.6 L1855.5,1262.6 L1856.0,1262.6 L1856.5,1262.6 L1857.0,1262.6 L1857.5,1262.6 L1858.0,1262.6 L1858.5,1262.6 L1859.0,1262.6 L1859.5,1262.6 L1860.0,1262.6 L1860.5,1262.6 L1861.0,1262.6 L1861.5,1262.6 L1862.0,1262.6 L1862.5,1262.6 L1863.0,1262.6 L1863.5,1262.6 L1864.0,1262.6 L1864.5,1262.6 L1865.0,1262.6 L1865.5,1262.6 L1866.0,1262.6 L1866.5,1262.6 L1867.0,1262.6 L1867.5,1262.6 L1868.0,1262.6 L1868.5,1262.6 L1869.0,1262.6 L1869.5,1262.6 L1870.0,1262.6 L1870.5,1262.6 L1871.0,1262.6 L1871.5,1262.6 L1872.0,1262.6 L1872.5,1262.6 L1873.0,1262.6 L1873.5,1262.6 L1874.0,1262.6 L1874.5,1262.6 L1875.0,1262.6 L1875.5,1262.6 L1876.0,1262.6 L1876.5,1262.6 L1877.0,1262.6 L1877.5,1262.6 L1878.0,1262.6 L1878.5,1262.6 L1879.0,1262.6 L1879.5,1262.6 L1880.0,1262.6 L1880.5,1262.6 L1881.0,1262.6 L1881.5,1262.6 L1882.0,1262.6 L1882.5,1262.6 L1883.0,1262.6 L1883.5,1262.6 L1884.0,1262.6 L1884.5,1262.6 L1885.0,1262.6 L1885.5,1262.6 L1886.0,1262.6 L1886.5,1262.6 L1887.0,1262.6 L1887.5,1262.6 L1888.0,1262.6 L1888.5,1262.6 L1889.0,1262.6 L1889.5,1262.6 L1890.0,1262.6 L1890.5,1262.6 L1891.0,1262.6 L1891.5,1262.6 L1892.0,1262.6 L1892.5,1262.6 L1893.0,1262.6 L1893.5,1262.6 L1894.0,1262.6 L1894.5,1262.6 L1895.0,1262.6 L1895.5,1262.6 L1896.0,1262.6 L1896.5,1262.6 L1897.0,1262.6 L1897.5,1262.6 L1898.0,1262.6 L1898.5,1262.6 L1899.0,1262.6 L1899.5,1262.6 L1900.0,1262.6 L1900.5,1262.6 L1901.0,1262.6 L1901.5,1262.6 L1902.0,1262.6 L1902.5,1262.6 L1903.0,1262.6 L1903.5,1262.6 L1904.0,1262.6 L1904.5,1262.6 L1905.0,1262.6 L1905.5,1262.6 L1906.0,1262.6 L1906.5,1262.6 L1907.0,1262.6 L1907.5,1262.6 L1908.0,1262.6 L1908.5,1262.6 L1909.0,1262.6 L1909.5,1262.6 L1910.0,1262.6 L1910.5,1262.6 L1911.0,1262.6 L1911.5,1262.6 L1912.0,1262.6 L1912.5,1262.6 L1913.0,1262.6 L1913.5,1262.6 L1914.0,1262.6 L1914.5,1262.6 L1915.0,1262.6 L1915.5,1262.6 L1916.0,1262.6 L1916.5,1262.6 L1917.0,1262.6 L1917.5,1262.6 L1918.0,1262.6 L1918.5,1262.6 L1919.0,1262.6 L1919.5,1262.6 L1920.0,1262.6 L1920.5,1262.6 L1921.0,1262.6 L1921.5,1262.6 L1922.0,1262.6 L1922.5,1262.6 L1923.0,1262.6 L1923.5,1262.6 L1924.0,1262.6 L1924.5,1262.6 L1925.0,1262.6 L1925.5,1262.6 L1926.0,1262.6 L1926.5,1262.6 L1927.0,1262.6 L1927.5,1262.6 L1928.0,1262.6 L1928.5,1262.6 L1929.0,1262.6 L1929.5,1262.6 L1930.0,1262.6 L1930.5,1262.6 L1931.0,1262.6 L1931.5,1262.6 L1932.0,1262.6 L1932.5,1262.6 L1933.0,1262.6 L1933.5,1262.6 L1934.0,1262.6 L1934.5,1262.6 L1935.0,1262.6 L1935.5,1262.6 L1936.0,1262.6 L1936.5,1262.6 L1937.0,1262.6 L1937.5,1262.6 L1938.0,1262.6 L1938.5,1262.6 L1939.0,1262.6 L1939.5,1262.6 L1940.0,1262.6 L1940.5,1262.6 L1941.0,1262.6 L1941.5,1262.6 L1942.0,1262.6 L1942.5,1262.6 L1943.0,1262.6 L1943.5,1262.6 L1944.0,1262.6 L1944.5,1262.6 L1945.0,1262.6 L1945.5,1262.6 L1946.0,1262.6 L1946.5,1262.6 L1947.0,1262.6 L1947.5,1262.6 L1948.0,1262.6 L1948.5,1262.6 L1949.0,1262.6 L1949.5,1262.6 L1950.0,1262.6 L1950.5,1262.6 L1951.0,1262.6 L1951.5,1262.6 L1952.0,1262.6 L1952.5,1262.6 L1953.0,1262.6 L1953.5,1262.6 L1954.0,1262.6 L1954.5,1262.6 L1955.0,1262.6 L1955.5,1262.6" stroke="#00f" stroke-width="6.4"/>
<path d="M327.0,1262.2 L328.0,1262.2 L329.0,1262.2 L330.0,1262.2 L331.0,1262.2 L332.0,1262.2 L333.0,1262.2 L334.0,1262.2 L335.0,1262.2 L336.0,1262.2 L337.0,1262.2 L338.0,1262.2 L339.0,1262.2 L340.0,1262.2 L341.0,1262.2 L342.0,1262.2 L343.0,1262.2 L344.0,1262.2 L345.0,1262.2 L346.0,1262.2 L347.0,1262.2 L348.0,1262.2 L349.0,1262.2 L350.0,1262.2 L351.0,1262.2 L352.0,1262.2 L353.0,1262.2 L354.0,1262.2 L355.0,1262.2 L356.0,1262.2 L357.0,1262.2 L358.0,1262.2 L359.0,1262.2 L360.0,1262.2 L361.0,1262.2 L362.0,1262.2 L363.0,1262.2 L364.0,1262.2 L365.0,1262.2 L366.0,1262.2 L367.0,1262.2 L368.0,1262.2 L369.0,1262.2 L370.0,1262.2 L371.0,1262.2 L372.0,1262.2 L373.0,1262.2 L374.0,1262.2 L375.0,1262.2 L376.0,1262.2 L377.0,1262.2 L378.0,1262.2 L379.0,1262.2 L380.0,1262.2 L381.0,1262.2 L382.0,1262.2 L383.0,1262.2 L384.0,1262.2 L385.0,1262.2 L386.0,1262.2 L387.0,1262.2 L388.0,1262.2 L389.0,1262.2 L390.0,1262.2 L391.0,1262.2 L392.0,1262.2 L393.0,1262.2 L394.0,1262.2 L395.0,1262.2 L396.0,1262.2 L397.0,1262.2 L398.0,1262.2 L399.0,1262.2 L400.0,1262.2 L401.0,1262.2 L402.0,1262.2 L403.0,1262.2 L404.0,1262.2 L405.0,1262.2 L406.0,1262.2 L407.0,1262.2 L408.0,1262.2 L409.0,1262.2 L410.0,1262.2 L411.0,1262.2 L412.0,1262.2 L413.0,1262.2 L414.0,1262.2 L415.0,1262.2 L416.0,1262.2 L417.0,1262.2 L418.0,1262.2 L419.0,1262.2 L420.0,1262.2 L421.0,1262.2 L422.0,1262.2 L423.0,1262.2 L424.0,1262.2 L425.0,1262.2 L426.0,1262.2 L427.0,1262.2 L428.0,1262.2 L429.0,1262.2 L430.0,1262.2 L431.0,1262.2 L432.0,1262.2 L433.0,1262.2 L434.0,1262.2 L435.0,1262.2 L436.0,1262.2 L437.0,1262.2 L438.0,1262.2 L439.0,1262.2 L440.0,1262.2 L441.0,1262.2 L442.0,1262.2 L443.0,1262.2 L444.0,1262.2 L445.0,1262.2 L446.0,1262.2 L447.0,1262.2 L448.0,1262.2 L449.0,1262.2 L450.0,1262.2 L451.0,1262.2 L452.0,1262.2 L453.0,1262.2 L454.0,1262.2 L455.0,1262.2 L456.0,1262.2 L457.0,1262.2 L458.0,1262.2 L459.0,1262.2 L460.0,1262.2 L461.0,1262.2 L462.0,1262.2 L463.0,1262.2 L464.0,1262.2 L465.0,1262.2 L466.0,1262.2 L467.0,1262.2 L468.0,1262.2 L469.0,1262.2 L470.0,1262.2 L471.0,1262.2 L472.0,1262.2 L473.0,1262.2 L474.0,1262.2 L475.0,1262.2 L476.0,1262.2 L477.0,1262.2 L478.0,1262.2 L479.0,1262.2 L480.0,1262.2 L481.0,1262.2 L482.0,1262.2 L483.0,1262.2 L484.0,1262.2 L485.0,1262.2 L486.0,1262.2 L487.0,1262.2 L488.0,1262.2 L489.0,1262.2 L490.0,1262.2 L491.0,1262.2 L492.0,1262.2 L493.0,1262.2 L494.0,1262.2 L495.0,1262.2 L496.0,1262.2 L497.0,1262.2 L498.0,1262.2 L499.0,1262.2 L500.0,1262.2 L501.0,1262.2 L502.0,1262.2 L503.0,1262.2 L504.0,1262.2 L505.0,1262.2 L506.0,1262.2 L507.0,1262.2 L508.0,1262.2 L509.0,1262.2 L510.0,1262.2 L511.0,1262.2 L512.0,1262.2 L513.0,1262.2 L514.0,1262.2 L515.0,1262.2 L516.0,1262.2 L517.0,1262.2 L518.0,1262.2 L519.0,1262.2 L520.0,1262.2 L521.0,1262.2 L522.0,1262.2 L523.0,1262.2 L524.0,1262.2 L525.0,1262.2 L526.0,1262.2 L527.0,1262.2 L528.0,1262.2 L529.0,1262.2 L530.0,1262.2 L531.0,1262.2 L532.0,1262.2 L533.0,1262.2 L534.0,1262.2 L535.0,1262.2 L536.0,1262.2 L537.0,1262.2 L538.0,1262.2 L539.0,1262.2 L540.0,1262.2 L541.0,1262.2 L542.0,1262.2 L543.0,1262.2 L544.0,1262.2 L545.0,1262.2 L546.0,1262.2 L547.0,1262.2 L548.0,1262.2 L549.0,1262.2 L550.0,1262.2 L551.0,1262.2 L552.0,1262.2 L553.0,1262.2 L554.0,1262.2 L555.0,1262.2 L556.0,1262.2 L557.0,1262.2 L558.0,1262.2 L559.0,1262.2 L560.0,1262.2 L561.0,1262.2 L562.0,1262.2 L563.0,1262.2 L564.0,1262.2 L565.0,1262.2 L566.0,1262.2 L567.0,1262.2 L568.0,1262.2 L569.0,1262.2 L570.0,1262.2 L571.0,1262.2 L572.0,1262.2 L573.0,1262.2 L574.0,1262.2 L575.0,1262.2 L576.0,1262.2 L577.0,1262.2 L578.0,1262.2 L579.0,1262.2 L580.0,1262.2 L581.0,1262.2 L582.0,1262.2 L583.0,1262.2 L584.0,1262.2 L585.0,1262.2 L586.0,1262.2 L587.0,1262.2 L588.0,1262.2 L589.0,1262.2 L590.0,1262.2 L591.0,1262.2 L592.0,1262.2 L593.0,1262.2 L594.0,1262.2 L595.0,1262.2 L596.0,1262.2 L597.0,1262.2 L598.0,1262.2 L599.0,1262.2 L600.0,1262.2 L601.0,1262.2 L602.0,1262.2 L603.0,1262.2 L604.0,1262.2 L605.0,1262.2 L606.0,1262.2 L607.0,1262.2 L608.0,1262.2 L609.0,1262.2 L610.0,1262.2 L611.0,1262.2 L612.0,1262.2 L613.0,1262.2 L614.0,1262.2 L615.0,1262.2 L616.0,1262.2 L617.0,1262.2 L618.0,1262.2 L619.0,1262.2 L620.0,1262.2 L621.0,1262.2 L622.0,1262.2 L623.0,1262.2 L624.0,1262.2 L625.0,1262.2 L626.0,1262.2 L627.0,1262.2 L628.0,1262.2 L629.0,1262.2 L630.0,1262.2 L631.0,1262.2 L632.0,1262.2 L633.0,1262.2 L634.0,1262.2 L635.0,1262.2 L636.0,1262.2 L637.0,1262.2 L638.0,1262.2 L639.0,1262.2 L640.0,1262.2 L641.0,1262.2 L642.0,1262.2 L643.0,1262.2 L644.0,1262.2 L645.0,1262.2 L646.0,1262.2 L647.0,1262.2 L648.0,1262.2 L649.0,1262.2 L650.0,1262.2 L651.0,1262.2 L652.0,1262.2 L653.0,1262.2 L654.0,1262.2 L655.0,1262.2 L656.0,1262.2 L657.0,1262.2 L658.0,1262.2 L659.0,1262.2 L660.0,1262.2 L661.0,1262.2 L662.0,1262.2 L663.0,1262.2 L664.0,1262.2 L665.0,1262.2 L666.0,1262.2 L667.0,1262.2 L668.0,1262.2 L669.0,1262.2 L670.0,1262.2 L671.0,1262.2 L672.0,1262.2 L673.0,1262.2 L674.0,1262.2 L675.0,1262.2 L676.0,1262.2 L677.0,1262.2 L678.0,1262.2 L679.0,1262.2 L680.0,1262.2 L681.0,1262.2 L682.0,1262.2 L683.0,1262.2 L684.0,1262.2 L685.0,1262.2 L686.0,1262.2 L687.0,1262.2 L688.0,1262.2 L689.0,1262.2 L690.0,1262.2 L691.0,1262.2 L692.0,1262.2 L693.0,1262.2 L694.0,1262.2 L695.0,1262.2 L696.0,1262.2 L697.0,1262.2 L698.0,1262.2 L699.0,1262.2 L700.0,1262.2 L701.0,1262.2 L702.0,1262.2 L703.0,1262.2 L704.0,1262.2 L705.0,1262.2 L706.0,1262.2 L707.0,1262.2 L708.0,1262.2 L709.0,1262.2 L710.0,1262.2 L711.0,1262.2 L712.0,1262.2 L713.0,1262.2 L714.0,1262.2 L715.0,1262.2 L716.0,1262.2 L717.0,1262.2 L718.0,1262.2 L719.0,1262.2 L720.0,1262.2 L721.0,1262.2 L722.0,1262.2 L723.0,1262.2 L724.0,1262.2 L725.0,1262.2 L726.0,1262.2 L727.0,1262.2 L728.0,1262.2 L729.0,1262.2 L730.0,1262.2 L731.0,1262.2 L732.0,1262.2 L733.0,1262.2 L734.0,1262.2 L735.0,1262.2 L736.0,1262.2 L737.0,1262.2 L738.0,1262.2 L739.0,1262.2 L740.0,1262.2 L741.0,1262.2 L742.0,1262.2 L743.0,1262.2 L744.0,1262.2 L745.0,1262.2 L746.0,1262.2 L747.0,1262.2 L748.0,1262.2 L749.0,1262.2 L750.0,1262.2 L751.0,1262.2 L752.0,1262.2 L753.0,1262.2 L754.0,1262.2 L755.0,1262.2 L756.0,1262.2 L757.0,1262.2 L758.0,1262.2 L759.0,1262.2 L760.0,1262.2 L761.0,1262.2 L762.0,1262.2 L763.0,1262.2 L764.0,1262.2 L765.0,1262.2 L766.0,1262.1 L767.0,1262.1 L768.0,1262.1 L769.0,1262.1 L770.0,1262.1 L771.0,1262.1 L772.0,1262.1 L773.0,1262.1 L774.0,1262.1 L775.0,1262.1 L776.0,1262.1 L777.0,1262.1 L778.0,1262.1 L779.0,1262.1 L780.0,1262.1 L781.0,1262.1 L782.0,1262.1 L783.0,1262.0 L784.0,1262.0 L785.0,1262.0 L786.0,1262.0 L787.0,1262.0 L788.0,1262.0 L789.0,1262.0 L790.0,1262.0 L791.0,1262.0 L792.0,1261.9 L793.0,1261.9 L794.0,1261.9 L795.0,1261.9 L796.0,1261.9 L797.0,1261.9 L798.0,1261.9 L799.0,1261.8 L800.0,1261.8 L801.0,1261.8 L802.0,1261.8 L803.0,1261.8 L804.0,1261.7 L805.0,1261.7 L806.0,1261.7 L807.0,1261.7 L808.0,1261.6 L809.0,1261.6 L810.0,1261.6 L811.0,1261.6 L812.0,1261.5 L813.0,1261.5 L814.0,1261.5 L815.0,1261.4 L816.0,1261.4 L817.0,1261.4 L818.0,1261.3 L819.0,1261.3 L820.0,1261.3 L821.0,1261.2 L822.0,1261.2 L823.0,1261.2 L824.0,1261.1 L825.0,1261.1 L826.0,1261.0 L827.0,1261.0 L828.0,1260.9 L829.0,1260.9 L830.0,1260.9 L831.0,1260.8 L832.0,1260.8 L833.0,1260.7 L834.0,1260.7 L835.0,1260.6 L836.0,1260.6 L837.0,1260.5 L838.0,1260.5 L839.0,1260.4 L840.0,1260.3 L841.0,1260.3 L842.0,1260.2 L843.0,1260.2 L844.0,1260.1 L845.0,1260.1 L846.0,1260.0 L847.0,1260.0 L848.0,1259.9 L849.0,1259.8 L850.0,1259.8 L851.0,1259.7 L852.0,1259.7 L853.0,1259.6 L854.0,1259.5 L855.0,1259.5 L856.0,1259.4 L857.0,1259.3 L858.0,1259.3 L859.0,1259.2 L860.0,1259.2 L861.0,1259.1 L862.0,1259.0 L863.0,1259.0 L864.0,1258.9 L865.0,1258.9 L866.0,1258.8 L867.0,1258.8 L868.0,1258.7 L869.0,1258.7 L870.0,1258.6 L871.0,1258.5 L872.0,1258.5 L873.0,1258.4 L874.0,1258.4 L875.0,1258.3 L876.0,1258.3 L877.0,1258.3 L878.0,1258.2 L879.0,1258.2 L880.0,1258.1 L881.0,1258.1 L882.0,1258.0 L883.0,1258.0 L884.0,1258.0 L885.0,1257.9 L886.0,1257.9 L887.0,1257.9 L888.0,1257.9 L889.0,1257.8 L890.0,1257.8 L891.0,1257.8 L892.0,1257.8 L893.0,1257.8 L894.0,1257.7 L895.0,1257.7 L896.0,1257.7 L897.0,1257.7 L898.0,1257.7 L899.0,1257.7 L900.0,1257.7 L901.0,1257.7 L902.0,1257.7 L903.0,1257.7 L904.0,1257.7 L905.0,1257.7 L906.0,1257.7 L907.0,1257.8 L908.0,1257.8 L909.0,1257.8 L910.0,1257.8 L911.0,1257.8 L912.0,1257.9 L913.0,1257.9 L914.0,1257.9 L915.0,1257.9 L916.0,1258.0 L917.0,1258.0 L918.0,1258.0 L919.0,1258.1 L920.0,1258.1 L921.0,1258.2 L922.0,1258.2 L923.0,1258.3 L924.0,1258.3 L925.0,1258.3 L926.0,1258.4 L927.0,1258.4 L928.0,1258.5 L929.0,1258.6 L930.0,1258.6 L931.0,1258.7 L932.0,1258.7 L933.0,1258.8 L934.0,1258.9 L935.0,1259.0 L936.0,1259.0 L937.0,1259.1 L938.0,1259.2 L939.0,1259.3 L940.0,1259.4 L941.0,1259.5 L942.0,1259.6 L943.0,1259.7 L944.0,1259.8 L945.0,1259.9 L946.0,1259.9 L947.0,1260.0 L948.0,1260.0 L949.0,1259.9 L950.0,1259.9 L951.0,1259.7 L952.0,1259.6 L953.0,1259.3 L954.0,1259.0 L955.0,1258.6 L956.0,1258.2 L957.0,1257.6 L958.0,1256.9 L959.0,1256.1 L960.0,1255.1 L961.0,1254.1 L962.0,1252.8 L963.0,1251.4 L964.0,1249.7 L965.0,1247.9 L966.0,1245.7 L967.0,1243.4 L968.0,1240.7 L969.0,1237.6 L970.0,1234.3 L971.0,1230.5 L972.0,1226.3 L973.0,1221.6 L974.0,1216.4 L975.0,1210.7 L976.0,1204.5 L977.0,1197.7 L978.0,1190.3 L979.0,1182.2 L980.0,1173.4 L981.0,1164.0 L982.0,1153.9 L983.0,1143.0 L984.0,1131.4 L985.0,1119.0 L986.0,1105.9 L987.0,1092.1 L988.0,1077.4 L989.0,1062.1 L990.0,1046.0 L991.0,1029.1 L992.0,1011.6 L993.0,993.4 L994.0,974.6 L995.0,955.2 L996.0,935.3 L997.0,914.8 L998.0,893.9 L999.0,872.5 L1000.0,850.8 L1001.0,828.9 L1002.0,806.7 L1003.0,784.3 L1004.0,761.8 L1005.0,739.3 L1006.0,716.9 L1007.0,694.5 L1008.0,672.3 L1009.0,650.4 L1010.0,628.7 L1011.0,607.4 L1012.0,586.5 L1013.0,566.1 L1014.0,546.2 L1015.0,526.9 L1016.0,508.1 L1017.0,490.1 L1018.0,472.7 L1019.0,456.0 L1020.0,440.1 L1021.0,425.0 L1022.0,410.7 L1023.0,397.1 L1024.0,384.4 L1025.0,372.5 L1026.0,361.3 L1027.0,351.0 L1028.0,341.5 L1029.0,332.8 L1030.0,324.9 L1031.0,317.6 L1032.0,311.2 L1033.0,305.4 L1034.0,300.3 L1035.0,295.8 L1036.0,291.9 L1037.0,288.6 L1038.0,285.7 L1039.0,283.4 L1040.0,281.6 L1041.0,280.1 L1042.0,279.0 L1043.0,278.1 L1044.0,277.6 L1045.0,277.2 L1046.0,277.1 L1047.0,277.0 L1048.0,277.0 L1049.0,277.0 L1050.0,277.3 L1051.0,277.7 L1052.0,278.4 L1053.0,279.5 L1054.0,280.8 L1055.0,282.5 L1056.0,284.6 L1057.0,287.1 L1058.0,290.0 L1059.0,293.4 L1060.0,297.1 L1061.0,301.4 L1062.0,306.1 L1063.0,311.2 L1064.0,316.9 L1065.0,323.0 L1066.0,329.6 L1067.0,336.7 L1068.0,344.3 L1069.0,352.4 L1070.0,360.9 L1071.0,369.9 L1072.0,379.4 L1073.0,389.4 L1074.0,399.8 L1075.0,410.6 L1076.0,421.9 L1077.0,433.7 L1078.0,445.8 L1079.0,458.3 L1080.0,471.2 L1081.0,484.4 L1082.0,498.0 L1083.0,511.9 L1084.0,526.1 L1085.0,540.6 L1086.0,555.4 L1087.0,570.4 L1088.0,585.6 L1089.0,601.0 L1090.0,616.6 L1091.0,632.3 L1092.0,648.1 L1093.0,664.1 L1094.0,680.1 L1095.0,696.2 L1096.0,712.2 L1097.0,728.3 L1098.0,744.4 L1099.0,760.4 L1100.0,776.4 L1101.0,792.2 L1102.0,808.0 L1103.0,823.6 L1104.0,839.1 L1105.0,854.4 L1106.0,869.5 L1107.0,884.4 L1108.0,899.0 L1109.0,913.5 L1110.0,927.6 L1111.0,941.5 L1112.0,955.2 L1113.0,968.5 L1114.0,981.5 L1115.0,994.2 L1116.0,1006.6 L1117.0,1018.6 L1118.0,1030.4 L1119.0,1041.7 L1120.0,1052.8 L1121.0,1063.4 L1122.0,1073.8 L1123.0,1083.7 L1124.0,1093.3 L1125.0,1102.6 L1126.0,1111.5 L1127.0,1120.1 L1128.0,1128.3 L1129.0,1136.2 L1130.0,1143.7 L1131.0,1150.9 L1132.0,1157.8 L1133.0,1164.4 L1134.0,1170.6 L1135.0,1176.5 L1136.0,1182.2 L1137.0,1187.5 L1138.0,1192.6 L1139.0,1197.4 L1140.0,1201.9 L1141.0,1206.2 L1142.0,1210.3 L1143.0,1214.0 L1144.0,1217.6 L1145.0,1221.0 L1146.0,1224.1 L1147.0,1227.0 L1148.0,1229.7 L1149.0,1232.3 L1150.0,1234.7 L1151.0,1236.9 L1152.0,1238.9 L1153.0,1240.8 L1154.0,1242.5 L1155.0,1244.1 L1156.0,1245.6 L1157.0,1246.9 L1158.0,1248.2 L1159.0,1249.3 L1160.0,1250.2 L1161.0,1251.1 L1162.0,1251.9 L1163.0,1252.6 L1164.0,1253.3 L1165.0,1253.8 L1166.0,1254.3 L1167.0,1254.8 L1168.0,1255.2 L1169.0,1255.5 L1170.0,1255.8 L1171.0,1256.1 L1172.0,1256.4 L1173.0,1256.6 L1174.0,1256.8 L1175.0,1257.0 L1176.0,1257.2 L1177.0,1257.4 L1178.0,1257.5 L1179.0,1257.7 L1180.0,1257.8 L1181.0,1257.9 L1182.0,1258.0 L1183.0,1258.1 L1184.0,1258.2 L1185.0,1258.3 L1186.0,1258.4 L1187.0,1258.4 L1188.0,1258.5 L1189.0,1258.5 L1190.0,1258.6 L1191.0,1258.6 L1192.0,1258.7 L1193.0,1258.7 L1194.0,1258.7 L1195.0,1258.7 L1196.0,1258.8 L1197.0,1258.8 L1198.0,1258.8 L1199.0,1258.8 L1200.0,1258.8 L1201.0,1258.8 L1202.0,1258.8 L1203.0,1258.9 L1204.0,1258.9 L1205.0,1258.9 L1206.0,1258.9 L1207.0,1258.9 L1208.0,1258.9 L1209.0,1258.9 L1210.0,1258.9 L1211.0,1258.9 L1212.0,1258.9 L1213.0,1258.9 L1214.0,1258.9 L1215.0,1258.9 L1216.0,1259.0 L1217.0,1259.0 L1218.0,1259.0 L1219.0,1259.0 L1220.0,1259.0 L1221.0,1259.1 L1222.0,1259.1 L1223.0,1259.1 L1224.0,1259.2 L1225.0,1259.2 L1226.0,1259.3 L1227.0,1259.4 L1228.0,1259.5 L1229.0,1259.6 L1230.0,1259.7 L1231.0,1259.8 L1232.0,1259.9 L1233.0,1260.1 L1234.0,1260.2 L1235.0,1260.4 L1236.0,1260.5 L1237.0,1260.7 L1238.0,1260.9 L1239.0,1261.0 L1240.0,1261.2 L1241.0,1261.3 L1242.0,1261.4 L1243.0,1261.5 L1244.0,1261.6 L1245.0,1261.7 L1246.0,1261.8 L1247.0,1261.9 L1248.0,1261.9 L1249.0,1262.0 L1250.0,1262.0 L1251.0,1262.0 L1252.0,1262.1 L1253.0,1262.1 L1254.0,1262.1 L1255.0,1262.1 L1256.0,1262.1 L1257.0,1262.2 L1258.0,1262.2 L1259.0,1262.2 L1260.0,1262.2 L1261.0,1262.2 L1262.0,1262.2 L1263.0,1262.2 L1264.0,1262.2 L1265.0,1262.2 L1266.0,1262.2 L1267.0,1262.2 L1268.0,1262.2 L1269.0,1262.2 L1270.0,1262.2 L1271.0,1262.2 L1272.0,1262.2 L1273.0,1262.2 L1274.0,1262.2 L1275.0,1262.2 L1276.0,1262.2 L1277.0,1262.2 L1278.0,1262.2 L1279.0,1262.2 L1280.0,1262.2 L1281.0,1262.2 L1282.0,1262.2 L1283.0,1262.2 L1284.0,1262.2 L1285.0,1262.2 L1286.0,1262.2 L1287.0,1262.2 L1288.0,1262.2 L1289.0,1262.2 L1290.0,1262.2 L1291.0,1262.2 L1292.0,1262.2 L1293.0,1262.2 L1294.0,1262.2 L1295.0,1262.2 L1296.0,1262.2 L1297.0,1262.2 L1298.0,1262.2 L1299.0,1262.2 L1300.0,1262.2 L1301.0,1262.2 L1302.0,1262.2 L1303.0,1262.2 L1304.0,1262.2 L1305.0,1262.2 L1306.0,1262.2 L1307.0,1262.2 L1308.0,1262.2 L1309.0,1262.2 L1310.0,1262.2 L1311.0,1262.2 L1312.0,1262.2 L1313.0,1262.2 L1314.0,1262.2 L1315.0,1262.2 L1316.0,1262.2 L1317.0,1262.2 L1318.0,1262.2 L1319.0,1262.2 L1320.0,1262.2 L1321.0,1262.2 L1322.0,1262.2 L1323.0,1262.2 L1324.0,1262.2 L1325.0,1262.2 L1326.0,1262.2 L1327.0,1262.2 L1328.0,1262.2 L1329.0,1262.2 L1330.0,1262.2 L1331.0,1262.2 L1332.0,1262.2 L1333.0,1262.2 L1334.0,1262.2 L1335.0,1262.2 L1336.0,1262.2 L1337.0,1262.2 L1338.0,1262.2 L1339.0,1262.2 L1340.0,1262.2 L1341.0,1262.2 L1342.0,1262.2 L1343.0,1262.2 L1344.0,1262.2 L1345.0,1262.2 L1346.0,1262.2 L1347.0,1262.2 L1348.0,1262.2 L1349.0,1262.2 L1350.0,1262.2 L1351.0,1262.2 L1352.0,1262.2 L1353.0,1262.2 L1354.0,1262.2 L1355.0,1262.2 L1356.0,1262.2 L1357.0,1262.2 L1358.0,1262.2 L1359.0,1262.2 L1360.0,1262.2 L1361.0,1262.2 L1362.0,1262.2 L1363.0,1262.2 L1364.0,1262.2 L1365.0,1262.2 L1366.0,1262.2 L1367.0,1262.2 L1368.0,1262.2 L1369.0,1262.2 L1370.0,1262.2 L1371.0,1262.2 L1372.0,1262.2 L1373.0,1262.2 L1374.0,1262.2 L1375.0,1262.2 L1376.0,1262.2 L1377.0,1262.2 L1378.0,1262.2 L1379.0,1262.2 L1380.0,1262.2 L1381.0,1262.2 L1382.0,1262.2 L1383.0,1262.2 L1384.0,1262.2 L1385.0,1262.2 L1386.0,1262.2 L1387.0,1262.2 L1388.0,1262.2 L1389.0,1262.2 L1390.0,1262.2 L1391.0,1262.2 L1392.0,1262.2 L1393.0,1262.2 L1394.0,1262.2 L1395.0,1262.2 L1396.0,1262.2 L1397.0,1262.2 L1398.0,1262.2 L1399.0,1262.2 L1400.0,1262.2 L1401.0,1262.2 L1402.0,1262.2 L1403.0,1262.2 L1404.0,1262.2 L1405.0,1262.2 L1406.0,1262.2 L1407.0,1262.2 L1408.0,1262.2 L1409.0,1262.2 L1410.0,1262.2 L1411.0,1262.2 L1412.0,1262.2 L1413.0,1262.2 L1414.0,1262.2 L1415.0,1262.2 L1416.0,1262.2 L1417.0,1262.2 L1418.0,1262.2 L1419.0,1262.2 L1420.0,1262.2 L1421.0,1262.2 L1422.0,1262.2 L1423.0,1262.2 L1424.0,1262.2 L1425.0,1262.2 L1426.0,1262.2 L1427.0,1262.2 L1428.0,1262.2 L1429.0,1262.2 L1430.0,1262.2 L1431.0,1262.2 L1432.0,1262.2 L1433.0,1262.2 L1434.0,1262.2 L1435.0,1262.2 L1436.0,1262.2 L1437.0,1262.2 L1438.0,1262.2 L1439.0,1262.2 L1440.0,1262.2 L1441.0,1262.2 L1442.0,1262.2 L1443.0,1262.2 L1444.0,1262.2 L1445.0,1262.2 L1446.0,1262.2 L1447.0,1262.2 L1448.0,1262.2 L1449.0,1262.2 L1450.0,1262.2 L1451.0,1262.2 L1452.0,1262.2 L1453.0,1262.2 L1454.0,1262.2 L1455.0,1262.2 L1456.0,1262.2 L1457.0,1262.2 L1458.0,1262.2 L1459.0,1262.2 L1460.0,1262.2 L1461.0,1262.2 L1462.0,1262.2 L1463.0,1262.2 L1464.0,1262.2 L1465.0,1262.2 L1466.0,1262.2 L1467.0,1262.2 L1468.0,1262.2 L1469.0,1262.2 L1470.0,1262.2 L1471.0,1262.2 L1472.0,1262.2 L1473.0,1262.2 L1474.0,1262.2 L1475.0,1262.2 L1476.0,1262.2 L1477.0,1262.2 L1478.0,1262.2 L1479.0,1262.2 L1480.0,1262.2 L1481.0,1262.2 L1482.0,1262.2 L1483.0,1262.2 L1484.0,1262.2 L1485.0,1262.2 L1486.0,1262.2 L1487.0,1262.2 L1488.0,1262.2 L1489.0,1262.2 L1490.0,1262.2 L1491.0,1262.2 L1492.0,1262.2 L1493.0,1262.2 L1494.0,1262.2 L1495.0,1262.2 L1496.0,1262.2 L1497.0,1262.2 L1498.0,1262.2 L1499.0,1262.2 L1500.0,1262.2 L1501.0,1262.2 L1502.0,1262.2 L1503.0,1262.2 L1504.0,1262.2 L1505.0,1262.2 L1506.0,1262.2 L1507.0,1262.2 L1508.0,1262.2 L1509.0,1262.2 L1510.0,1262.2 L1511.0,1262.2 L1512.0,1262.2 L1513.0,1262.2 L1514.0,1262.2 L1515.0,1262.2 L1516.0,1262.2 L1517.0,1262.2 L1518.0,1262.2 L1519.0,1262.2 L1520.0,1262.2 L1521.0,1262.2 L1522.0,1262.2 L1523.0,1262.2 L1524.0,1262.2 L1525.0,1262.2 L1526.0,1262.2 L1527.0,1262.2 L1528.0,1262.2 L1529.0,1262.2 L1530.0,1262.2 L1531.0,1262.2 L1532.0,1262.2 L1533.0,1262.2 L1534.0,1262.2 L1535.0,1262.2 L1536.0,1262.2 L1537.0,1262.2 L1538.0,1262.2 L1539.0,1262.2 L1540.0,1262.2 L1541.0,1262.2 L1542.0,1262.2 L1543.0,1262.2 L1544.0,1262.2 L1545.0,1262.2 L1546.0,1262.2 L1547.0,1262.2 L1548.0,1262.2 L1549.0,1262.2 L1550.0,1262.2 L1551.0,1262.2 L1552.0,1262.2 L1553.0,1262.2 L1554.0,1262.2 L1555.0,1262.2 L1556.0,1262.2 L1557.0,1262.2 L1558.0,1262.2 L1559.0,1262.2 L1560.0,1262.2 L1561.0,1262.2 L1562.0,1262.2 L1563.0,1262.2 L1564.0,1262.2 L1565.0,1262.2 L1566.0,1262.2 L1567.0,1262.2 L1568.0,1262.2 L1569.0,1262.2 L1570.0,1262.2 L1571.0,1262.2 L1572.0,1262.2 L1573.0,1262.2 L1574.0,1262.2 L1575.0,1262.2 L1576.0,1262.2 L1577.0,1262.2 L1578.0,1262.2 L1579.0,1262.2 L1580.0,1262.2 L1581.0,1262.2 L1582.0,1262.2 L1583.0,1262.2 L1584.0,1262.2 L1585.0,1262.2 L1586.0,1262.2 L1587.0,1262.2 L1588.0,1262.2 L1589.0,1262.2 L1590.0,1262.2 L1591.0,1262.2 L1592.0,1262.2 L1593.0,1262.2 L1594.0,1262.2 L1595.0,1262.2 L1596.0,1262.2 L1597.0,1262.2 L1598.0,1262.2 L1599.0,1262.2 L1600.0,1262.2 L1601.0,1262.2 L1602.0,1262.2 L1603.0,1262.2 L1604.0,1262.2 L1605.0,1262.2 L1606.0,1262.2 L1607.0,1262.2 L1608.0,1262.2 L1609.0,1262.2 L1610.0,1262.2 L1611.0,1262.2 L1612.0,1262.2 L1613.0,1262.2 L1614.0,1262.2 L1615.0,1262.2 L1616.0,1262.2 L1617.0,1262.2 L1618.0,1262.2 L1619.0,1262.2 L1620.0,1262.2 L1621.0,1262.2 L1622.0,1262.2 L1623.0,1262.2 L1624.0,1262.2 L1625.0,1262.2 L1626.0,1262.2 L1627.0,1262.2 L1628.0,1262.2 L1629.0,1262.2 L1630.0,1262.2 L1631.0,1262.2 L1632.0,1262.2 L1633.0,1262.2 L1634.0,1262.2 L1635.0,1262.2 L1636.0,1262.2 L1637.0,1262.2 L1638.0,1262.2 L1639.0,1262.2 L1640.0,1262.2 L1641.0,1262.2 L1642.0,1262.2 L1643.0,1262.2 L1644.0,1262.2 L1645.0,1262.2 L1646.0,1262.2 L1647.0,1262.2 L1648.0,1262.2 L1649.0,1262.2 L1650.0,1262.2 L1651.0,1262.2 L1652.0,1262.2 L1653.0,1262.2 L1654.0,1262.2 L1655.0,1262.2 L1656.0,1262.2 L1657.0,1262.2 L1658.0,1262.2 L1659.0,1262.2 L1660.0,1262.2 L1661.0,1262.2 L1662.0,1262.2 L1663.0,1262.2 L1664.0,1262.2 L1665.0,1262.2 L1666.0,1262.2 L1667.0,1262.2 L1668.0,1262.2 L1669.0,1262.2 L1670.0,1262.2 L1671.0,1262.2 L1672.0,1262.2 L1673.0,1262.2 L1674.0,1262.2 L1675.0,1262.2 L1676.0,1262.2 L1677.0,1262.2 L1678.0,1262.2 L1679.0,1262.2 L1680.0,1262.2 L1681.0,1262.2 L1682.0,1262.2 L1683.0,1262.2 L1684.0,1262.2 L1685.0,1262.2 L1686.0,1262.2 L1687.0,1262.2 L1688.0,1262.2 L1689.0,1262.2 L1690.0,1262.2 L1691.0,1262.2 L1692.0,1262.2 L1693.0,1262.2 L1694.0,1262.2 L1695.0,1262.2 L1696.0,1262.2 L1697.0,1262.2 L1698.0,1262.2 L1699.0,1262.2 L1700.0,1262.2 L1701.0,1262.2 L1702.0,1262.2 L1703.0,1262.2 L1704.0,1262.2 L1705.0,1262.2 L1706.0,1262.2 L1707.0,1262.2 L1708.0,1262.2 L1709.0,1262.2 L1710.0,1262.2 L1711.0,1262.2 L1712.0,1262.2 L1713.0,1262.2 L1714.0,1262.2 L1715.0,1262.2 L1716.0,1262.2 L1717.0,1262.2 L1718.0,1262.2 L1719.0,1262.2 L1720.0,1262.2 L1721.0,1262.2 L1722.0,1262.2 L1723.0,1262.2 L1724.0,1262.2 L1725.0,1262.2 L1726.0,1262.2 L1727.0,1262.2 L1728.0,1262.2 L1729.0,1262.2 L1730.0,1262.2 L1731.0,1262.2 L1732.0,1262.2 L1733.0,1262.2 L1734.0,1262.2 L1735.0,1262.2 L1736.0,1262.2 L1737.0,1262.2 L1738.0,1262.2 L1739.0,1262.2 L1740.0,1262.2 L1741.0,1262.2 L1742.0,1262.2 L1743.0,1262.2 L1744.0,1262.2 L1745.0,1262.2 L1746.0,1262.2 L1747.0,1262.2 L1748.0,1262.2 L1749.0,1262.2 L1750.0,1262.2 L1751.0,1262.2 L1752.0,1262.2 L1753.0,1262.2 L1754.0,1262.2 L1755.0,1262.2 L1756.0,1262.2 L1757.0,1262.2 L1758.0,1262.2 L1759.0,1262.2 L1760.0,1262.2 L1761.0,1262.2 L1762.0,1262.2 L1763.0,1262.2 L1764.0,1262.2 L1765.0,1262.2 L1766.0,1262.2 L1767.0,1262.2 L1768.0,1262.2 L1769.0,1262.2 L1770.0,1262.2 L1771.0,1262.2 L1772.0,1262.2 L1773.0,1262.2 L1774.0,1262.2 L1775.0,1262.2 L1776.0,1262.2 L1777.0,1262.2 L1778.0,1262.2 L1779.0,1262.2 L1780.0,1262.2 L1781.0,1262.2 L1782.0,1262.2 L1783.0,1262.2 L1784.0,1262.2 L1785.0,1262.2 L1786.0,1262.2 L1787.0,1262.2 L1788.0,1262.2 L1789.0,1262.2 L1790.0,1262.2 L1791.0,1262.2 L1792.0,1262.2 L1793.0,1262.2 L1794.0,1262.2 L1795.0,1262.2 L1796.0,1262.2 L1797.0,1262.2 L1798.0,1262.2 L1799.0,1262.2 L1800.0,1262.2 L1801.0,1262.2 L1802.0,1262.2 L1803.0,1262.2 L1804.0,1262.2 L1805.0,1262.2 L1806.0,1262.2 L1807.0,1262.2 L1808.0,1262.2 L1809.0,1262.2 L1810.0,1262.2 L1811.0,1262.2 L1812.0,1262.2 L1813.0,1262.2 L1814.0,1262.2 L1815.0,1262.2 L1816.0,1262.2 L1817.0,1262.2 L1818.0,1262.2 L1819.0,1262.2 L1820.0,1262.2 L1821.0,1262.2 L1822.0,1262.2 L1823.0,1262.2 L1824.0,1262.2 L1825.0,1262.2 L1826.0,1262.2 L1827.0,1262.2 L1828.0,1262.2 L1829.0,1262.2 L1830.0,1262.2 L1831.0,1262.2 L1832.0,1262.2 L1833.0,1262.2 L1834.0,1262.2 L1835.0,1262.2 L1836.0,1262.2 L1837.0,1262.2 L1838.0,1262.2 L1839.0,1262.2 L1840.0,1262.2 L1841.0,1262.2 L1842.0,1262.2 L1843.0,1262.2 L1844.0,1262.2 L1845.0,1262.2 L1846.0,1262.2 L1847.0,1262.2 L1848.0,1262.2 L1849.0,1262.2 L1850.0,1262.2 L1851.0,1262.2 L1852.0,1262.2 L1853.0,1262.2 L1854.0,1262.2 L1855.0,1262.2 L1856.0,1262.2 L1857.0,1262.2 L1858.0,1262.2 L1859.0,1262.2 L1860.0,1262.2 L1861.0,1262.2 L1862.0,1262.2 L1863.0,1262.2 L1864.0,1262.2 L1865.0,1262.2 L1866.0,1262.2 L1867.0,1262.2 L1868.0,1262.2 L1869.0,1262.2 L1870.0,1262.2 L1871.0,1262.2 L1872.0,1262.2 L1873.0,1262.2 L1874.0,1262.2 L1875.0,1262.2 L1876.0,1262.2 L1877.0,1262.2 L1878.0,1262.2 L1879.0,1262.2 L1880.0,1262.2 L1881.0,1262.2 L1882.0,1262.2 L1883.0,1262.2 L1884.0,1262.2 L1885.0,1262.2 L1886.0,1262.2 L1887.0,1262.2 L1888.0,1262.2 L1889.0,1262.2 L1890.0,1262.2 L1891.0,1262.2 L1892.0,1262.2 L1893.0,1262.2 L1894.0,1262.2 L1895.0,1262.2 L1896.0,1262.2 L1897.0,1262.2 L1898.0,1262.2 L1899.0,1262.2 L1900.0,1262.2 L1901.0,1262.2 L1902.0,1262.2 L1903.0,1262.2 L1904.0,1262.2 L1905.0,1262.2 L1906.0,1262.2 L1907.0,1262.2 L1908.0,1262.2 L1909.0,1262.2 L1910.0,1262.2 L1911.0,1262.2 L1912.0,1262.2 L1913.0,1262.2 L1914.0,1262.2 L1915.0,1262.2 L1916.0,1262.2 L1917.0,1262.2 L1918.0,1262.2 L1919.0,1262.2 L1920.0,1262.2 L1921.0,1262.2 L1922.0,1262.2 L1923.0,1262.2 L1924.0,1262.2 L1925.0,1262.2 L1926.0,1262.2 L1927.0,1262.2 L1928.0,1262.2 L1929.0,1262.2 L1930.0,1262.2 L1931.0,1262.2 L1932.0,1262.2 L1933.0,1262.2 L1934.0,1262.2 L1935.0,1262.2 L1936.0,1262.2 L1937.0,1262.2 L1938.0,1262.2 L1939.0,1262.2 L1940.0,1262.2 L1941.0,1262.2 L1942.0,1262.2 L1943.0,1262.2 L1944.0,1262.2 L1945.0,1262.2 L1946.0,1262.2 L1947.0,1262.2 L1948.0,1262.2 L1949.0,1262.2 L1950.0,1262.2 L1951.0,1262.2 L1952.0,1262.2 L1953.0,1262.2 L1954.0,1262.2 L1955.0,1262.2" stroke="#0f0" stroke-width="3.2"/>
<path d="M327.0,1262.2 L328.0,1262.2 L329.0,1262.2 L330.0,1262.2 L331.0,1262.2 L332.0,1262.2 L333.0,1262.2 L334.0,1262.2 L335.0,1262.2 L336.0,1262.2 L337.0,1262.2 L338.0,1262.2 L339.0,1262.2 L340.0,1262.2 L341.0,1262.2 L342.0,1262.2 L343.0,1262.2 L344.0,1262.2 L345.0,1262.2 L346.0,1262.2 L347.0,1262.2 L348.0,1262.2 L349.0,1262.2 L350.0,1262.2 L351.0,1262.2 L352.0,1262.2 L353.0,1262.2 L354.0,1262.2 L355.0,1262.2 L356.0,1262.2 L357.0,1262.2 L358.0,1262.2 L359.0,1262.2 L360.0,1262.2 L361.0,1262.2 L362.0,1262.2 L363.0,1262.2 L364.0,1262.2 L365.0,1262.2 L366.0,1262.2 L367.0,1262.2 L368.0,1262.2 L369.0,1262.2 L370.0,1262.2 L371.0,1262.2 L372.0,1262.2 L373.0,1262.2 L374.0,1262.2 L375.0,1262.2 L376.0,1262.2 L377.0,1262.2 L378.0,1262.2 L379.0,1262.2 L380.0,1262.2 L381.0,1262.2 L382.0,1262.2 L383.0,1262.2 L384.0,1262.2 L385.0,1262.2 L386.0,1262.2 L387.0,1262.2 L388.0,1262.2 L389.0,1262.2 L390.0,1262.2 L391.0,1262.2 L392.0,1262.2 L393.0,1262.2 L394.0,1262.2 L395.0,1262.2 L396.0,1262.2 L397.0,1262.2 L398.0,1262.2 L399.0,1262.2 L400.0,1262.2 L401.0,1262.2 L402.0,1262.2 L403.0,1262.2 L404.0,1262.2 L405.0,1262.2 L406.0,1262.2 L407.0,1262.2 L408.0,1262.2 L409.0,1262.2 L410.0,1262.2 L411.0,1262.2 L412.0,1262.2 L413.0,1262.2 L414.0,1262.2 L415.0,1262.2 L416.0,1262.2 L417.0,1262.2 L418.0,1262.2 L419.0,1262.2 L420.0,1262.2 L421.0,1262.2 L422.0,1262.2 L423.0,1262.2 L424.0,1262.2 L425.0,1262.2 L426.0,1262.2 L427.0,1262.2 L428.0,1262.2 L429.0,1262.2 L430.0,1262.2 L431.0,1262.2 L432.0,1262.2 L433.0,1262.2 L434.0,1262.2 L435.0,1262.2 L436.0,1262.2 L437.0,1262.2 L438.0,1262.2 L439.0,1262.2 L440.0,1262.2 L441.0,1262.2 L442.0,1262.2 L443.0,1262.2 L444.0,1262.2 L445.0,1262.2 L446.0,1262.2 L447.0,1262.2 L448.0,1262.2 L449.0,1262.2 L450.0,1262.2 L451.0,1262.2 L452.0,1262.2 L453.0,1262.2 L454.0,1262.2 L455.0,1262.2 L456.0,1262.2 L457.0,1262.2 L458.0,1262.2 L459.0,1262.2 L460.0,1262.2 L461.0,1262.2 L462.0,1262.2 L463.0,1262.2 L464.0,1262.2 L465.0,1262.2 L466.0,1262.2 L467.0,1262.2 L468.0,1262.2 L469.0,1262.2 L470.0,1262.2 L471.0,1262.2 L472.0,1262.2 L473.0,1262.2 L474.0,1262.2 L475.0,1262.2 L476.0,1262.2 L477.0,1262.2 L478.0,1262.2 L479.0,1262.2 L480.0,1262.2 L481.0,1262.2 L482.0,1262.2 L483.0,1262.2 L484.0,1262.2 L485.0,1262.2 L486.0,1262.2 L487.0,1262.2 L488.0,1262.2 L489.0,1262.2 L490.0,1262.2 L491.0,1262.2 L492.0,1262.2 L493.0,1262.2 L494.0,1262.2 L495.0,1262.2 L496.0,1262.2 L497.0,1262.2 L498.0,1262.2 L499.0,1262.2 L500.0,1262.2 L501.0,1262.2 L502.0,1262.2 L503.0,1262.2 L504.0,1262.2 L505.0,1262.2 L506.0,1262.2 L507.0,1262.2 L508.0,1262.2 L509.0,1262.2 L510.0,1262.2 L511.0,1262.2 L512.0,1262.2 L513.0,1262.2 L514.0,1262.2 L515.0,1262.2 L516.0,1262.2 L517.0,1262.2 L518.0,1262.2 L519.0,1262.2 L520.0,1262.2 L521.0,1262.2 L522.0,1262.2 L523.0,1262.2 L524.0,1262.2 L525.0,1262.2 L526.0,1262.2 L527.0,1262.2 L528.0,1262.2 L529.0,1262.2 L530.0,1262.2 L531.0,1262.2 L532.0,1262.2 L533.0,1262.2 L534.0,1262.2 L535.0,1262.2 L536.0,1262.2 L537.0,1262.2 L538.0,1262.2 L539.0,1262.2 L540.0,1262.2 L541.0,1262.2 L542.0,1262.2 L543.0,1262.2 L544.0,1262.2 L545.0,1262.2 L546.0,1262.2 L547.0,1262.2 L548.0,1262.2 L549.0,1262.2 L550.0,1262.2 L551.0,1262.2 L552.0,1262.2 L553.0,1262.2 L554.0,1262.2 L555.0,1262.2 L556.0,1262.2 L557.0,1262.2 L558.0,1262.2 L559.0,1262.2 L560.0,1262.2 L561.0,1262.2 L562.0,1262.2 L563.0,1262.2 L564.0,1262.2 L565.0,1262.2 L566.0,1262.2 L567.0,1262.2 L568.0,1262.2 L569.0,1262.2 L570.0,1262.2 L571.0,1262.2 L572.0,1262.2 L573.0,1262.2 L574.0,1262.2 L575.0,1262.2 L576.0,1262.2 L577.0,1262.2 L578.0,1262.2 L579.0,1262.2 L580.0,1262.2 L581.0,1262.2 L582.0,1262.2 L583.0,1262.2 L584.0,1262.2 L585.0,1262.2 L586.0,1262.2 L587.0,1262.2 L588.0,1262.2 L589.0,1262.2 L590.0,1262.2 L591.0,1262.2 L592.0,1262.2 L593.0,1262.2 L594.0,1262.2 L595.0,1262.2 L596.0,1262.2 L597.0,1262.2 L598.0,1262.2 L599.0,1262.2 L600.0,1262.2 L601.0,1262.2 L602.0,1262.2 L603.0,1262.2 L604.0,1262.2 L605.0,1262.2 L606.0,1262.2 L607.0,1262.2 L608.0,1262.2 L609.0,1262.2 L610.0,1262.2 L611.0,1262.2 L612.0,1262.2 L613.0,1262.2 L614.0,1262.2 L615.0,1262.2 L616.0,1262.2 L617.0,1262.2 L618.0,1262.2 L619.0,1262.2 L620.0,1262.2 L621.0,1262.2 L622.0,1262.2 L623.0,1262.2 L624.0,1262.2 L625.0,1262.2 L626.0,1262.2 L627.0,1262.2 L628.0,1262.2 L629.0,1262.2 L630.0,1262.2 L631.0,1262.2 L632.0,1262.2 L633.0,1262.2 L634.0,1262.2 L635.0,1262.2 L636.0,1262.2 L637.0,1262.2 L638.0,1262.2 L639.0,1262.2 L640.0,1262.2 L641.0,1262.2 L642.0,1262.2 L643.0,1262.2 L644.0,1262.2 L645.0,1262.2 L646.0,1262.2 L647.0,1262.2 L648.0,1262.2 L649.0,1262.2 L650.0,1262.2 L651.0,1262.2 L652.0,1262.2 L653.0,1262.2 L654.0,1262.2 L655.0,1262.2 L656.0,1262.2 L657.0,1262.2 L658.0,1262.2 L659.0,1262.2 L660.0,1262.2 L661.0,1262.2 L662.0,1262.2 L663.0,1262.2 L664.0,1262.2 L665.0,1262.2 L666.0,1262.2 L667.0,1262.2 L668.0,1262.2 L669.0,1262.2 L670.0,1262.2 L671.0,1262.2 L672.0,1262.2 L673.0,1262.2 L674.0,1262.2 L675.0,1262.2 L676.0,1262.2 L677.0,1262.2 L678.0,1262.2 L679.0,1262.2 L680.0,1262.2 L681.0,1262.2 L682.0,1262.2 L683.0,1262.2 L684.0,1262.2 L685.0,1262.2 L686.0,1262.2 L687.0,1262.2 L688.0,1262.2 L689.0,1262.2 L690.0,1262.2 L691.0,1262.2 L692.0,1262.2 L693.0,1262.2 L694.0,1262.2 L695.0,1262.2 L696.0,1262.2 L697.0,1262.2 L698.0,1262.2 L699.0,1262.2 L700.0,1262.2 L701.0,1262.2 L702.0,1262.2 L703.0,1262.2 L704.0,1262.2 L705.0,1262.2 L706.0,1262.2 L707.0,1262.2 L708.0,1262.2 L709.0,1262.2 L710.0,1262.2 L711.0,1262.2 L712.0,1262.2 L713.0,1262.2 L714.0,1262.2 L715.0,1262.2 L716.0,1262.2 L717.0,1262.2 L718.0,1262.2 L719.0,1262.2 L720.0,1262.2 L721.0,1262.2 L722.0,1262.2 L723.0,1262.2 L724.0,1262.2 L725.0,1262.2 L726.0,1262.2 L727.0,1262.2 L728.0,1262.2 L729.0,1262.2 L730.0,1262.2 L731.0,1262.2 L732.0,1262.2 L733.0,1262.2 L734.0,1262.2 L735.0,1262.2" stroke="#0da733" stroke-width="3.2"/>
<path d="M1243.0,1261.5 L1244.0,1261.6 L1245.0,1261.7 L1246.0,1261.8 L1247.0,1261.9 L1248.0,1261.9 L1249.0,1262.0 L1250.0,1262.0 L1251.0,1262.0 L1252.0,1262.1 L1253.0,1262.1 L1254.0,1262.1 L1255.0,1262.1 L1256.0,1262.1 L1257.0,1262.2 L1258.0,1262.2 L1259.0,1262.2 L1260.0,1262.2 L1261.0,1262.2 L1262.0,1262.2 L1263.0,1262.2 L1264.0,1262.2 L1265.0,1262.2 L1266.0,1262.2 L1267.0,1262.2 L1268.0,1262.2 L1269.0,1262.2 L1270.0,1262.2 L1271.0,1262.2 L1272.0,1262.2 L1273.0,1262.2 L1274.0,1262.2 L1275.0,1262.2 L1276.0,1262.2 L1277.0,1262.2 L1278.0,1262.2 L1279.0,1262.2 L1280.0,1262.2 L1281.0,1262.2 L1282.0,1262.2 L1283.0,1262.2 L1284.0,1262.2 L1285.0,1262.2 L1286.0,1262.2 L1287.0,1262.2 L1288.0,1262.2 L1289.0,1262.2 L1290.0,1262.2 L1291.0,1262.2 L1292.0,1262.2 L1293.0,1262.2 L1294.0,1262.2 L1295.0,1262.2 L1296.0,1262.2 L1297.0,1262.2 L1298.0,1262.2 L1299.0,1262.2 L1300.0,1262.2 L1301.0,1262.2 L1302.0,1262.2 L1303.0,1262.2 L1304.0,1262.2 L1305.0,1262.2 L1306.0,1262.2 L1307.0,1262.2 L1308.0,1262.2 L1309.0,1262.2 L1310.0,1262.2 L1311.0,1262.2 L1312.0,1262.2 L1313.0,1262.2 L1314.0,1262.2 L1315.0,1262.2 L1316.0,1262.2 L1317.0,1262.2 L1318.0,1262.2 L1319.0,1262.2 L1320.0,1262.2 L1321.0,1262.2 L1322.0,1262.2 L1323.0,1262.2 L1324.0,1262.2 L1325.0,1262.2 L1326.0,1262.2 L1327.0,1262.2 L1328.0,1262.2 L1329.0,1262.2 L1330.0,1262.2 L1331.0,1262.2 L1332.0,1262.2 L1333.0,1262.2 L1334.0,1262.2 L1335.0,1262.2 L1336.0,1262.2 L1337.0,1262.2 L1338.0,1262.2 L1339.0,1262.2 L1340.0,1262.2 L1341.0,1262.2 L1342.0,1262.2 L1343.0,1262.2 L1344.0,1262.2 L1345.0,1262.2 L1346.0,1262.2 L1347.0,1262.2 L1348.0,1262.2 L1349.0,1262.2 L1350.0,1262.2 L1351.0,1262.2 L1352.0,1262.2 L1353.0,1262.2 L1354.0,1262.2 L1355.0,1262.2 L1356.0,1262.2 L1357.0,1262.2 L1358.0,1262.2 L1359.0,1262.2 L1360.0,1262.2 L1361.0,1262.2 L1362.0,1262.2 L1363.0,1262.2 L1364.0,1262.2 L1365.0,1262.2 L1366.0,1262.2 L1367.0,1262.2 L1368.0,1262.2 L1369.0,1262.2 L1370.0,1262.2 L1371.0,1262.2 L1372.0,1262.2 L1373.0,1262.2 L1374.0,1262.2 L1375.0,1262.2 L1376.0,1262.2 L1377.0,1262.2 L1378.0,1262.2 L1379.0,1262.2 L1380.0,1262.2 L1381.0,1262.2 L1382.0,1262.2 L1383.0,1262.2 L1384.0,1262.2 L1385.0,1262.2 L1386.0,1262.2 L1387.0,1262.2 L1388.0,1262.2 L1389.0,1262.2 L1390.0,1262.2 L1391.0,1262.2 L1392.0,1262.2 L1393.0,1262.2 L1394.0,1262.2 L1395.0,1262.2 L1396.0,1262.2 L1397.0,1262.2 L1398.0,1262.2 L1399.0,1262.2 L1400.0,1262.2 L1401.0,1262.2 L1402.0,1262.2 L1403.0,1262.2 L1404.0,1262.2 L1405.0,1262.2 L1406.0,1262.2 L1407.0,1262.2 L1408.0,1262.2 L1409.0,1262.2 L1410.0,1262.2 L1411.0,1262.2 L1412.0,1262.2 L1413.0,1262.2 L1414.0,1262.2 L1415.0,1262.2 L1416.0,1262.2 L1417.0,1262.2 L1418.0,1262.2 L1419.0,1262.2 L1420.0,1262.2 L1421.0,1262.2 L1422.0,1262.2 L1423.0,1262.2 L1424.0,1262.2 L1425.0,1262.2 L1426.0,1262.2 L1427.0,1262.2 L1428.0,1262.2 L1429.0,1262.2 L1430.0,1262.2 L1431.0,1262.2 L1432.0,1262.2 L1433.0,1262.2 L1434.0,1262.2 L1435.0,1262.2 L1436.0,1262.2 L1437.0,1262.2 L1438.0,1262.2 L1439.0,1262.2 L1440.0,1262.2 L1441.0,1262.2 L1442.0,1262.2 L1443.0,1262.2 L1444.0,1262.2 L1445.0,1262.2 L1446.0,1262.2 L1447.0,1262.2 L1448.0,1262.2 L1449.0,1262.2 L1450.0,1262.2 L1451.0,1262.2 L1452.0,1262.2 L1453.0,1262.2 L1454.0,1262.2 L1455.0,1262.2 L1456.0,1262.2 L1457.0,1262.2 L1458.0,1262.2 L1459.0,1262.2 L1460.0,1262.2 L1461.0,1262.2 L1462.0,1262.2 L1463.0,1262.2 L1464.0,1262.2 L1465.0,1262.2 L1466.0,1262.2 L1467.0,1262.2 L1468.0,1262.2 L1469.0,1262.2 L1470.0,1262.2 L1471.0,1262.2 L1472.0,1262.2 L1473.0,1262.2 L1474.0,1262.2 L1475.0,1262.2 L1476.0,1262.2 L1477.0,1262.2 L1478.0,1262.2 L1479.0,1262.2 L1480.0,1262.2 L1481.0,1262.2 L1482.0,1262.2 L1483.0,1262.2 L1484.0,1262.2 L1485.0,1262.2 L1486.0,1262.2 L1487.0,1262.2 L1488.0,1262.2 L1489.0,1262.2 L1490.0,1262.2 L1491.0,1262.2 L1492.0,1262.2 L1493.0,1262.2 L1494.0,1262.2 L1495.0,1262.2 L1496.0,1262.2 L1497.0,1262.2 L1498.0,1262.2 L1499.0,1262.2 L1500.0,1262.2 L1501.0,1262.2 L1502.0,1262.2 L1503.0,1262.2 L1504.0,1262.2 L1505.0,1262.2 L1506.0,1262.2 L1507.0,1262.2 L1508.0,1262.2 L1509.0,1262.2 L1510.0,1262.2 L1511.0,1262.2 L1512.0,1262.2 L1513.0,1262.2 L1514.0,1262.2 L1515.0,1262.2 L1516.0,1262.2 L1517.0,1262.2 L1518.0,1262.2 L1519.0,1262.2 L1520.0,1262.2 L1521.0,1262.2 L1522.0,1262.2 L1523.0,1262.2 L1524.0,1262.2 L1525.0,1262.2 L1526.0,1262.2 L1527.0,1262.2 L1528.0,1262.2 L1529.0,1262.2 L1530.0,1262.2 L1531.0,1262.2 L1532.0,1262.2 L1533.0,1262.2 L1534.0,1262.2 L1535.0,1262.2 L1536.0,1262.2 L1537.0,1262.2 L1538.0,1262.2 L1539.0,1262.2 L1540.0,1262.2 L1541.0,1262.2 L1542.0,1262.2 L1543.0,1262.2 L1544.0,1262.2 L1545.0,1262.2 L1546.0,1262.2 L1547.0,1262.2 L1548.0,1262.2 L1549.0,1262.2 L1550.0,1262.2 L1551.0,1262.2 L1552.0,1262.2 L1553.0,1262.2 L1554.0,1262.2 L1555.0,1262.2 L1556.0,1262.2 L1557.0,1262.2 L1558.0,1262.2 L1559.0,1262.2 L1560.0,1262.2 L1561.0,1262.2 L1562.0,1262.2 L1563.0,1262.2 L1564.0,1262.2 L1565.0,1262.2 L1566.0,1262.2 L1567.0,1262.2 L1568.0,1262.2 L1569.0,1262.2 L1570.0,1262.2 L1571.0,1262.2 L1572.0,1262.2 L1573.0,1262.2 L1574.0,1262.2 L1575.0,1262.2 L1576.0,1262.2 L1577.0,1262.2 L1578.0,1262.2 L1579.0,1262.2 L1580.0,1262.2 L1581.0,1262.2 L1582.0,1262.2 L1583.0,1262.2 L1584.0,1262.2 L1585.0,1262.2 L1586.0,1262.2 L1587.0,1262.2 L1588.0,1262.2 L1589.0,1262.2 L1590.0,1262.2 L1591.0,1262.2 L1592.0,1262.2 L1593.0,1262.2 L1594.0,1262.2 L1595.0,1262.2 L1596.0,1262.2 L1597.0,1262.2 L1598.0,1262.2 L1599.0,1262.2 L1600.0,1262.2 L1601.0,1262.2 L1602.0,1262.2 L1603.0,1262.2 L1604.0,1262.2 L1605.0,1262.2 L1606.0,1262.2 L1607.0,1262.2 L1608.0,1262.2 L1609.0,1262.2 L1610.0,1262.2 L1611.0,1262.2 L1612.0,1262.2 L1613.0,1262.2 L1614.0,1262.2 L1615.0,1262.2 L1616.0,1262.2 L1617.0,1262.2 L1618.0,1262.2 L1619.0,1262.2 L1620.0,1262.2 L1621.0,1262.2 L1622.0,1262.2 L1623.0,1262.2 L1624.0,1262.2 L1625.0,1262.2 L1626.0,1262.2 L1627.0,1262.2 L1628.0,1262.2 L1629.0,1262.2 L1630.0,1262.2 L1631.0,1262.2 L1632.0,1262.2 L1633.0,1262.2 L1634.0,1262.2 L1635.0,1262.2 L1636.0,1262.2 L1637.0,1262.2 L1638.0,1262.2 L1639.0,1262.2 L1640.0,1262.2 L1641.0,1262.2 L1642.0,1262.2 L1643.0,1262.2 L1644.0,1262.2 L1645.0,1262.2 L1646.0,1262.2 L1647.0,1262.2 L1648.0,1262.2 L1649.0,1262.2 L1650.0,1262.2 L1651.0,1262.2 L1652.0,1262.2 L1653.0,1262.2 L1654.0,1262.2 L1655.0,1262.2 L1656.0,1262.2 L1657.0,1262.2 L1658.0,1262.2 L1659.0,1262.2 L1660.0,1262.2 L1661.0,1262.2 L1662.0,1262.2 L1663.0,1262.2 L1664.0,1262.2 L1665.0,1262.2 L1666.0,1262.2 L1667.0,1262.2 L1668.0,1262.2 L1669.0,1262.2 L1670.0,1262.2 L1671.0,1262.2 L1672.0,1262.2 L1673.0,1262.2 L1674.0,1262.2 L1675.0,1262.2 L1676.0,1262.2 L1677.0,1262.2 L1678.0,1262.2 L1679.0,1262.2 L1680.0,1262.2 L1681.0,1262.2 L1682.0,1262.2 L1683.0,1262.2 L1684.0,1262.2 L1685.0,1262.2 L1686.0,1262.2 L1687.0,1262.2 L1688.0,1262.2 L1689.0,1262.2 L1690.0,1262.2 L1691.0,1262.2 L1692.0,1262.2 L1693.0,1262.2 L1694.0,1262.2 L1695.0,1262.2 L1696.0,1262.2 L1697.0,1262.2 L1698.0,1262.2 L1699.0,1262.2 L1700.0,1262.2 L1701.0,1262.2 L1702.0,1262.2 L1703.0,1262.2 L1704.0,1262.2 L1705.0,1262.2 L1706.0,1262.2 L1707.0,1262.2 L1708.0,1262.2 L1709.0,1262.2 L1710.0,1262.2 L1711.0,1262.2 L1712.0,1262.2 L1713.0,1262.2 L1714.0,1262.2 L1715.0,1262.2 L1716.0,1262.2 L1717.0,1262.2 L1718.0,1262.2 L1719.0,1262.2 L1720.0,1262.2 L1721.0,1262.2 L1722.0,1262.2 L1723.0,1262.2 L1724.0,1262.2 L1725.0,1262.2 L1726.0,1262.2 L1727.0,1262.2 L1728.0,1262.2 L1729.0,1262.2 L1730.0,1262.2 L1731.0,1262.2 L1732.0,1262.2 L1733.0,1262.2 L1734.0,1262.2 L1735.0,1262.2 L1736.0,1262.2 L1737.0,1262.2 L1738.0,1262.2 L1739.0,1262.2 L1740.0,1262.2 L1741.0,1262.2 L1742.0,1262.2 L1743.0,1262.2 L1744.0,1262.2 L1745.0,1262.2 L1746.0,1262.2 L1747.0,1262.2 L1748.0,1262.2 L1749.0,1262.2 L1750.0,1262.2 L1751.0,1262.2 L1752.0,1262.2 L1753.0,1262.2 L1754.0,1262.2 L1755.0,1262.2 L1756.0,1262.2 L1757.0,1262.2 L1758.0,1262.2 L1759.0,1262.2 L1760.0,1262.2 L1761.0,1262.2 L1762.0,1262.2 L1763.0,1262.2 L1764.0,1262.2 L1765.0,1262.2 L1766.0,1262.2 L1767.0,1262.2 L1768.0,1262.2 L1769.0,1262.2 L1770.0,1262.2 L1771.0,1262.2 L1772.0,1262.2 L1773.0,1262.2 L1774.0,1262.2 L1775.0,1262.2 L1776.0,1262.2 L1777.0,1262.2 L1778.0,1262.2 L1779.0,1262.2 L1780.0,1262.2 L1781.0,1262.2 L1782.0,1262.2 L1783.0,1262.2 L1784.0,1262.2 L1785.0,1262.2 L1786.0,1262.2 L1787.0,1262.2 L1788.0,1262.2 L1789.0,1262.2 L1790.0,1262.2 L1791.0,1262.2 L1792.0,1262.2 L1793.0,1262.2 L1794.0,1262.2 L1795.0,1262.2 L1796.0,1262.2 L1797.0,1262.2 L1798.0,1262.2 L1799.0,1262.2 L1800.0,1262.2 L1801.0,1262.2 L1802.0,1262.2 L1803.0,1262.2 L1804.0,1262.2 L1805.0,1262.2 L1806.0,1262.2 L1807.0,1262.2 L1808.0,1262.2 L1809.0,1262.2 L1810.0,1262.2 L1811.0,1262.2 L1812.0,1262.2 L1813.0,1262.2 L1814.0,1262.2 L1815.0,1262.2 L1816.0,1262.2 L1817.0,1262.2 L1818.0,1262.2 L1819.0,1262.2 L1820.0,1262.2 L1821.0,1262.2 L1822.0,1262.2 L1823.0,1262.2 L1824.0,1262.2 L1825.0,1262.2 L1826.0,1262.2 L1827.0,1262.2 L1828.0,1262.2 L1829.0,1262.2 L1830.0,1262.2 L1831.0,1262.2 L1832.0,1262.2 L1833.0,1262.2 L1834.0,1262.2 L1835.0,1262.2 L1836.0,1262.2 L1837.0,1262.2 L1838.0,1262.2 L1839.0,1262.2 L1840.0,1262.2 L1841.0,1262.2 L1842.0,1262.2 L1843.0,1262.2 L1844.0,1262.2 L1845.0,1262.2 L1846.0,1262.2 L1847.0,1262.2 L1848.0,1262.2 L1849.0,1262.2 L1850.0,1262.2 L1851.0,1262.2 L1852.0,1262.2 L1853.0,1262.2 L1854.0,1262.2 L1855.0,1262.2 L1856.0,1262.2 L1857.0,1262.2 L1858.0,1262.2 L1859.0,1262.2 L1860.0,1262.2 L1861.0,1262.2 L1862.0,1262.2 L1863.0,1262.2 L1864.0,1262.2 L1865.0,1262.2 L1866.0,1262.2 L1867.0,1262.2 L1868.0,1262.2 L1869.0,1262.2 L1870.0,1262.2 L1871.0,1262.2 L1872.0,1262.2 L1873.0,1262.2 L1874.0,1262.2 L1875.0,1262.2 L1876.0,1262.2 L1877.0,1262.2 L1878.0,1262.2 L1879.0,1262.2 L1880.0,1262.2 L1881.0,1262.2 L1882.0,1262.2 L1883.0,1262.2 L1884.0,1262.2 L1885.0,1262.2 L1886.0,1262.2 L1887.0,1262.2 L1888.0,1262.2 L1889.0,1262.2 L1890.0,1262.2 L1891.0,1262.2 L1892.0,1262.2 L1893.0,1262.2 L1894.0,1262.2 L1895.0,1262.2 L1896.0,1262.2 L1897.0,1262.2 L1898.0,1262.2 L1899.0,1262.2 L1900.0,1262.2 L1901.0,1262.2 L1902.0,1262.2 L1903.0,1262.2 L1904.0,1262.2 L1905.0,1262.2 L1906.0,1262.2 L1907.0,1262.2 L1908.0,1262.2 L1909.0,1262.2 L1910.0,1262.2 L1911.0,1262.2 L1912.0,1262.2 L1913.0,1262.2 L1914.0,1262.2 L1915.0,1262.2 L1916.0,1262.2 L1917.0,1262.2 L1918.0,1262.2 L1919.0,1262.2 L1920.0,1262.2 L1921.0,1262.2 L1922.0,1262.2 L1923.0,1262.2 L1924.0,1262.2 L1925.0,1262.2 L1926.0,1262.2 L1927.0,1262.2 L1928.0,1262.2 L1929.0,1262.2 L1930.0,1262.2 L1931.0,1262.2 L1932.0,1262.2 L1933.0,1262.2 L1934.0,1262.2 L1935.0,1262.2 L1936.0,1262.2 L1937.0,1262.2 L1938.0,1262.2 L1939.0,1262.2 L1940.0,1262.2 L1941.0,1262.2 L1942.0,1262.2 L1943.0,1262.2 L1944.0,1262.2 L1945.0,1262.2 L1946.0,1262.2 L1947.0,1262.2 L1948.0,1262.2 L1949.0,1262.2 L1950.0,1262.2 L1951.0,1262.2 L1952.0,1262.2 L1953.0,1262.2 L1954.0,1262.2 L1955.0,1262.2" stroke="#14bd38" stroke-width="3.2"/>
</g>
<g class="b" font-size="64">
<text x="268.6" y="1282">0</text>
<text y="1139.8"><tspan x="153.2">1</tspan><tspan x="190.2" dy="2" font-size="38" font-weight="normal">×</tspan><tspan x="216" dy="-2">10</tspan><tspan x="282" dy="-35.4" font-size="39">4</tspan></text>
<text y="989.8"><tspan x="153.2">2</tspan><tspan x="190.2" dy="2" font-size="38" font-weight="normal">×</tspan><tspan x="216" dy="-2">10</tspan><tspan x="282" dy="-35.4" font-size="39">4</tspan></text>
<text y="839.8"><tspan x="153.2">3</tspan><tspan x="190.2" dy="2" font-size="38" font-weight="normal">×</tspan><tspan x="216" dy="-2">10</tspan><tspan x="282" dy="-35.4" font-size="39">4</tspan></text>
<text y="689.8"><tspan x="153.2">4</tspan><tspan x="190.2" dy="2" font-size="38" font-weight="normal">×</tspan><tspan x="216" dy="-2">10</tspan><tspan x="282" dy="-35.4" font-size="39">4</tspan></text>
<text y="539.8"><tspan x="153.2">5</tspan><tspan x="190.2" dy="2" font-size="38" font-weight="normal">×</tspan><tspan x="216" dy="-2">10</tspan><tspan x="282" dy="-35.4" font-size="39">4</tspan></text>
<text y="389.8"><tspan x="153.2">6</tspan><tspan x="190.2" dy="2" font-size="38" font-weight="normal">×</tspan><tspan x="216" dy="-2">10</tspan><tspan x="282" dy="-35.4" font-size="39">4</tspan></text>
<text y="239.8"><tspan x="153.2">7</tspan><tspan x="190.2" dy="2" font-size="38" font-weight="normal">×</tspan><tspan x="216" dy="-2">10</tspan><tspan x="282" dy="-35.4" font-size="39">4</tspan></text>
<text y="89.8"><tspan x="153.2">8</tspan><tspan x="190.2" dy="2" font-size="38" font-weight="normal">×</tspan><tspan x="216" dy="-2">10</tspan><tspan x="282" dy="-35.4" font-size="39">4</tspan></text>
</g>
<g class="b" font-size="64" text-anchor="middle">
<text x="327.0" y="1340.1">900</text>
<text x="508.0" y="1340.1">950</text>
<text x="689.0" y="1340.1">1000</text>
<text x="869.9" y="1340.1">1050</text>
<text x="1050.9" y="1340.1">1100</text>
<text x="1231.9" y="1340.1">1150</text>
<text x="1412.9" y="1340.1">1200</text>
<text x="1593.8" y="1340.1">1250</text>
<text x="1774.8" y="1340.1">1300</text>
<text x="1955.8" y="1340.1">1350</text>
</g>
<text class="b" font-size="74.6" x="799.8" y="1442.8">Raman Shift (cm<tspan font-size="56" font-weight="normal" x="1331.6" dy="-37.5">−</tspan><tspan font-size="54" x="1366.7" dy="-3.2" stroke="#000" stroke-width="1.2">1</tspan><tspan x="1392.6" dy="40.7">)</tspan></text>
<text class="b" font-size="97" transform="translate(94.5,932.2) rotate(-90)">Intensity (a.u.)</text>
<text class="b" font-size="48.5" y="229.3"><tspan x="969.3" dx="0 0 2.4">1100 cm</tspan><tspan font-size="40" font-weight="normal" x="1119.3" dy="-21.2">−</tspan><tspan font-size="28" x="1146.2" dy="-5.4" stroke="#000" stroke-width="1.1">1</tspan></text>
<g fill="none" stroke-linecap="round">
<path d="M1607.8,155.2 h5 M1659,155.2 h5 M1710.3,155.2 h5" stroke="#000" stroke-width="10"/>
<line x1="1607.5" x2="1740" y1="228.3" y2="228.3" stroke="#f00" stroke-width="6.5"/>
<line x1="1607.5" x2="1740" y1="301.2" y2="301.2" stroke="#00f" stroke-width="6.5"/>
<line x1="1606" x2="1742" y1="374.2" y2="374.2" stroke="#0f0" stroke-width="3.2"/>
</g>
<g font-size="58" letter-spacing="-0.7">
<text x="1754.8" y="174.8">A6C1</text>
<text x="1754.8" y="247.9">A6C2</text>
<text x="1754.8" y="320.8">A6C3</text>
<text x="1754.8" y="393.8">A6C4</text>
</g>
</svg></body></html>
